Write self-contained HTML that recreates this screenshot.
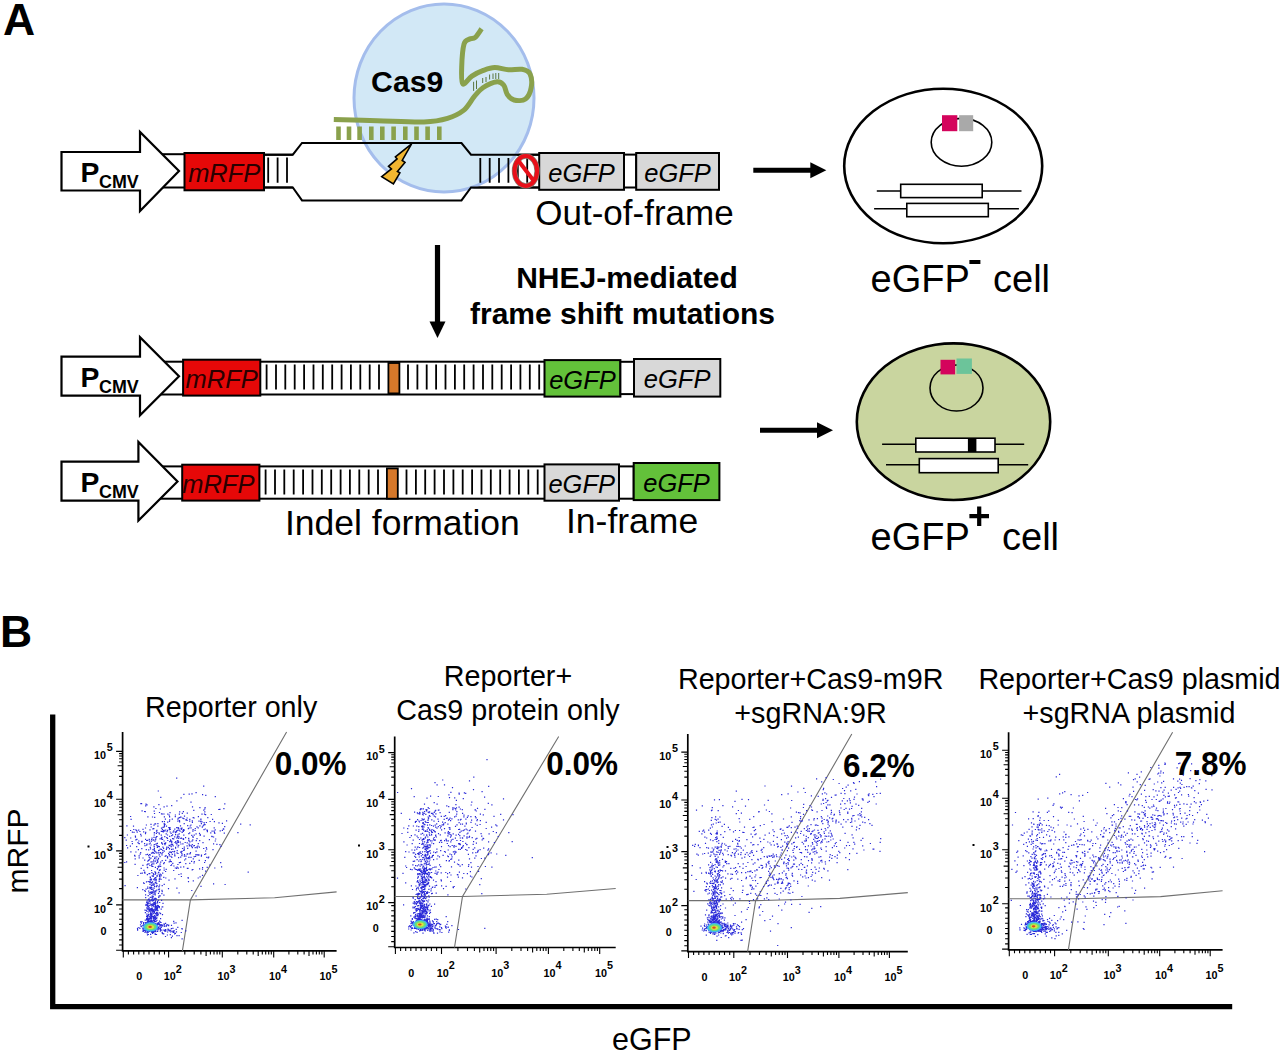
<!DOCTYPE html>
<html><head><meta charset="utf-8"><style>
html,body{margin:0;padding:0;background:#fff;}
svg{display:block;font-family:"Liberation Sans", sans-serif;}
</style></head><body>
<svg width="1280" height="1053" viewBox="0 0 1280 1053">
<rect width="1280" height="1053" fill="#fff"/>
<text x="3" y="35.2" font-size="44.5" font-weight="bold">A</text>
<rect x="140" y="154.2" width="45" height="33.30000000000001" fill="#fff" stroke="#000" stroke-width="2"/>
<polygon points="61.5,152 140,152 140,132 179,171 140,211 140,190.5 61.5,190.5" fill="#fff" stroke="#000" stroke-width="2.2" stroke-linejoin="miter"/>
<text x="80.5" y="181.5" font-size="28.3" font-weight="bold">P</text>
<text x="99" y="188.3" font-size="17.9" font-weight="bold">CMV</text>
<rect x="264" y="154.7" width="36" height="32.80000000000001" fill="#fff" stroke="#000" stroke-width="2"/>
<rect x="465" y="154.7" width="75" height="32.80000000000001" fill="#fff" stroke="#000" stroke-width="2"/>
<polygon points="292.8,154.7 302,143 461.5,143 471,154.7 471,187.5 461.5,200.4 302,200.4 292.8,187.5" fill="#fff" stroke="none"/>
<ellipse cx="444" cy="98" rx="90" ry="94" fill="#d2e8f6" stroke="#a4bdec" stroke-width="3"/>
<polyline points="264,154.7 292.8,154.7 302,143 461.5,143 471,154.7 540,154.7" fill="none" stroke="#000" stroke-width="2"/>
<polyline points="264,187.5 292.8,187.5 302,200.4 461.5,200.4 471,187.5 540,187.5" fill="none" stroke="#000" stroke-width="2"/>
<path d="M268.2 157.5V182.8M277.6 157.5V182.8M287.0 157.5V182.8" stroke="#000" stroke-width="1.8" fill="none"/>
<path d="M480.3 158V182.8M489.7 158V182.8M499.0 158V182.8M508.4 158V182.8M517.8 158V182.8M527.2 158V182.8" stroke="#000" stroke-width="1.8" fill="none"/>
<rect x="184.5" y="153" width="79.5" height="37.30000000000001" fill="#e60808" stroke="#000" stroke-width="2"/>
<text x="224.25" y="181.85" font-size="25.5" font-style="italic" text-anchor="middle" fill="#2a0000">mRFP</text>
<rect x="539.2" y="153" width="84.79999999999995" height="36.80000000000001" fill="#d8d8d8" stroke="#000" stroke-width="2"/>
<text x="581.6" y="181.6" font-size="25.5" font-style="italic" text-anchor="middle" fill="#000">eGFP</text>
<rect x="624" y="154.6" width="12.200000000000045" height="32.900000000000006" fill="#fff" stroke="#000" stroke-width="2"/>
<rect x="636.2" y="153" width="82.79999999999995" height="36.80000000000001" fill="#d8d8d8" stroke="#000" stroke-width="2"/>
<text x="677.6" y="181.6" font-size="25.5" font-style="italic" text-anchor="middle" fill="#000">eGFP</text>
<g fill="#8aa14c"><rect x="336.2" y="126.5" width="4.6" height="13.5"/><rect x="346.7" y="126.5" width="4.6" height="13.5"/><rect x="357.3" y="126.5" width="4.6" height="13.5"/><rect x="369.0" y="126.5" width="4.6" height="13.5"/><rect x="380.0" y="126.5" width="4.6" height="13.5"/><rect x="391.3" y="126.5" width="4.6" height="13.5"/><rect x="403.0" y="126.5" width="4.6" height="13.5"/><rect x="414.2" y="126.5" width="4.6" height="13.5"/><rect x="425.3" y="126.5" width="4.6" height="13.5"/><rect x="437.0" y="126.5" width="4.6" height="13.5"/></g>
<path d="M333.8 119.5C341.0 119.7 362.2 120.3 377.2 120.7C392.2 121.1 412.3 122.3 424.0 121.9C435.7 121.5 440.9 120.3 447.5 118.3C454.1 116.3 459.4 113.7 463.9 110.1C468.3 106.5 471.0 100.4 474.2 96.6C477.4 92.8 479.5 90.0 483.3 87.5C487.1 85.0 493.6 82.2 497.0 81.8C500.4 81.4 502.1 83.1 503.8 85.2C505.5 87.3 505.5 91.8 507.2 94.3C508.9 96.8 510.9 99.2 514.0 100.0C517.0 100.8 522.6 101.0 525.5 98.9C528.4 96.8 530.5 91.7 531.2 87.5C532.0 83.3 531.5 76.8 530.0 73.8C528.5 70.8 525.6 70.0 522.0 69.3C518.4 68.6 512.9 70.1 508.4 69.8C503.8 69.5 498.9 67.4 494.7 67.5C490.5 67.6 487.1 69.0 483.3 70.4C479.5 71.8 475.3 73.8 471.9 76.1C468.5 78.4 464.5 85.5 462.8 84.0C461.1 82.5 461.5 73.6 461.7 67.0C461.9 60.4 462.7 48.9 464.0 44.2C465.3 39.5 467.7 40.1 469.6 39.0C471.5 37.9 473.3 39.1 475.3 37.4C477.3 35.7 480.6 30.2 481.6 28.8" fill="none" stroke="#8aa14c" stroke-width="5" stroke-linejoin="round" stroke-linecap="butt"/>
<path d="M473.6 81.8V90.9M476.5 80.5V89M482.7 78V83M486 77V82M489.6 74.5V79.5M493 73.5V79M495.8 73V79M498.7 73V79" stroke="#4e6a2a" stroke-width="0.9"/>
<polygon points="411.6,143.8 395.4,156.9 397.1,158.9 388.5,166.3 391.4,168.9 381.7,176.6 393.4,184 399.9,172.9 397.4,171.5 405,162.4 402.2,160.4" fill="#f2b630" stroke="#000" stroke-width="1.6" stroke-linejoin="miter"/>
<ellipse cx="525.8" cy="171" rx="11.3" ry="14.9" fill="none" stroke="#8a7a70" stroke-width="5.4"/>
<ellipse cx="525.8" cy="171" rx="11.3" ry="14.9" fill="none" stroke="#e8101a" stroke-width="4"/>
<line x1="519" y1="161.5" x2="533.5" y2="180.5" stroke="#e8101a" stroke-width="4"/>
<text x="634.5" y="225" font-size="35" text-anchor="middle">Out-of-frame</text>

<text x="407.2" y="91.6" font-size="30.2" font-weight="bold" text-anchor="middle">Cas9</text>
<line x1="753.3" y1="170.2" x2="812.3" y2="170.2" stroke="#000" stroke-width="5"/>
<polygon points="810.3,162.2 826.3,170.2 810.3,178.2" fill="#000"/>
<line x1="760" y1="430.2" x2="819" y2="430.2" stroke="#000" stroke-width="5"/>
<polygon points="817,422.2 833,430.2 817,438.2" fill="#000"/>
<ellipse cx="943.2" cy="166" rx="99" ry="77.3" fill="#fff" stroke="#000" stroke-width="2.6"/>
<ellipse cx="961.5" cy="142.3" rx="30.3" ry="23.9" fill="none" stroke="#000" stroke-width="1.6"/>
<rect x="942" y="115.2" width="15.3" height="16" fill="#d4045c"/>
<rect x="959.1" y="115.2" width="14.1" height="16" fill="#a9a9a9"/>
<path d="M876.8 191H1021.5M874.1 208.7H1018.9" stroke="#000" stroke-width="1.6"/>
<rect x="900.7" y="184.3" width="81.5" height="13.3" fill="#fff" stroke="#000" stroke-width="1.6"/>
<rect x="906.8" y="203.4" width="81.5" height="13.3" fill="#fff" stroke="#000" stroke-width="1.6"/>
<text x="870.5" y="291.8" font-size="38">eGFP</text>
<rect x="969.4" y="260" width="11" height="4" fill="#000"/>
<text x="993" y="291.8" font-size="38">cell</text>
<line x1="437.5" y1="245" x2="437.5" y2="323" stroke="#000" stroke-width="5.2"/>
<polygon points="429.5,321.5 445.5,321.5 437.5,338" fill="#000"/>
<text x="627" y="287.8" font-size="30" font-weight="bold" text-anchor="middle">NHEJ-mediated</text>
<text x="622.5" y="323.75" font-size="30" font-weight="bold" text-anchor="middle">frame shift mutations</text>
<rect x="140" y="361.7" width="45" height="32.80000000000001" fill="#fff" stroke="#000" stroke-width="2"/>
<polygon points="61.5,356.6 140,356.6 140,337.2 179,376.25 140,415.3 140,395.6 61.5,395.6" fill="#fff" stroke="#000" stroke-width="2.2" stroke-linejoin="miter"/>
<text x="80.5" y="386.5" font-size="28.3" font-weight="bold">P</text>
<text x="99" y="393.3" font-size="17.9" font-weight="bold">CMV</text>
<rect x="260" y="361.7" width="285" height="32.80000000000001" fill="#fff" stroke="#000" stroke-width="2"/>
<path d="M266.6 364.4V389.4M276.0 364.4V389.4M285.3 364.4V389.4M294.7 364.4V389.4M304.1 364.4V389.4M313.5 364.4V389.4M322.8 364.4V389.4M332.2 364.4V389.4M341.6 364.4V389.4M350.9 364.4V389.4M360.3 364.4V389.4M369.7 364.4V389.4M379.0 364.4V389.4" stroke="#000" stroke-width="1.8" fill="none"/>
<path d="M408.0 364.4V389.4M417.4 364.4V389.4M426.7 364.4V389.4M436.1 364.4V389.4M445.5 364.4V389.4M454.9 364.4V389.4M464.2 364.4V389.4M473.6 364.4V389.4M483.0 364.4V389.4M492.3 364.4V389.4M501.7 364.4V389.4M511.1 364.4V389.4M520.4 364.4V389.4M529.8 364.4V389.4M539.2 364.4V389.4" stroke="#000" stroke-width="1.8" fill="none"/>
<rect x="388.4" y="363" width="11" height="30.4" fill="#d6782a" stroke="#000" stroke-width="1.8"/>
<rect x="183.1" y="359.7" width="77.20000000000002" height="35.900000000000034" fill="#e60808" stroke="#000" stroke-width="2"/>
<text x="221.7" y="387.84999999999997" font-size="25.5" font-style="italic" text-anchor="middle" fill="#2a0000">mRFP</text>
<rect x="544.5" y="360.1" width="75.89999999999998" height="36.5" fill="#63c13a" stroke="#000" stroke-width="2"/>
<text x="582.45" y="388.55" font-size="25.5" font-style="italic" text-anchor="middle" fill="#000">eGFP</text>
<rect x="620.4" y="361.8" width="13.600000000000023" height="32.30000000000001" fill="#fff" stroke="#000" stroke-width="2"/>
<rect x="634" y="359" width="86.29999999999995" height="37.60000000000002" fill="#d8d8d8" stroke="#000" stroke-width="2"/>
<text x="677.15" y="388.0" font-size="25.5" font-style="italic" text-anchor="middle" fill="#000">eGFP</text>
<rect x="140" y="466.4" width="45" height="32.30000000000001" fill="#fff" stroke="#000" stroke-width="2"/>
<polygon points="61.5,461.6 138.4,461.6 138.4,441.9 177.5,481.6 138.4,520.6 138.4,500.6 61.5,500.6" fill="#fff" stroke="#000" stroke-width="2.2" stroke-linejoin="miter"/>
<text x="80.5" y="491.5" font-size="28.3" font-weight="bold">P</text>
<text x="99" y="498.3" font-size="17.9" font-weight="bold">CMV</text>
<rect x="259" y="466.4" width="286" height="32.30000000000001" fill="#fff" stroke="#000" stroke-width="2"/>
<path d="M265.6 469.5V494.5M275.0 469.5V494.5M284.3 469.5V494.5M293.7 469.5V494.5M303.1 469.5V494.5M312.5 469.5V494.5M321.8 469.5V494.5M331.2 469.5V494.5M340.6 469.5V494.5M349.9 469.5V494.5M359.3 469.5V494.5M368.7 469.5V494.5M378.0 469.5V494.5" stroke="#000" stroke-width="1.8" fill="none"/>
<path d="M406.5 469.5V494.5M415.9 469.5V494.5M425.2 469.5V494.5M434.6 469.5V494.5M444.0 469.5V494.5M453.4 469.5V494.5M462.7 469.5V494.5M472.1 469.5V494.5M481.5 469.5V494.5M490.8 469.5V494.5M500.2 469.5V494.5M509.6 469.5V494.5M518.9 469.5V494.5M528.3 469.5V494.5M537.7 469.5V494.5" stroke="#000" stroke-width="1.8" fill="none"/>
<rect x="386.9" y="468.4" width="10.9" height="30.3" fill="#d6782a" stroke="#000" stroke-width="1.8"/>
<rect x="182.2" y="464.7" width="77.19999999999999" height="35.900000000000034" fill="#e60808" stroke="#000" stroke-width="2"/>
<text x="218.29999999999998" y="492.84999999999997" font-size="25.5" font-style="italic" text-anchor="middle" fill="#2a0000">mRFP</text>
<rect x="544.5" y="464.4" width="74.5" height="36.30000000000001" fill="#d8d8d8" stroke="#000" stroke-width="2"/>
<text x="581.75" y="492.74999999999994" font-size="25.5" font-style="italic" text-anchor="middle" fill="#000">eGFP</text>
<rect x="619" y="466.4" width="14.700000000000045" height="32.30000000000001" fill="#fff" stroke="#000" stroke-width="2"/>
<rect x="633.7" y="463" width="85.69999999999993" height="37.10000000000002" fill="#63c13a" stroke="#000" stroke-width="2"/>
<text x="676.55" y="491.75" font-size="25.5" font-style="italic" text-anchor="middle" fill="#000">eGFP</text>
<text x="285" y="535" font-size="35.5">Indel formation</text>
<text x="566" y="532.5" font-size="35.5">In-frame</text>
<ellipse cx="953.5" cy="421.7" rx="96.7" ry="78.3" fill="#c9d59f" stroke="#000" stroke-width="2.6"/>
<ellipse cx="956.5" cy="388" rx="26.5" ry="23" fill="none" stroke="#000" stroke-width="1.6"/>
<rect x="940.5" y="359.8" width="14.6" height="14.6" fill="#d4045c"/>
<rect x="956.5" y="358.5" width="15.4" height="15.4" fill="#6cc49a"/>
<path d="M882.1 444.3H1024.2M886 464.8H1028.2" stroke="#000" stroke-width="1.6"/>
<rect x="915.8" y="438.2" width="79.2" height="13.8" fill="#fff" stroke="#000" stroke-width="1.6"/>
<rect x="967.9" y="438.2" width="8.5" height="13.8" fill="#000"/>
<rect x="919.3" y="458.6" width="78.9" height="14.1" fill="#fff" stroke="#000" stroke-width="1.6"/>
<text x="870.5" y="549.6" font-size="38">eGFP</text>
<path d="M969.4 516.2H989M979.2 506.4V526" stroke="#000" stroke-width="4.2"/>
<text x="1002" y="549.6" font-size="38">cell</text>
<text x="0" y="647.2" font-size="44.5" font-weight="bold">B</text>
<path d="M52.7 714.6V1006.7H1232.2" fill="none" stroke="#000" stroke-width="5.3"/>
<text transform="translate(28 851) rotate(-90)" font-size="30" text-anchor="middle">mRFP</text>
<text x="651.8" y="1050.4" font-size="30.5" text-anchor="middle">eGFP</text>
<path d="M122.6 731.9V950.9H336.6" fill="none" stroke="#000" stroke-width="1.7"/><path d="M116.1 904.9H122.6M168.6 950.9V957.4M116.1 850.9H122.6M222.3 950.9V957.4M116.1 799.3H122.6M273.7 950.9V957.4M116.1 751.4H122.6M324.2 950.9V957.4M119.1 888.6H122.6M184.8 950.9V954.4M119.1 879.1H122.6M194.2 950.9V954.4M119.1 872.4H122.6M200.9 950.9V954.4M117.6 867.2H122.6M206.1 950.9V955.9M119.1 862.9H122.6M210.4 950.9V954.4M119.1 859.3H122.6M214.0 950.9V954.4M119.1 856.1H122.6M217.1 950.9V954.4M119.1 853.4H122.6M219.8 950.9V954.4M119.1 835.4H122.6M237.8 950.9V954.4M119.1 826.3H122.6M246.8 950.9V954.4M119.1 819.8H122.6M253.2 950.9V954.4M117.6 814.8H122.6M258.2 950.9V955.9M119.1 810.7H122.6M262.3 950.9V954.4M119.1 807.3H122.6M265.7 950.9V954.4M119.1 804.3H122.6M268.7 950.9V954.4M119.1 801.7H122.6M271.3 950.9V954.4M119.1 784.9H122.6M288.9 950.9V954.4M119.1 776.4H122.6M297.8 950.9V954.4M119.1 770.5H122.6M304.1 950.9V954.4M117.6 765.8H122.6M309.0 950.9V955.9M119.1 762.0H122.6M313.0 950.9V954.4M119.1 758.8H122.6M316.4 950.9V954.4M119.1 756.0H122.6M319.3 950.9V954.4M119.1 753.6H122.6M321.9 950.9V954.4M116.1 950.2H122.6M123.3 950.9V957.4M119.1 945.0H122.6M128.4 950.9V954.4M119.1 939.9H122.6M133.6 950.9V954.4M119.1 934.8H122.6M138.8 950.9V954.4M119.1 929.6H122.6M143.9 950.9V954.4M119.1 924.4H122.6M149.0 950.9V954.4M119.1 919.3H122.6M154.2 950.9V954.4M119.1 914.1H122.6M159.3 950.9V954.4M119.1 909.0H122.6M164.5 950.9V954.4" stroke="#000" stroke-width="1.1"/><text x="106.1" y="759.1" font-size="10.8" font-weight="bold" text-anchor="end">10</text><text x="106.69999999999999" y="751.4" font-size="10.8" font-weight="bold">5</text><text x="106.1" y="807.0" font-size="10.8" font-weight="bold" text-anchor="end">10</text><text x="106.69999999999999" y="799.3" font-size="10.8" font-weight="bold">4</text><text x="106.1" y="858.6" font-size="10.8" font-weight="bold" text-anchor="end">10</text><text x="106.69999999999999" y="850.9" font-size="10.8" font-weight="bold">3</text><text x="106.1" y="912.6" font-size="10.8" font-weight="bold" text-anchor="end">10</text><text x="106.69999999999999" y="904.9" font-size="10.8" font-weight="bold">2</text><text x="103.6" y="935.1" font-size="10.8" font-weight="bold" text-anchor="middle">0</text><text x="139.2" y="980.1999999999999" font-size="10.8" font-weight="bold" text-anchor="middle">0</text><text x="175.8" y="980.1999999999999" font-size="10.8" font-weight="bold" text-anchor="end">10</text><text x="175.8" y="972.8" font-size="10.8" font-weight="bold">2</text><text x="229.5" y="980.1999999999999" font-size="10.8" font-weight="bold" text-anchor="end">10</text><text x="229.5" y="972.8" font-size="10.8" font-weight="bold">3</text><text x="280.9" y="980.1999999999999" font-size="10.8" font-weight="bold" text-anchor="end">10</text><text x="280.9" y="972.8" font-size="10.8" font-weight="bold">4</text><text x="331.4" y="980.1999999999999" font-size="10.8" font-weight="bold" text-anchor="end">10</text><text x="331.4" y="972.8" font-size="10.8" font-weight="bold">5</text><polyline points="182.39999999999998,950.9 190.39999999999998,899.9 286.6,731.9" fill="none" stroke="#707070" stroke-width="1.1"/><polyline points="122.6,899.9 190.39999999999998,899.9 274.6,897.6999999999999 336.6,891.9" fill="none" stroke="#707070" stroke-width="1.1"/>
<text transform="translate(310.6 775) scale(1 1.08)" font-size="31.5" font-weight="bold" text-anchor="middle">0.0%</text>
<path d="M394.7 736.5V947.5H615.7" fill="none" stroke="#000" stroke-width="1.7"/><path d="M388.2 902.6H394.7M441.5 947.5V954.0M388.2 849.8H394.7M496.1 947.5V954.0M388.2 799.4H394.7M548.4 947.5V954.0M388.2 752.6H394.7M599.7 947.5V954.0M391.2 886.7H394.7M457.9 947.5V951.0M391.2 877.4H394.7M467.5 947.5V951.0M391.2 870.8H394.7M474.4 947.5V951.0M389.7 865.7H394.7M479.7 947.5V952.5M391.2 861.5H394.7M484.0 947.5V951.0M391.2 858.0H394.7M487.6 947.5V951.0M391.2 854.9H394.7M490.8 947.5V951.0M391.2 852.2H394.7M493.6 947.5V951.0M391.2 834.6H394.7M511.8 947.5V951.0M391.2 825.7H394.7M521.0 947.5V951.0M391.2 819.4H394.7M527.6 947.5V951.0M389.7 814.6H394.7M532.6 947.5V952.5M391.2 810.6H394.7M536.8 947.5V951.0M391.2 807.2H394.7M540.3 947.5V951.0M391.2 804.3H394.7M543.3 947.5V951.0M391.2 801.7H394.7M546.0 947.5V951.0M391.2 785.3H394.7M563.8 947.5V951.0M391.2 777.1H394.7M572.9 947.5V951.0M391.2 771.2H394.7M579.3 947.5V951.0M389.7 766.7H394.7M584.3 947.5V952.5M391.2 763.0H394.7M588.3 947.5V951.0M391.2 759.8H394.7M591.8 947.5V951.0M391.2 757.1H394.7M594.8 947.5V951.0M391.2 754.7H394.7M597.4 947.5V951.0M388.2 946.8H394.7M395.4 947.5V954.0M391.2 941.6H394.7M400.6 947.5V951.0M391.2 936.5H394.7M405.7 947.5V951.0M391.2 931.4H394.7M410.8 947.5V951.0M391.2 926.2H394.7M416.0 947.5V951.0M391.2 921.0H394.7M421.1 947.5V951.0M391.2 915.9H394.7M426.3 947.5V951.0M391.2 910.8H394.7M431.4 947.5V951.0M391.2 905.6H394.7M436.6 947.5V951.0" stroke="#000" stroke-width="1.1"/><text x="378.2" y="760.3" font-size="10.8" font-weight="bold" text-anchor="end">10</text><text x="378.8" y="752.6" font-size="10.8" font-weight="bold">5</text><text x="378.2" y="807.1" font-size="10.8" font-weight="bold" text-anchor="end">10</text><text x="378.8" y="799.4" font-size="10.8" font-weight="bold">4</text><text x="378.2" y="857.5" font-size="10.8" font-weight="bold" text-anchor="end">10</text><text x="378.8" y="849.8" font-size="10.8" font-weight="bold">3</text><text x="378.2" y="910.3" font-size="10.8" font-weight="bold" text-anchor="end">10</text><text x="378.8" y="902.6" font-size="10.8" font-weight="bold">2</text><text x="375.7" y="931.7" font-size="10.8" font-weight="bold" text-anchor="middle">0</text><text x="411.3" y="976.8" font-size="10.8" font-weight="bold" text-anchor="middle">0</text><text x="448.7" y="976.8" font-size="10.8" font-weight="bold" text-anchor="end">10</text><text x="448.7" y="969.4" font-size="10.8" font-weight="bold">2</text><text x="503.3" y="976.8" font-size="10.8" font-weight="bold" text-anchor="end">10</text><text x="503.3" y="969.4" font-size="10.8" font-weight="bold">3</text><text x="555.6" y="976.8" font-size="10.8" font-weight="bold" text-anchor="end">10</text><text x="555.6" y="969.4" font-size="10.8" font-weight="bold">4</text><text x="606.9" y="976.8" font-size="10.8" font-weight="bold" text-anchor="end">10</text><text x="606.9" y="969.4" font-size="10.8" font-weight="bold">5</text><polyline points="454.5,947.5 462.5,896.5 558.7,736.5" fill="none" stroke="#707070" stroke-width="1.1"/><polyline points="394.7,896.5 462.5,896.5 546.7,894.3 615.7,888.5" fill="none" stroke="#707070" stroke-width="1.1"/>
<text transform="translate(582.1 775) scale(1 1.08)" font-size="31.5" font-weight="bold" text-anchor="middle">0.0%</text>
<path d="M687.8 734.0V951.6H907.8" fill="none" stroke="#000" stroke-width="1.7"/><path d="M681.3 905.6H687.8M733.8 951.6V958.1M681.3 851.6H687.8M787.5 951.6V958.1M681.3 800.0H687.8M838.9 951.6V958.1M681.3 752.1H687.8M889.4 951.6V958.1M684.3 889.3H687.8M750.0 951.6V955.1M684.3 879.8H687.8M759.4 951.6V955.1M684.3 873.1H687.8M766.1 951.6V955.1M682.8 867.9H687.8M771.3 951.6V956.6M684.3 863.6H687.8M775.6 951.6V955.1M684.3 860.0H687.8M779.2 951.6V955.1M684.3 856.8H687.8M782.3 951.6V955.1M684.3 854.1H687.8M785.0 951.6V955.1M684.3 836.1H687.8M803.0 951.6V955.1M684.3 827.0H687.8M812.0 951.6V955.1M684.3 820.5H687.8M818.4 951.6V955.1M682.8 815.5H687.8M823.4 951.6V956.6M684.3 811.4H687.8M827.5 951.6V955.1M684.3 808.0H687.8M830.9 951.6V955.1M684.3 805.0H687.8M833.9 951.6V955.1M684.3 802.4H687.8M836.5 951.6V955.1M684.3 785.6H687.8M854.1 951.6V955.1M684.3 777.1H687.8M863.0 951.6V955.1M684.3 771.2H687.8M869.3 951.6V955.1M682.8 766.5H687.8M874.2 951.6V956.6M684.3 762.7H687.8M878.2 951.6V955.1M684.3 759.5H687.8M881.6 951.6V955.1M684.3 756.7H687.8M884.5 951.6V955.1M684.3 754.3H687.8M887.1 951.6V955.1M681.3 950.9H687.8M688.5 951.6V958.1M684.3 945.8H687.8M693.6 951.6V955.1M684.3 940.6H687.8M698.8 951.6V955.1M684.3 935.5H687.8M703.9 951.6V955.1M684.3 930.3H687.8M709.1 951.6V955.1M684.3 925.1H687.8M714.2 951.6V955.1M684.3 920.0H687.8M719.4 951.6V955.1M684.3 914.9H687.8M724.5 951.6V955.1M684.3 909.7H687.8M729.7 951.6V955.1" stroke="#000" stroke-width="1.1"/><text x="671.3" y="759.8" font-size="10.8" font-weight="bold" text-anchor="end">10</text><text x="671.9" y="752.1" font-size="10.8" font-weight="bold">5</text><text x="671.3" y="807.7" font-size="10.8" font-weight="bold" text-anchor="end">10</text><text x="671.9" y="800.0" font-size="10.8" font-weight="bold">4</text><text x="671.3" y="859.3" font-size="10.8" font-weight="bold" text-anchor="end">10</text><text x="671.9" y="851.6" font-size="10.8" font-weight="bold">3</text><text x="671.3" y="913.3" font-size="10.8" font-weight="bold" text-anchor="end">10</text><text x="671.9" y="905.6" font-size="10.8" font-weight="bold">2</text><text x="668.8" y="935.8" font-size="10.8" font-weight="bold" text-anchor="middle">0</text><text x="704.4" y="980.9" font-size="10.8" font-weight="bold" text-anchor="middle">0</text><text x="741.0" y="980.9" font-size="10.8" font-weight="bold" text-anchor="end">10</text><text x="741.0" y="973.5" font-size="10.8" font-weight="bold">2</text><text x="794.7" y="980.9" font-size="10.8" font-weight="bold" text-anchor="end">10</text><text x="794.7" y="973.5" font-size="10.8" font-weight="bold">3</text><text x="846.1" y="980.9" font-size="10.8" font-weight="bold" text-anchor="end">10</text><text x="846.1" y="973.5" font-size="10.8" font-weight="bold">4</text><text x="896.6" y="980.9" font-size="10.8" font-weight="bold" text-anchor="end">10</text><text x="896.6" y="973.5" font-size="10.8" font-weight="bold">5</text><polyline points="747.5999999999999,951.6 755.5999999999999,900.6 851.8,734.0" fill="none" stroke="#707070" stroke-width="1.1"/><polyline points="687.8,900.6 755.5999999999999,900.6 839.8,898.4 907.8,892.6" fill="none" stroke="#707070" stroke-width="1.1"/>
<text transform="translate(878.8 776.7) scale(1 1.08)" font-size="31.5" font-weight="bold" text-anchor="middle">6.2%</text>
<path d="M1008.6 732.1999999999999V949.8H1222.6" fill="none" stroke="#000" stroke-width="1.7"/><path d="M1002.1 903.8H1008.6M1054.6 949.8V956.3M1002.1 849.8H1008.6M1108.3 949.8V956.3M1002.1 798.2H1008.6M1159.7 949.8V956.3M1002.1 750.3H1008.6M1210.2 949.8V956.3M1005.1 887.5H1008.6M1070.8 949.8V953.3M1005.1 878.0H1008.6M1080.2 949.8V953.3M1005.1 871.3H1008.6M1086.9 949.8V953.3M1003.6 866.1H1008.6M1092.1 949.8V954.8M1005.1 861.8H1008.6M1096.4 949.8V953.3M1005.1 858.2H1008.6M1100.0 949.8V953.3M1005.1 855.0H1008.6M1103.1 949.8V953.3M1005.1 852.3H1008.6M1105.8 949.8V953.3M1005.1 834.3H1008.6M1123.8 949.8V953.3M1005.1 825.2H1008.6M1132.8 949.8V953.3M1005.1 818.7H1008.6M1139.2 949.8V953.3M1003.6 813.7H1008.6M1144.2 949.8V954.8M1005.1 809.6H1008.6M1148.3 949.8V953.3M1005.1 806.2H1008.6M1151.7 949.8V953.3M1005.1 803.2H1008.6M1154.7 949.8V953.3M1005.1 800.6H1008.6M1157.3 949.8V953.3M1005.1 783.8H1008.6M1174.9 949.8V953.3M1005.1 775.3H1008.6M1183.8 949.8V953.3M1005.1 769.4H1008.6M1190.1 949.8V953.3M1003.6 764.7H1008.6M1195.0 949.8V954.8M1005.1 760.9H1008.6M1199.0 949.8V953.3M1005.1 757.7H1008.6M1202.4 949.8V953.3M1005.1 754.9H1008.6M1205.3 949.8V953.3M1005.1 752.5H1008.6M1207.9 949.8V953.3M1002.1 949.1H1008.6M1009.3 949.8V956.3M1005.1 943.9H1008.6M1014.5 949.8V953.3M1005.1 938.8H1008.6M1019.6 949.8V953.3M1005.1 933.6H1008.6M1024.8 949.8V953.3M1005.1 928.5H1008.6M1029.9 949.8V953.3M1005.1 923.3H1008.6M1035.0 949.8V953.3M1005.1 918.2H1008.6M1040.2 949.8V953.3M1005.1 913.0H1008.6M1045.4 949.8V953.3M1005.1 907.9H1008.6M1050.5 949.8V953.3" stroke="#000" stroke-width="1.1"/><text x="992.1" y="758.0" font-size="10.8" font-weight="bold" text-anchor="end">10</text><text x="992.7" y="750.3" font-size="10.8" font-weight="bold">5</text><text x="992.1" y="805.9" font-size="10.8" font-weight="bold" text-anchor="end">10</text><text x="992.7" y="798.2" font-size="10.8" font-weight="bold">4</text><text x="992.1" y="857.5" font-size="10.8" font-weight="bold" text-anchor="end">10</text><text x="992.7" y="849.8" font-size="10.8" font-weight="bold">3</text><text x="992.1" y="911.5" font-size="10.8" font-weight="bold" text-anchor="end">10</text><text x="992.7" y="903.8" font-size="10.8" font-weight="bold">2</text><text x="989.6" y="934.0" font-size="10.8" font-weight="bold" text-anchor="middle">0</text><text x="1025.2" y="979.0999999999999" font-size="10.8" font-weight="bold" text-anchor="middle">0</text><text x="1061.8" y="979.0999999999999" font-size="10.8" font-weight="bold" text-anchor="end">10</text><text x="1061.8" y="971.6999999999999" font-size="10.8" font-weight="bold">2</text><text x="1115.5" y="979.0999999999999" font-size="10.8" font-weight="bold" text-anchor="end">10</text><text x="1115.5" y="971.6999999999999" font-size="10.8" font-weight="bold">3</text><text x="1166.9" y="979.0999999999999" font-size="10.8" font-weight="bold" text-anchor="end">10</text><text x="1166.9" y="971.6999999999999" font-size="10.8" font-weight="bold">4</text><text x="1217.4" y="979.0999999999999" font-size="10.8" font-weight="bold" text-anchor="end">10</text><text x="1217.4" y="971.6999999999999" font-size="10.8" font-weight="bold">5</text><polyline points="1068.4,949.8 1076.4,898.8 1172.6,732.1999999999999" fill="none" stroke="#707070" stroke-width="1.1"/><polyline points="1008.6,898.8 1076.4,898.8 1160.6,896.5999999999999 1222.6,890.8" fill="none" stroke="#707070" stroke-width="1.1"/>
<text transform="translate(1210.6 775.3) scale(1 1.08)" font-size="31.5" font-weight="bold" text-anchor="middle">7.8%</text>
<text x="231.2" y="717" font-size="28.7" text-anchor="middle">Reporter only</text>
<text x="508" y="686" font-size="28.7" text-anchor="middle">Reporter+</text>
<text x="508" y="720.3" font-size="28.7" text-anchor="middle">Cas9 protein only</text>
<text x="810.7" y="688.5" font-size="28.7" text-anchor="middle">Reporter+Cas9-m9R</text>
<text x="810.5" y="723" font-size="28.7" text-anchor="middle">+sgRNA:9R</text>
<text x="1129.5" y="688.5" font-size="28.7" text-anchor="middle">Reporter+Cas9 plasmid</text>
<text x="1129" y="722.5" font-size="28.7" text-anchor="middle">+sgRNA plasmid</text>
<path d="M152.3 929.5h1.2v1.2h-1.2zM154.7 925.0h1.2v1.2h-1.2zM152.3 932.2h1.2v1.2h-1.2zM144.1 930.0h1.2v1.2h-1.2zM155.1 926.8h1.2v1.2h-1.2zM152.8 931.0h1.2v1.2h-1.2zM147.9 926.8h1.2v1.2h-1.2zM153.5 927.1h1.2v1.2h-1.2zM152.4 924.2h1.2v1.2h-1.2zM152.1 929.6h1.2v1.2h-1.2zM150.7 928.8h1.2v1.2h-1.2zM153.3 925.9h1.2v1.2h-1.2zM146.9 934.3h1.2v1.2h-1.2zM149.8 917.6h1.2v1.2h-1.2zM148.2 929.0h1.2v1.2h-1.2zM153.6 929.1h1.2v1.2h-1.2zM150.8 924.3h1.2v1.2h-1.2zM149.1 927.0h1.2v1.2h-1.2zM146.7 932.2h1.2v1.2h-1.2zM149.3 925.0h1.2v1.2h-1.2zM150.6 924.3h1.2v1.2h-1.2zM149.2 928.2h1.2v1.2h-1.2zM157.1 927.7h1.2v1.2h-1.2zM155.6 925.4h1.2v1.2h-1.2zM137.0 929.6h1.2v1.2h-1.2zM141.2 925.6h1.2v1.2h-1.2zM149.7 926.3h1.2v1.2h-1.2zM148.5 928.9h1.2v1.2h-1.2zM151.7 931.1h1.2v1.2h-1.2zM151.7 927.6h1.2v1.2h-1.2zM161.2 929.5h1.2v1.2h-1.2zM145.0 923.9h1.2v1.2h-1.2zM148.7 926.5h1.2v1.2h-1.2zM160.8 924.6h1.2v1.2h-1.2zM153.8 926.5h1.2v1.2h-1.2zM153.9 926.1h1.2v1.2h-1.2zM148.0 929.2h1.2v1.2h-1.2zM142.4 924.9h1.2v1.2h-1.2zM151.4 921.5h1.2v1.2h-1.2zM151.1 927.8h1.2v1.2h-1.2zM144.5 928.7h1.2v1.2h-1.2zM147.2 927.4h1.2v1.2h-1.2zM150.2 928.3h1.2v1.2h-1.2zM145.9 929.0h1.2v1.2h-1.2zM150.1 926.5h1.2v1.2h-1.2zM151.1 927.8h1.2v1.2h-1.2zM150.8 922.6h1.2v1.2h-1.2zM148.1 926.9h1.2v1.2h-1.2zM153.6 925.9h1.2v1.2h-1.2zM155.1 924.0h1.2v1.2h-1.2zM152.2 927.8h1.2v1.2h-1.2zM146.5 922.6h1.2v1.2h-1.2zM154.3 928.8h1.2v1.2h-1.2zM148.1 929.3h1.2v1.2h-1.2zM155.0 928.0h1.2v1.2h-1.2zM145.2 927.2h1.2v1.2h-1.2zM155.2 931.1h1.2v1.2h-1.2zM150.5 927.0h1.2v1.2h-1.2zM144.4 931.9h1.2v1.2h-1.2zM149.0 922.7h1.2v1.2h-1.2zM150.9 927.1h1.2v1.2h-1.2zM152.0 928.8h1.2v1.2h-1.2zM145.7 929.6h1.2v1.2h-1.2zM145.1 928.1h1.2v1.2h-1.2zM151.6 927.6h1.2v1.2h-1.2zM148.3 930.0h1.2v1.2h-1.2zM151.8 929.7h1.2v1.2h-1.2zM154.4 927.5h1.2v1.2h-1.2zM142.4 928.5h1.2v1.2h-1.2zM151.9 924.1h1.2v1.2h-1.2zM156.7 923.5h1.2v1.2h-1.2zM149.1 926.9h1.2v1.2h-1.2zM146.5 925.5h1.2v1.2h-1.2zM154.4 930.9h1.2v1.2h-1.2zM151.9 925.0h1.2v1.2h-1.2zM155.1 927.0h1.2v1.2h-1.2zM148.9 925.4h1.2v1.2h-1.2zM143.2 922.1h1.2v1.2h-1.2zM150.0 933.7h1.2v1.2h-1.2zM148.4 926.1h1.2v1.2h-1.2zM154.5 930.2h1.2v1.2h-1.2zM151.6 925.1h1.2v1.2h-1.2zM142.4 930.8h1.2v1.2h-1.2zM144.6 928.4h1.2v1.2h-1.2zM155.0 926.3h1.2v1.2h-1.2zM154.0 925.1h1.2v1.2h-1.2zM147.4 926.7h1.2v1.2h-1.2zM150.6 929.3h1.2v1.2h-1.2zM152.8 928.6h1.2v1.2h-1.2zM152.9 924.2h1.2v1.2h-1.2zM155.0 926.9h1.2v1.2h-1.2zM151.9 932.0h1.2v1.2h-1.2zM150.1 924.4h1.2v1.2h-1.2zM149.3 925.7h1.2v1.2h-1.2zM155.9 924.3h1.2v1.2h-1.2zM139.3 927.9h1.2v1.2h-1.2zM149.9 924.4h1.2v1.2h-1.2zM150.8 930.1h1.2v1.2h-1.2zM143.5 925.2h1.2v1.2h-1.2zM152.3 928.4h1.2v1.2h-1.2zM147.3 924.9h1.2v1.2h-1.2zM154.9 923.9h1.2v1.2h-1.2zM150.0 929.1h1.2v1.2h-1.2zM153.9 927.1h1.2v1.2h-1.2zM156.7 926.8h1.2v1.2h-1.2zM152.5 923.3h1.2v1.2h-1.2zM146.2 924.8h1.2v1.2h-1.2zM143.0 930.6h1.2v1.2h-1.2zM159.4 925.5h1.2v1.2h-1.2zM150.0 924.7h1.2v1.2h-1.2zM147.2 920.5h1.2v1.2h-1.2zM151.3 931.9h1.2v1.2h-1.2zM149.6 928.5h1.2v1.2h-1.2zM154.9 922.9h1.2v1.2h-1.2zM150.8 931.0h1.2v1.2h-1.2zM150.7 930.5h1.2v1.2h-1.2zM147.0 925.3h1.2v1.2h-1.2zM152.9 923.8h1.2v1.2h-1.2zM145.4 928.9h1.2v1.2h-1.2zM153.9 925.3h1.2v1.2h-1.2zM158.2 926.5h1.2v1.2h-1.2zM143.0 922.3h1.2v1.2h-1.2zM138.3 926.9h1.2v1.2h-1.2zM153.7 923.9h1.2v1.2h-1.2zM163.3 929.6h1.2v1.2h-1.2zM145.6 927.5h1.2v1.2h-1.2zM144.3 927.2h1.2v1.2h-1.2zM153.5 923.5h1.2v1.2h-1.2zM146.4 925.2h1.2v1.2h-1.2zM148.1 929.2h1.2v1.2h-1.2zM148.9 924.9h1.2v1.2h-1.2zM153.3 924.6h1.2v1.2h-1.2zM148.6 927.2h1.2v1.2h-1.2zM152.0 927.7h1.2v1.2h-1.2zM149.7 927.5h1.2v1.2h-1.2zM146.4 932.0h1.2v1.2h-1.2zM149.0 926.3h1.2v1.2h-1.2zM145.8 926.2h1.2v1.2h-1.2zM150.6 929.5h1.2v1.2h-1.2zM145.0 924.7h1.2v1.2h-1.2zM145.1 931.0h1.2v1.2h-1.2zM157.9 928.6h1.2v1.2h-1.2zM150.3 928.3h1.2v1.2h-1.2zM150.3 920.9h1.2v1.2h-1.2zM153.2 931.7h1.2v1.2h-1.2zM148.5 925.2h1.2v1.2h-1.2zM149.5 924.1h1.2v1.2h-1.2zM152.7 925.8h1.2v1.2h-1.2zM152.0 923.4h1.2v1.2h-1.2zM144.8 929.9h1.2v1.2h-1.2zM154.8 933.7h1.2v1.2h-1.2zM147.6 924.6h1.2v1.2h-1.2zM145.3 930.5h1.2v1.2h-1.2zM146.1 927.9h1.2v1.2h-1.2zM148.6 930.4h1.2v1.2h-1.2zM158.7 923.7h1.2v1.2h-1.2zM144.7 924.3h1.2v1.2h-1.2zM151.4 929.1h1.2v1.2h-1.2zM139.9 924.2h1.2v1.2h-1.2zM150.6 926.5h1.2v1.2h-1.2zM155.1 927.3h1.2v1.2h-1.2zM149.4 926.7h1.2v1.2h-1.2zM147.5 927.5h1.2v1.2h-1.2zM151.8 925.1h1.2v1.2h-1.2zM154.1 926.0h1.2v1.2h-1.2zM153.9 927.9h1.2v1.2h-1.2zM160.5 923.9h1.2v1.2h-1.2zM151.6 928.7h1.2v1.2h-1.2zM147.6 926.0h1.2v1.2h-1.2zM150.0 925.6h1.2v1.2h-1.2zM150.2 922.5h1.2v1.2h-1.2zM151.1 928.4h1.2v1.2h-1.2zM150.4 921.7h1.2v1.2h-1.2zM151.5 926.4h1.2v1.2h-1.2zM142.2 927.5h1.2v1.2h-1.2zM154.7 928.9h1.2v1.2h-1.2zM147.7 925.1h1.2v1.2h-1.2zM144.7 926.8h1.2v1.2h-1.2zM153.8 930.2h1.2v1.2h-1.2zM157.2 930.3h1.2v1.2h-1.2zM153.1 928.6h1.2v1.2h-1.2zM151.4 928.9h1.2v1.2h-1.2zM145.9 923.6h1.2v1.2h-1.2zM165.0 922.8h1.2v1.2h-1.2zM155.0 924.3h1.2v1.2h-1.2zM144.9 925.8h1.2v1.2h-1.2zM146.7 928.2h1.2v1.2h-1.2zM151.0 926.7h1.2v1.2h-1.2zM142.8 924.2h1.2v1.2h-1.2zM151.4 920.5h1.2v1.2h-1.2zM148.3 924.2h1.2v1.2h-1.2zM156.7 927.7h1.2v1.2h-1.2zM155.4 926.8h1.2v1.2h-1.2zM137.0 928.3h1.2v1.2h-1.2zM150.8 929.2h1.2v1.2h-1.2zM142.5 927.5h1.2v1.2h-1.2zM156.1 926.3h1.2v1.2h-1.2zM151.4 921.4h1.2v1.2h-1.2zM153.3 926.7h1.2v1.2h-1.2zM145.3 922.8h1.2v1.2h-1.2zM159.7 921.6h1.2v1.2h-1.2zM160.7 926.7h1.2v1.2h-1.2zM145.3 922.1h1.2v1.2h-1.2zM152.5 924.8h1.2v1.2h-1.2zM147.2 928.2h1.2v1.2h-1.2zM150.5 926.1h1.2v1.2h-1.2zM144.3 926.8h1.2v1.2h-1.2zM159.9 927.6h1.2v1.2h-1.2zM145.8 927.5h1.2v1.2h-1.2zM149.1 926.5h1.2v1.2h-1.2zM153.1 925.6h1.2v1.2h-1.2zM147.4 929.6h1.2v1.2h-1.2zM149.4 926.9h1.2v1.2h-1.2zM147.8 931.5h1.2v1.2h-1.2zM149.9 926.1h1.2v1.2h-1.2zM144.7 925.0h1.2v1.2h-1.2zM148.4 926.4h1.2v1.2h-1.2zM149.6 926.0h1.2v1.2h-1.2zM148.9 925.1h1.2v1.2h-1.2zM150.9 928.9h1.2v1.2h-1.2zM149.1 927.6h1.2v1.2h-1.2zM154.4 925.4h1.2v1.2h-1.2zM149.0 923.9h1.2v1.2h-1.2zM149.9 925.7h1.2v1.2h-1.2zM147.3 919.2h1.2v1.2h-1.2zM148.0 927.2h1.2v1.2h-1.2zM144.3 923.9h1.2v1.2h-1.2zM153.2 923.1h1.2v1.2h-1.2zM144.9 927.3h1.2v1.2h-1.2zM146.9 929.4h1.2v1.2h-1.2zM152.4 930.4h1.2v1.2h-1.2zM152.6 926.4h1.2v1.2h-1.2zM148.6 923.6h1.2v1.2h-1.2zM140.5 926.1h1.2v1.2h-1.2zM152.7 926.4h1.2v1.2h-1.2zM151.9 928.0h1.2v1.2h-1.2zM143.5 925.2h1.2v1.2h-1.2zM154.5 933.3h1.2v1.2h-1.2zM147.1 926.2h1.2v1.2h-1.2zM145.0 926.8h1.2v1.2h-1.2zM151.1 931.0h1.2v1.2h-1.2zM149.7 920.4h1.2v1.2h-1.2zM151.6 931.1h1.2v1.2h-1.2zM142.6 930.1h1.2v1.2h-1.2zM159.7 930.5h1.2v1.2h-1.2zM147.6 923.6h1.2v1.2h-1.2zM142.9 929.6h1.2v1.2h-1.2zM153.7 924.9h1.2v1.2h-1.2zM148.8 925.1h1.2v1.2h-1.2zM152.2 926.1h1.2v1.2h-1.2zM148.9 930.8h1.2v1.2h-1.2zM150.3 928.7h1.2v1.2h-1.2zM151.8 921.9h1.2v1.2h-1.2zM146.9 930.8h1.2v1.2h-1.2zM154.0 929.4h1.2v1.2h-1.2zM148.3 927.4h1.2v1.2h-1.2zM146.3 924.5h1.2v1.2h-1.2zM151.0 926.1h1.2v1.2h-1.2zM152.8 924.7h1.2v1.2h-1.2zM149.5 930.1h1.2v1.2h-1.2zM173.1 920.7h1.2v1.2h-1.2zM169.7 934.0h1.2v1.2h-1.2zM150.2 925.9h1.2v1.2h-1.2zM178.5 935.1h1.2v1.2h-1.2zM185.2 930.2h1.2v1.2h-1.2zM157.7 923.6h1.2v1.2h-1.2zM165.1 928.9h1.2v1.2h-1.2zM177.2 926.8h1.2v1.2h-1.2zM151.3 923.4h1.2v1.2h-1.2zM146.7 923.8h1.2v1.2h-1.2zM152.9 919.8h1.2v1.2h-1.2zM159.5 924.2h1.2v1.2h-1.2zM159.4 928.4h1.2v1.2h-1.2zM170.1 931.2h1.2v1.2h-1.2zM167.0 931.4h1.2v1.2h-1.2zM153.4 924.6h1.2v1.2h-1.2zM169.7 929.8h1.2v1.2h-1.2zM181.5 919.7h1.2v1.2h-1.2zM175.4 922.3h1.2v1.2h-1.2zM173.5 929.9h1.2v1.2h-1.2zM164.8 929.2h1.2v1.2h-1.2zM173.5 922.6h1.2v1.2h-1.2zM155.9 933.9h1.2v1.2h-1.2zM171.4 930.5h1.2v1.2h-1.2zM163.8 924.2h1.2v1.2h-1.2zM174.8 932.7h1.2v1.2h-1.2zM168.8 930.3h1.2v1.2h-1.2zM154.8 927.9h1.2v1.2h-1.2zM165.8 925.5h1.2v1.2h-1.2zM175.6 928.8h1.2v1.2h-1.2zM154.4 925.0h1.2v1.2h-1.2zM159.6 925.0h1.2v1.2h-1.2zM157.7 926.9h1.2v1.2h-1.2zM151.1 921.9h1.2v1.2h-1.2zM173.3 931.8h1.2v1.2h-1.2zM176.4 935.0h1.2v1.2h-1.2zM171.8 935.6h1.2v1.2h-1.2zM166.8 934.4h1.2v1.2h-1.2zM164.1 929.9h1.2v1.2h-1.2zM166.8 924.3h1.2v1.2h-1.2zM158.0 926.4h1.2v1.2h-1.2zM172.6 931.3h1.2v1.2h-1.2zM174.0 933.2h1.2v1.2h-1.2zM173.0 931.0h1.2v1.2h-1.2zM159.8 928.8h1.2v1.2h-1.2zM165.3 930.2h1.2v1.2h-1.2zM163.1 933.2h1.2v1.2h-1.2zM180.7 931.9h1.2v1.2h-1.2zM166.2 924.2h1.2v1.2h-1.2zM147.7 933.9h1.2v1.2h-1.2zM168.2 929.3h1.2v1.2h-1.2zM181.5 938.3h1.2v1.2h-1.2zM170.8 928.0h1.2v1.2h-1.2zM172.5 931.8h1.2v1.2h-1.2zM164.9 935.9h1.2v1.2h-1.2zM146.9 925.2h1.2v1.2h-1.2zM148.3 918.8h1.2v1.2h-1.2zM153.4 926.0h1.2v1.2h-1.2zM163.5 923.3h1.2v1.2h-1.2zM167.4 928.5h1.2v1.2h-1.2zM170.8 937.0h1.2v1.2h-1.2zM161.5 925.6h1.2v1.2h-1.2zM173.2 930.6h1.2v1.2h-1.2zM162.1 933.1h1.2v1.2h-1.2zM158.3 924.1h1.2v1.2h-1.2zM172.3 927.8h1.2v1.2h-1.2zM156.4 928.8h1.2v1.2h-1.2zM140.0 921.3h1.2v1.2h-1.2zM155.1 930.0h1.2v1.2h-1.2zM165.4 925.6h1.2v1.2h-1.2zM136.9 927.8h1.2v1.2h-1.2zM161.4 925.4h1.2v1.2h-1.2zM161.6 931.7h1.2v1.2h-1.2zM151.8 920.5h1.2v1.2h-1.2zM151.3 925.2h1.2v1.2h-1.2zM160.4 921.9h1.2v1.2h-1.2zM159.7 930.4h1.2v1.2h-1.2zM175.9 931.2h1.2v1.2h-1.2zM168.0 925.1h1.2v1.2h-1.2zM150.4 936.5h1.2v1.2h-1.2zM156.9 930.9h1.2v1.2h-1.2zM170.9 924.8h1.2v1.2h-1.2zM181.7 928.4h1.2v1.2h-1.2zM168.1 924.6h1.2v1.2h-1.2zM167.4 929.5h1.2v1.2h-1.2zM181.3 928.0h1.2v1.2h-1.2zM164.4 930.7h1.2v1.2h-1.2zM161.8 932.8h1.2v1.2h-1.2zM151.9 932.7h1.2v1.2h-1.2zM160.0 929.4h1.2v1.2h-1.2zM156.0 909.2h1.2v1.2h-1.2zM158.9 888.4h1.2v1.2h-1.2zM158.7 879.0h1.2v1.2h-1.2zM157.5 866.0h1.2v1.2h-1.2zM146.4 906.8h1.2v1.2h-1.2zM160.0 913.1h1.2v1.2h-1.2zM153.6 915.9h1.2v1.2h-1.2zM150.6 923.3h1.2v1.2h-1.2zM153.5 884.1h1.2v1.2h-1.2zM152.7 873.1h1.2v1.2h-1.2zM154.5 893.6h1.2v1.2h-1.2zM152.7 916.1h1.2v1.2h-1.2zM152.5 875.9h1.2v1.2h-1.2zM140.8 922.5h1.2v1.2h-1.2zM153.6 879.4h1.2v1.2h-1.2zM154.5 897.9h1.2v1.2h-1.2zM153.6 916.6h1.2v1.2h-1.2zM150.4 923.4h1.2v1.2h-1.2zM156.7 860.0h1.2v1.2h-1.2zM155.1 925.2h1.2v1.2h-1.2zM149.5 917.2h1.2v1.2h-1.2zM158.6 895.2h1.2v1.2h-1.2zM145.0 894.3h1.2v1.2h-1.2zM145.9 924.8h1.2v1.2h-1.2zM148.0 913.8h1.2v1.2h-1.2zM141.4 921.1h1.2v1.2h-1.2zM147.9 909.2h1.2v1.2h-1.2zM156.6 914.9h1.2v1.2h-1.2zM157.9 892.7h1.2v1.2h-1.2zM155.7 852.4h1.2v1.2h-1.2zM159.6 895.2h1.2v1.2h-1.2zM151.8 926.3h1.2v1.2h-1.2zM150.9 892.8h1.2v1.2h-1.2zM152.8 910.7h1.2v1.2h-1.2zM150.7 919.9h1.2v1.2h-1.2zM157.9 857.8h1.2v1.2h-1.2zM147.2 887.7h1.2v1.2h-1.2zM154.8 928.0h1.2v1.2h-1.2zM153.8 847.7h1.2v1.2h-1.2zM154.4 925.1h1.2v1.2h-1.2zM147.1 886.4h1.2v1.2h-1.2zM149.8 917.0h1.2v1.2h-1.2zM152.1 910.7h1.2v1.2h-1.2zM155.6 907.5h1.2v1.2h-1.2zM146.5 917.9h1.2v1.2h-1.2zM160.4 878.8h1.2v1.2h-1.2zM153.1 921.5h1.2v1.2h-1.2zM149.5 914.3h1.2v1.2h-1.2zM156.8 908.3h1.2v1.2h-1.2zM152.6 904.8h1.2v1.2h-1.2zM159.2 865.5h1.2v1.2h-1.2zM161.4 906.4h1.2v1.2h-1.2zM155.6 898.3h1.2v1.2h-1.2zM148.7 927.7h1.2v1.2h-1.2zM149.9 914.2h1.2v1.2h-1.2zM157.1 861.7h1.2v1.2h-1.2zM155.9 862.5h1.2v1.2h-1.2zM147.9 920.6h1.2v1.2h-1.2zM152.7 852.0h1.2v1.2h-1.2zM154.8 904.7h1.2v1.2h-1.2zM163.2 876.8h1.2v1.2h-1.2zM143.0 882.3h1.2v1.2h-1.2zM153.9 924.4h1.2v1.2h-1.2zM149.9 928.7h1.2v1.2h-1.2zM156.5 884.9h1.2v1.2h-1.2zM155.0 915.4h1.2v1.2h-1.2zM151.3 922.6h1.2v1.2h-1.2zM147.4 916.0h1.2v1.2h-1.2zM148.5 873.1h1.2v1.2h-1.2zM147.1 863.5h1.2v1.2h-1.2zM156.3 917.2h1.2v1.2h-1.2zM155.4 836.9h1.2v1.2h-1.2zM152.3 865.9h1.2v1.2h-1.2zM150.4 916.0h1.2v1.2h-1.2zM146.4 910.8h1.2v1.2h-1.2zM155.1 877.0h1.2v1.2h-1.2zM157.7 899.8h1.2v1.2h-1.2zM158.8 869.9h1.2v1.2h-1.2zM144.9 922.2h1.2v1.2h-1.2zM158.5 889.3h1.2v1.2h-1.2zM150.2 886.8h1.2v1.2h-1.2zM143.2 927.4h1.2v1.2h-1.2zM148.1 890.6h1.2v1.2h-1.2zM148.6 899.4h1.2v1.2h-1.2zM150.7 928.5h1.2v1.2h-1.2zM149.6 879.1h1.2v1.2h-1.2zM146.4 900.4h1.2v1.2h-1.2zM151.5 898.4h1.2v1.2h-1.2zM158.9 920.5h1.2v1.2h-1.2zM151.7 865.8h1.2v1.2h-1.2zM154.2 901.9h1.2v1.2h-1.2zM154.1 877.8h1.2v1.2h-1.2zM161.6 924.8h1.2v1.2h-1.2zM145.5 888.6h1.2v1.2h-1.2zM156.3 908.9h1.2v1.2h-1.2zM146.4 916.0h1.2v1.2h-1.2zM149.0 918.4h1.2v1.2h-1.2zM152.3 896.1h1.2v1.2h-1.2zM163.7 925.7h1.2v1.2h-1.2zM148.9 908.8h1.2v1.2h-1.2zM145.1 897.0h1.2v1.2h-1.2zM156.1 925.3h1.2v1.2h-1.2zM147.8 921.0h1.2v1.2h-1.2zM152.2 887.4h1.2v1.2h-1.2zM152.6 896.0h1.2v1.2h-1.2zM152.5 905.1h1.2v1.2h-1.2zM151.2 909.2h1.2v1.2h-1.2zM152.7 913.1h1.2v1.2h-1.2zM154.1 898.3h1.2v1.2h-1.2zM155.5 906.5h1.2v1.2h-1.2zM149.1 928.2h1.2v1.2h-1.2zM153.1 839.2h1.2v1.2h-1.2zM149.6 876.5h1.2v1.2h-1.2zM156.3 875.3h1.2v1.2h-1.2zM151.5 913.6h1.2v1.2h-1.2zM155.3 890.0h1.2v1.2h-1.2zM153.6 917.1h1.2v1.2h-1.2zM161.6 860.1h1.2v1.2h-1.2zM151.6 928.1h1.2v1.2h-1.2zM154.4 917.2h1.2v1.2h-1.2zM146.7 916.5h1.2v1.2h-1.2zM146.5 927.1h1.2v1.2h-1.2zM149.8 922.9h1.2v1.2h-1.2zM146.2 923.0h1.2v1.2h-1.2zM154.4 913.1h1.2v1.2h-1.2zM146.3 913.5h1.2v1.2h-1.2zM152.1 911.2h1.2v1.2h-1.2zM143.6 882.9h1.2v1.2h-1.2zM148.1 898.9h1.2v1.2h-1.2zM151.3 896.8h1.2v1.2h-1.2zM150.5 914.6h1.2v1.2h-1.2zM143.6 927.7h1.2v1.2h-1.2zM152.9 900.1h1.2v1.2h-1.2zM155.6 913.0h1.2v1.2h-1.2zM153.4 928.0h1.2v1.2h-1.2zM148.4 923.4h1.2v1.2h-1.2zM149.1 916.1h1.2v1.2h-1.2zM146.0 928.2h1.2v1.2h-1.2zM155.8 886.1h1.2v1.2h-1.2zM156.8 924.2h1.2v1.2h-1.2zM148.8 926.4h1.2v1.2h-1.2zM144.1 926.2h1.2v1.2h-1.2zM152.5 911.9h1.2v1.2h-1.2zM153.8 924.4h1.2v1.2h-1.2zM142.2 889.0h1.2v1.2h-1.2zM156.3 844.7h1.2v1.2h-1.2zM160.0 918.0h1.2v1.2h-1.2zM155.8 898.6h1.2v1.2h-1.2zM153.3 922.5h1.2v1.2h-1.2zM152.4 927.7h1.2v1.2h-1.2zM156.4 905.5h1.2v1.2h-1.2zM147.5 920.6h1.2v1.2h-1.2zM148.6 907.3h1.2v1.2h-1.2zM153.0 917.6h1.2v1.2h-1.2zM149.6 902.5h1.2v1.2h-1.2zM154.7 879.3h1.2v1.2h-1.2zM145.9 881.3h1.2v1.2h-1.2zM153.8 928.0h1.2v1.2h-1.2zM155.3 909.8h1.2v1.2h-1.2zM151.3 922.7h1.2v1.2h-1.2zM154.7 873.6h1.2v1.2h-1.2zM157.6 922.0h1.2v1.2h-1.2zM146.5 926.7h1.2v1.2h-1.2zM147.9 914.6h1.2v1.2h-1.2zM147.7 906.0h1.2v1.2h-1.2zM153.6 852.8h1.2v1.2h-1.2zM149.4 883.8h1.2v1.2h-1.2zM153.2 890.1h1.2v1.2h-1.2zM150.6 886.8h1.2v1.2h-1.2zM146.4 904.8h1.2v1.2h-1.2zM146.1 901.8h1.2v1.2h-1.2zM156.9 907.1h1.2v1.2h-1.2zM152.6 893.6h1.2v1.2h-1.2zM151.1 907.8h1.2v1.2h-1.2zM151.9 911.4h1.2v1.2h-1.2zM150.5 927.5h1.2v1.2h-1.2zM153.8 928.4h1.2v1.2h-1.2zM154.0 911.7h1.2v1.2h-1.2zM149.8 904.3h1.2v1.2h-1.2zM147.8 922.0h1.2v1.2h-1.2zM146.8 921.3h1.2v1.2h-1.2zM149.1 873.1h1.2v1.2h-1.2zM157.2 915.0h1.2v1.2h-1.2zM147.9 914.5h1.2v1.2h-1.2zM143.0 922.9h1.2v1.2h-1.2zM150.3 879.3h1.2v1.2h-1.2zM149.3 900.4h1.2v1.2h-1.2zM152.2 925.7h1.2v1.2h-1.2zM151.0 865.2h1.2v1.2h-1.2zM153.4 920.1h1.2v1.2h-1.2zM157.3 845.4h1.2v1.2h-1.2zM156.3 919.8h1.2v1.2h-1.2zM160.6 908.5h1.2v1.2h-1.2zM165.2 877.4h1.2v1.2h-1.2zM157.1 912.3h1.2v1.2h-1.2zM147.5 904.7h1.2v1.2h-1.2zM150.2 911.2h1.2v1.2h-1.2zM152.1 922.5h1.2v1.2h-1.2zM161.6 885.1h1.2v1.2h-1.2zM154.9 904.4h1.2v1.2h-1.2zM157.0 904.8h1.2v1.2h-1.2zM154.4 856.4h1.2v1.2h-1.2zM157.2 860.5h1.2v1.2h-1.2zM155.2 902.4h1.2v1.2h-1.2zM149.9 912.7h1.2v1.2h-1.2zM155.4 902.6h1.2v1.2h-1.2zM156.0 911.9h1.2v1.2h-1.2zM150.9 914.7h1.2v1.2h-1.2zM154.9 927.4h1.2v1.2h-1.2zM160.6 874.3h1.2v1.2h-1.2zM152.7 899.6h1.2v1.2h-1.2zM155.4 851.5h1.2v1.2h-1.2zM151.0 903.8h1.2v1.2h-1.2zM148.9 918.1h1.2v1.2h-1.2zM152.5 909.5h1.2v1.2h-1.2zM149.2 926.7h1.2v1.2h-1.2zM150.3 914.8h1.2v1.2h-1.2zM150.1 887.5h1.2v1.2h-1.2zM145.7 909.9h1.2v1.2h-1.2zM147.9 913.8h1.2v1.2h-1.2zM154.2 893.5h1.2v1.2h-1.2zM147.2 908.6h1.2v1.2h-1.2zM149.3 909.4h1.2v1.2h-1.2zM157.7 922.7h1.2v1.2h-1.2zM155.9 917.7h1.2v1.2h-1.2zM149.1 910.0h1.2v1.2h-1.2zM156.3 875.6h1.2v1.2h-1.2zM150.8 885.0h1.2v1.2h-1.2zM157.3 928.1h1.2v1.2h-1.2zM153.4 844.4h1.2v1.2h-1.2zM151.5 922.1h1.2v1.2h-1.2zM157.2 913.1h1.2v1.2h-1.2zM149.6 892.3h1.2v1.2h-1.2zM158.5 885.7h1.2v1.2h-1.2zM150.3 881.8h1.2v1.2h-1.2zM156.8 842.8h1.2v1.2h-1.2zM149.6 928.3h1.2v1.2h-1.2zM151.5 909.5h1.2v1.2h-1.2zM151.6 924.8h1.2v1.2h-1.2zM151.9 905.0h1.2v1.2h-1.2zM148.2 902.8h1.2v1.2h-1.2zM157.5 873.4h1.2v1.2h-1.2zM156.8 875.2h1.2v1.2h-1.2zM156.0 927.3h1.2v1.2h-1.2zM158.2 896.7h1.2v1.2h-1.2zM146.9 902.9h1.2v1.2h-1.2zM156.7 914.7h1.2v1.2h-1.2zM157.1 909.8h1.2v1.2h-1.2zM153.6 846.0h1.2v1.2h-1.2zM156.2 906.3h1.2v1.2h-1.2zM162.0 838.8h1.2v1.2h-1.2zM149.8 909.0h1.2v1.2h-1.2zM146.0 915.8h1.2v1.2h-1.2zM153.2 863.3h1.2v1.2h-1.2zM162.1 924.6h1.2v1.2h-1.2zM153.3 901.9h1.2v1.2h-1.2zM146.5 918.7h1.2v1.2h-1.2zM150.3 918.6h1.2v1.2h-1.2zM147.2 920.6h1.2v1.2h-1.2zM154.4 840.5h1.2v1.2h-1.2zM151.1 928.2h1.2v1.2h-1.2zM143.9 872.1h1.2v1.2h-1.2zM155.0 882.3h1.2v1.2h-1.2zM159.0 884.4h1.2v1.2h-1.2zM152.6 884.6h1.2v1.2h-1.2zM153.2 861.3h1.2v1.2h-1.2zM156.1 911.8h1.2v1.2h-1.2zM146.0 923.2h1.2v1.2h-1.2zM147.4 901.9h1.2v1.2h-1.2zM146.9 900.4h1.2v1.2h-1.2zM151.8 900.2h1.2v1.2h-1.2zM153.5 909.4h1.2v1.2h-1.2zM151.1 917.1h1.2v1.2h-1.2zM154.8 897.7h1.2v1.2h-1.2zM154.3 924.5h1.2v1.2h-1.2zM155.7 879.5h1.2v1.2h-1.2zM147.9 921.7h1.2v1.2h-1.2zM150.0 922.6h1.2v1.2h-1.2zM158.9 875.7h1.2v1.2h-1.2zM147.2 917.5h1.2v1.2h-1.2zM150.2 920.0h1.2v1.2h-1.2zM149.1 928.7h1.2v1.2h-1.2zM151.1 909.7h1.2v1.2h-1.2zM148.6 892.2h1.2v1.2h-1.2zM146.0 918.2h1.2v1.2h-1.2zM165.8 848.7h1.2v1.2h-1.2zM155.7 908.7h1.2v1.2h-1.2zM150.1 891.6h1.2v1.2h-1.2zM151.1 917.9h1.2v1.2h-1.2zM156.2 883.1h1.2v1.2h-1.2zM149.8 921.8h1.2v1.2h-1.2zM156.8 868.0h1.2v1.2h-1.2zM148.5 925.6h1.2v1.2h-1.2zM150.3 912.0h1.2v1.2h-1.2zM155.5 843.3h1.2v1.2h-1.2zM153.0 859.6h1.2v1.2h-1.2zM145.7 849.1h1.2v1.2h-1.2zM154.3 871.2h1.2v1.2h-1.2zM152.9 909.7h1.2v1.2h-1.2zM154.4 898.5h1.2v1.2h-1.2zM149.8 877.4h1.2v1.2h-1.2zM153.2 910.9h1.2v1.2h-1.2zM153.8 891.6h1.2v1.2h-1.2zM145.1 904.5h1.2v1.2h-1.2zM144.2 889.9h1.2v1.2h-1.2zM153.1 921.7h1.2v1.2h-1.2zM148.2 906.6h1.2v1.2h-1.2zM158.2 871.8h1.2v1.2h-1.2zM161.0 899.8h1.2v1.2h-1.2zM151.6 875.2h1.2v1.2h-1.2zM150.9 879.3h1.2v1.2h-1.2zM151.8 909.4h1.2v1.2h-1.2zM157.0 868.6h1.2v1.2h-1.2zM149.0 881.3h1.2v1.2h-1.2zM158.1 888.8h1.2v1.2h-1.2zM154.8 927.7h1.2v1.2h-1.2zM153.4 927.9h1.2v1.2h-1.2zM151.3 883.4h1.2v1.2h-1.2zM155.0 918.7h1.2v1.2h-1.2zM154.9 917.0h1.2v1.2h-1.2zM147.7 899.0h1.2v1.2h-1.2zM161.4 889.8h1.2v1.2h-1.2zM149.7 925.3h1.2v1.2h-1.2zM152.3 927.0h1.2v1.2h-1.2zM148.7 927.3h1.2v1.2h-1.2zM152.3 928.1h1.2v1.2h-1.2zM156.3 912.5h1.2v1.2h-1.2zM150.3 882.0h1.2v1.2h-1.2zM144.7 919.5h1.2v1.2h-1.2zM149.9 913.0h1.2v1.2h-1.2zM149.3 864.9h1.2v1.2h-1.2zM151.6 863.3h1.2v1.2h-1.2zM150.3 926.7h1.2v1.2h-1.2zM151.3 914.9h1.2v1.2h-1.2zM157.3 905.2h1.2v1.2h-1.2zM149.5 880.8h1.2v1.2h-1.2zM154.3 893.5h1.2v1.2h-1.2zM149.0 924.4h1.2v1.2h-1.2zM157.3 910.1h1.2v1.2h-1.2zM162.4 902.8h1.2v1.2h-1.2zM153.4 904.1h1.2v1.2h-1.2zM158.8 906.1h1.2v1.2h-1.2zM151.4 882.0h1.2v1.2h-1.2zM148.7 856.7h1.2v1.2h-1.2zM147.1 904.0h1.2v1.2h-1.2zM144.6 925.6h1.2v1.2h-1.2zM149.4 887.6h1.2v1.2h-1.2zM150.0 925.1h1.2v1.2h-1.2zM157.0 901.0h1.2v1.2h-1.2zM154.9 905.9h1.2v1.2h-1.2zM154.4 897.7h1.2v1.2h-1.2zM154.1 843.9h1.2v1.2h-1.2zM148.9 910.6h1.2v1.2h-1.2zM151.0 926.1h1.2v1.2h-1.2zM152.5 909.0h1.2v1.2h-1.2zM155.1 873.1h1.2v1.2h-1.2zM154.4 892.9h1.2v1.2h-1.2zM152.3 895.4h1.2v1.2h-1.2zM146.8 866.7h1.2v1.2h-1.2zM147.5 907.9h1.2v1.2h-1.2zM152.0 852.3h1.2v1.2h-1.2zM159.1 901.9h1.2v1.2h-1.2zM151.3 891.2h1.2v1.2h-1.2zM153.7 924.0h1.2v1.2h-1.2zM158.8 891.1h1.2v1.2h-1.2zM152.3 924.7h1.2v1.2h-1.2zM153.9 849.7h1.2v1.2h-1.2zM150.8 908.4h1.2v1.2h-1.2zM147.0 923.3h1.2v1.2h-1.2zM153.3 906.0h1.2v1.2h-1.2zM155.4 926.3h1.2v1.2h-1.2zM153.8 914.9h1.2v1.2h-1.2zM154.3 921.0h1.2v1.2h-1.2zM158.2 852.2h1.2v1.2h-1.2zM162.1 872.5h1.2v1.2h-1.2zM148.8 918.0h1.2v1.2h-1.2zM153.1 899.5h1.2v1.2h-1.2zM154.9 907.0h1.2v1.2h-1.2zM158.9 876.1h1.2v1.2h-1.2zM144.4 872.5h1.2v1.2h-1.2zM149.1 921.0h1.2v1.2h-1.2zM150.3 922.0h1.2v1.2h-1.2zM147.2 918.3h1.2v1.2h-1.2zM154.2 926.7h1.2v1.2h-1.2zM155.0 871.7h1.2v1.2h-1.2zM152.0 881.3h1.2v1.2h-1.2zM145.7 903.8h1.2v1.2h-1.2zM146.0 919.2h1.2v1.2h-1.2zM148.5 900.7h1.2v1.2h-1.2zM154.6 894.4h1.2v1.2h-1.2zM146.7 915.1h1.2v1.2h-1.2zM144.7 890.7h1.2v1.2h-1.2zM149.1 858.5h1.2v1.2h-1.2zM148.5 927.0h1.2v1.2h-1.2zM158.7 907.1h1.2v1.2h-1.2zM162.1 906.3h1.2v1.2h-1.2zM150.0 909.2h1.2v1.2h-1.2zM155.3 915.6h1.2v1.2h-1.2zM157.2 913.7h1.2v1.2h-1.2zM158.4 886.3h1.2v1.2h-1.2zM150.4 926.1h1.2v1.2h-1.2zM146.2 918.1h1.2v1.2h-1.2zM150.9 892.8h1.2v1.2h-1.2zM144.4 909.5h1.2v1.2h-1.2zM152.0 923.6h1.2v1.2h-1.2zM155.2 905.4h1.2v1.2h-1.2zM143.4 925.1h1.2v1.2h-1.2zM150.6 926.7h1.2v1.2h-1.2zM154.2 891.2h1.2v1.2h-1.2zM161.1 838.6h1.2v1.2h-1.2zM157.7 905.1h1.2v1.2h-1.2zM156.3 889.4h1.2v1.2h-1.2zM148.6 918.6h1.2v1.2h-1.2zM149.4 927.1h1.2v1.2h-1.2zM157.0 904.9h1.2v1.2h-1.2zM150.0 900.2h1.2v1.2h-1.2zM153.3 883.0h1.2v1.2h-1.2zM157.1 927.2h1.2v1.2h-1.2zM151.2 928.8h1.2v1.2h-1.2zM146.5 908.4h1.2v1.2h-1.2zM151.0 905.3h1.2v1.2h-1.2zM154.8 903.1h1.2v1.2h-1.2zM152.3 889.1h1.2v1.2h-1.2zM157.0 902.2h1.2v1.2h-1.2zM159.0 876.0h1.2v1.2h-1.2zM148.4 924.4h1.2v1.2h-1.2zM149.0 924.0h1.2v1.2h-1.2zM152.2 897.5h1.2v1.2h-1.2zM148.8 881.5h1.2v1.2h-1.2zM152.9 917.2h1.2v1.2h-1.2zM152.3 891.2h1.2v1.2h-1.2zM154.6 916.8h1.2v1.2h-1.2zM150.8 887.1h1.2v1.2h-1.2zM149.3 893.9h1.2v1.2h-1.2zM158.5 922.5h1.2v1.2h-1.2zM147.6 921.9h1.2v1.2h-1.2zM148.7 923.8h1.2v1.2h-1.2zM149.7 896.8h1.2v1.2h-1.2zM150.4 913.8h1.2v1.2h-1.2zM149.5 888.1h1.2v1.2h-1.2zM153.2 884.4h1.2v1.2h-1.2zM149.1 908.9h1.2v1.2h-1.2zM149.2 925.8h1.2v1.2h-1.2zM155.3 877.0h1.2v1.2h-1.2zM153.6 927.6h1.2v1.2h-1.2zM155.6 878.8h1.2v1.2h-1.2zM150.0 892.2h1.2v1.2h-1.2zM155.3 879.6h1.2v1.2h-1.2zM153.2 878.8h1.2v1.2h-1.2zM151.6 907.5h1.2v1.2h-1.2zM148.0 859.8h1.2v1.2h-1.2zM153.7 923.6h1.2v1.2h-1.2zM150.5 922.8h1.2v1.2h-1.2zM157.7 927.1h1.2v1.2h-1.2zM154.5 909.3h1.2v1.2h-1.2zM146.5 924.7h1.2v1.2h-1.2zM145.2 928.7h1.2v1.2h-1.2zM160.8 837.5h1.2v1.2h-1.2zM147.9 918.2h1.2v1.2h-1.2zM154.0 920.3h1.2v1.2h-1.2zM150.6 910.4h1.2v1.2h-1.2zM161.3 893.0h1.2v1.2h-1.2zM154.8 866.8h1.2v1.2h-1.2zM158.1 906.2h1.2v1.2h-1.2zM159.6 869.4h1.2v1.2h-1.2zM153.0 859.4h1.2v1.2h-1.2zM152.1 884.5h1.2v1.2h-1.2zM157.6 913.8h1.2v1.2h-1.2zM152.0 908.8h1.2v1.2h-1.2zM147.3 927.9h1.2v1.2h-1.2zM159.5 863.5h1.2v1.2h-1.2zM161.9 914.1h1.2v1.2h-1.2zM152.1 903.6h1.2v1.2h-1.2zM159.5 877.4h1.2v1.2h-1.2zM152.4 891.7h1.2v1.2h-1.2zM159.6 873.5h1.2v1.2h-1.2zM151.1 909.3h1.2v1.2h-1.2zM158.1 896.5h1.2v1.2h-1.2zM154.5 903.6h1.2v1.2h-1.2zM151.0 914.6h1.2v1.2h-1.2zM152.0 925.3h1.2v1.2h-1.2zM150.0 908.3h1.2v1.2h-1.2zM146.5 927.0h1.2v1.2h-1.2zM149.2 886.8h1.2v1.2h-1.2zM150.9 925.9h1.2v1.2h-1.2zM149.8 876.8h1.2v1.2h-1.2zM153.3 918.5h1.2v1.2h-1.2zM154.3 908.2h1.2v1.2h-1.2zM155.1 891.2h1.2v1.2h-1.2zM150.8 899.2h1.2v1.2h-1.2zM152.4 909.1h1.2v1.2h-1.2zM151.6 916.1h1.2v1.2h-1.2zM160.1 865.8h1.2v1.2h-1.2zM148.3 919.7h1.2v1.2h-1.2zM151.6 892.4h1.2v1.2h-1.2zM150.3 924.4h1.2v1.2h-1.2zM151.6 908.7h1.2v1.2h-1.2zM148.6 918.6h1.2v1.2h-1.2zM149.7 908.6h1.2v1.2h-1.2zM155.5 921.1h1.2v1.2h-1.2zM150.9 888.8h1.2v1.2h-1.2zM155.6 913.5h1.2v1.2h-1.2zM159.2 927.7h1.2v1.2h-1.2zM156.5 923.1h1.2v1.2h-1.2zM144.8 912.1h1.2v1.2h-1.2zM154.2 927.4h1.2v1.2h-1.2zM154.0 910.8h1.2v1.2h-1.2zM153.5 923.3h1.2v1.2h-1.2zM149.0 853.9h1.2v1.2h-1.2zM159.5 838.2h1.2v1.2h-1.2zM147.3 918.1h1.2v1.2h-1.2zM157.6 905.6h1.2v1.2h-1.2zM156.2 914.4h1.2v1.2h-1.2zM163.3 894.5h1.2v1.2h-1.2zM151.5 895.4h1.2v1.2h-1.2zM145.0 927.3h1.2v1.2h-1.2zM155.2 927.9h1.2v1.2h-1.2zM154.6 927.1h1.2v1.2h-1.2zM150.1 917.7h1.2v1.2h-1.2zM156.8 923.1h1.2v1.2h-1.2zM154.3 919.6h1.2v1.2h-1.2zM147.2 905.5h1.2v1.2h-1.2zM152.8 875.4h1.2v1.2h-1.2zM150.0 914.5h1.2v1.2h-1.2zM151.1 919.4h1.2v1.2h-1.2zM152.0 924.3h1.2v1.2h-1.2zM148.3 927.1h1.2v1.2h-1.2zM151.1 914.3h1.2v1.2h-1.2zM155.0 900.3h1.2v1.2h-1.2zM154.8 860.5h1.2v1.2h-1.2zM151.1 908.7h1.2v1.2h-1.2zM150.7 912.9h1.2v1.2h-1.2zM151.1 920.2h1.2v1.2h-1.2zM148.1 849.2h1.2v1.2h-1.2zM154.7 877.2h1.2v1.2h-1.2zM147.9 911.4h1.2v1.2h-1.2zM154.0 885.7h1.2v1.2h-1.2zM146.3 908.2h1.2v1.2h-1.2zM155.3 917.9h1.2v1.2h-1.2zM153.5 902.9h1.2v1.2h-1.2zM147.6 895.0h1.2v1.2h-1.2zM152.3 922.6h1.2v1.2h-1.2zM151.3 872.1h1.2v1.2h-1.2zM159.2 912.3h1.2v1.2h-1.2zM154.6 901.6h1.2v1.2h-1.2zM148.9 909.7h1.2v1.2h-1.2zM154.7 881.7h1.2v1.2h-1.2zM152.4 903.3h1.2v1.2h-1.2zM158.8 878.3h1.2v1.2h-1.2zM153.1 917.7h1.2v1.2h-1.2zM153.7 918.0h1.2v1.2h-1.2zM147.3 915.2h1.2v1.2h-1.2zM158.6 854.2h1.2v1.2h-1.2zM161.6 891.0h1.2v1.2h-1.2zM156.1 885.8h1.2v1.2h-1.2zM152.0 909.8h1.2v1.2h-1.2zM151.6 928.9h1.2v1.2h-1.2zM147.4 924.8h1.2v1.2h-1.2zM153.5 898.7h1.2v1.2h-1.2zM148.4 898.2h1.2v1.2h-1.2zM153.6 887.5h1.2v1.2h-1.2zM151.2 899.5h1.2v1.2h-1.2zM149.1 904.9h1.2v1.2h-1.2zM154.6 906.8h1.2v1.2h-1.2zM145.1 928.6h1.2v1.2h-1.2zM153.8 879.4h1.2v1.2h-1.2zM141.2 848.1h1.2v1.2h-1.2zM220.1 862.1h1.2v1.2h-1.2zM223.7 832.6h1.2v1.2h-1.2zM195.5 792.1h1.2v1.2h-1.2zM221.8 822.8h1.2v1.2h-1.2zM189.2 818.8h1.2v1.2h-1.2zM187.9 881.0h1.2v1.2h-1.2zM163.7 850.6h1.2v1.2h-1.2zM151.9 816.4h1.2v1.2h-1.2zM177.5 846.3h1.2v1.2h-1.2zM160.9 813.3h1.2v1.2h-1.2zM163.4 829.8h1.2v1.2h-1.2zM192.5 829.0h1.2v1.2h-1.2zM171.1 805.1h1.2v1.2h-1.2zM135.3 851.4h1.2v1.2h-1.2zM168.9 848.0h1.2v1.2h-1.2zM155.2 837.6h1.2v1.2h-1.2zM166.9 834.4h1.2v1.2h-1.2zM146.8 874.1h1.2v1.2h-1.2zM204.2 811.2h1.2v1.2h-1.2zM221.8 829.7h1.2v1.2h-1.2zM146.4 843.6h1.2v1.2h-1.2zM190.4 824.4h1.2v1.2h-1.2zM189.2 844.8h1.2v1.2h-1.2zM147.3 816.2h1.2v1.2h-1.2zM176.7 836.6h1.2v1.2h-1.2zM209.5 820.9h1.2v1.2h-1.2zM195.4 854.0h1.2v1.2h-1.2zM214.7 840.4h1.2v1.2h-1.2zM144.9 833.0h1.2v1.2h-1.2zM155.5 858.4h1.2v1.2h-1.2zM181.4 850.7h1.2v1.2h-1.2zM183.0 838.5h1.2v1.2h-1.2zM174.7 816.0h1.2v1.2h-1.2zM164.4 823.8h1.2v1.2h-1.2zM163.8 821.0h1.2v1.2h-1.2zM158.8 833.4h1.2v1.2h-1.2zM185.3 819.4h1.2v1.2h-1.2zM213.9 831.7h1.2v1.2h-1.2zM160.7 830.7h1.2v1.2h-1.2zM138.1 829.5h1.2v1.2h-1.2zM187.5 877.0h1.2v1.2h-1.2zM138.7 843.1h1.2v1.2h-1.2zM183.5 829.3h1.2v1.2h-1.2zM163.8 824.2h1.2v1.2h-1.2zM188.5 843.6h1.2v1.2h-1.2zM193.5 817.4h1.2v1.2h-1.2zM206.1 848.6h1.2v1.2h-1.2zM161.3 842.9h1.2v1.2h-1.2zM166.4 805.6h1.2v1.2h-1.2zM173.3 865.4h1.2v1.2h-1.2zM138.3 842.9h1.2v1.2h-1.2zM188.4 840.3h1.2v1.2h-1.2zM176.8 840.2h1.2v1.2h-1.2zM140.1 852.0h1.2v1.2h-1.2zM203.8 823.4h1.2v1.2h-1.2zM207.7 857.3h1.2v1.2h-1.2zM140.6 867.7h1.2v1.2h-1.2zM187.8 828.1h1.2v1.2h-1.2zM204.8 860.1h1.2v1.2h-1.2zM194.5 829.8h1.2v1.2h-1.2zM149.0 840.5h1.2v1.2h-1.2zM138.6 855.4h1.2v1.2h-1.2zM170.6 846.1h1.2v1.2h-1.2zM161.1 842.1h1.2v1.2h-1.2zM173.2 830.2h1.2v1.2h-1.2zM170.9 852.0h1.2v1.2h-1.2zM186.6 842.3h1.2v1.2h-1.2zM159.4 868.9h1.2v1.2h-1.2zM169.3 845.1h1.2v1.2h-1.2zM247.6 871.6h1.2v1.2h-1.2zM170.1 840.6h1.2v1.2h-1.2zM191.8 847.1h1.2v1.2h-1.2zM180.5 797.3h1.2v1.2h-1.2zM178.8 813.6h1.2v1.2h-1.2zM150.5 844.4h1.2v1.2h-1.2zM186.5 819.8h1.2v1.2h-1.2zM172.0 834.2h1.2v1.2h-1.2zM193.7 861.0h1.2v1.2h-1.2zM224.5 883.9h1.2v1.2h-1.2zM177.8 817.4h1.2v1.2h-1.2zM192.3 830.6h1.2v1.2h-1.2zM147.6 880.9h1.2v1.2h-1.2zM176.1 827.1h1.2v1.2h-1.2zM212.0 818.7h1.2v1.2h-1.2zM171.7 853.8h1.2v1.2h-1.2zM157.3 825.6h1.2v1.2h-1.2zM178.3 873.9h1.2v1.2h-1.2zM168.6 844.8h1.2v1.2h-1.2zM167.2 839.9h1.2v1.2h-1.2zM163.9 825.4h1.2v1.2h-1.2zM222.8 828.3h1.2v1.2h-1.2zM151.4 837.5h1.2v1.2h-1.2zM162.8 830.0h1.2v1.2h-1.2zM158.9 854.4h1.2v1.2h-1.2zM204.2 808.4h1.2v1.2h-1.2zM166.2 847.6h1.2v1.2h-1.2zM205.8 821.9h1.2v1.2h-1.2zM177.3 840.0h1.2v1.2h-1.2zM172.6 845.2h1.2v1.2h-1.2zM136.6 831.6h1.2v1.2h-1.2zM203.4 829.0h1.2v1.2h-1.2zM186.7 812.5h1.2v1.2h-1.2zM183.3 818.1h1.2v1.2h-1.2zM170.2 851.8h1.2v1.2h-1.2zM162.7 831.2h1.2v1.2h-1.2zM141.4 840.8h1.2v1.2h-1.2zM196.8 854.3h1.2v1.2h-1.2zM179.9 861.7h1.2v1.2h-1.2zM164.2 836.0h1.2v1.2h-1.2zM157.4 852.2h1.2v1.2h-1.2zM176.0 867.7h1.2v1.2h-1.2zM170.9 842.4h1.2v1.2h-1.2zM214.2 832.7h1.2v1.2h-1.2zM192.5 836.8h1.2v1.2h-1.2zM158.2 865.5h1.2v1.2h-1.2zM145.5 854.1h1.2v1.2h-1.2zM167.2 813.6h1.2v1.2h-1.2zM150.3 857.5h1.2v1.2h-1.2zM175.0 846.8h1.2v1.2h-1.2zM183.3 793.8h1.2v1.2h-1.2zM189.1 832.2h1.2v1.2h-1.2zM183.6 849.6h1.2v1.2h-1.2zM168.4 879.5h1.2v1.2h-1.2zM188.2 833.1h1.2v1.2h-1.2zM151.0 869.9h1.2v1.2h-1.2zM171.3 841.2h1.2v1.2h-1.2zM193.6 856.1h1.2v1.2h-1.2zM180.5 873.3h1.2v1.2h-1.2zM141.5 810.2h1.2v1.2h-1.2zM144.4 845.0h1.2v1.2h-1.2zM132.9 825.5h1.2v1.2h-1.2zM218.4 822.3h1.2v1.2h-1.2zM134.6 858.3h1.2v1.2h-1.2zM169.9 839.2h1.2v1.2h-1.2zM219.3 844.1h1.2v1.2h-1.2zM200.3 819.3h1.2v1.2h-1.2zM206.3 829.5h1.2v1.2h-1.2zM160.9 848.7h1.2v1.2h-1.2zM191.9 806.2h1.2v1.2h-1.2zM249.6 824.3h1.2v1.2h-1.2zM172.5 831.6h1.2v1.2h-1.2zM183.8 855.5h1.2v1.2h-1.2zM165.6 833.3h1.2v1.2h-1.2zM173.1 869.9h1.2v1.2h-1.2zM182.8 830.8h1.2v1.2h-1.2zM208.1 856.6h1.2v1.2h-1.2zM151.0 838.9h1.2v1.2h-1.2zM137.8 849.1h1.2v1.2h-1.2zM174.1 836.2h1.2v1.2h-1.2zM178.6 833.2h1.2v1.2h-1.2zM208.8 839.1h1.2v1.2h-1.2zM191.4 840.5h1.2v1.2h-1.2zM157.9 871.7h1.2v1.2h-1.2zM187.7 877.5h1.2v1.2h-1.2zM201.4 813.5h1.2v1.2h-1.2zM180.7 828.8h1.2v1.2h-1.2zM165.0 870.9h1.2v1.2h-1.2zM190.4 801.5h1.2v1.2h-1.2zM164.6 855.8h1.2v1.2h-1.2zM126.8 834.4h1.2v1.2h-1.2zM206.8 829.7h1.2v1.2h-1.2zM141.2 841.2h1.2v1.2h-1.2zM165.1 829.4h1.2v1.2h-1.2zM165.6 868.8h1.2v1.2h-1.2zM165.1 842.2h1.2v1.2h-1.2zM166.3 846.5h1.2v1.2h-1.2zM137.4 842.0h1.2v1.2h-1.2zM186.5 845.2h1.2v1.2h-1.2zM174.1 853.6h1.2v1.2h-1.2zM174.3 855.3h1.2v1.2h-1.2zM200.1 821.1h1.2v1.2h-1.2zM200.8 855.5h1.2v1.2h-1.2zM206.8 831.0h1.2v1.2h-1.2zM219.6 830.2h1.2v1.2h-1.2zM184.6 841.9h1.2v1.2h-1.2zM134.8 835.5h1.2v1.2h-1.2zM178.6 829.6h1.2v1.2h-1.2zM173.6 851.4h1.2v1.2h-1.2zM175.0 834.0h1.2v1.2h-1.2zM158.3 804.1h1.2v1.2h-1.2zM151.1 863.9h1.2v1.2h-1.2zM193.2 845.3h1.2v1.2h-1.2zM197.5 854.2h1.2v1.2h-1.2zM145.4 803.6h1.2v1.2h-1.2zM186.8 867.7h1.2v1.2h-1.2zM169.1 841.0h1.2v1.2h-1.2zM163.6 823.1h1.2v1.2h-1.2zM190.4 856.8h1.2v1.2h-1.2zM172.0 843.7h1.2v1.2h-1.2zM159.4 856.1h1.2v1.2h-1.2zM174.7 867.4h1.2v1.2h-1.2zM158.4 832.2h1.2v1.2h-1.2zM162.2 849.7h1.2v1.2h-1.2zM138.2 840.4h1.2v1.2h-1.2zM177.6 826.9h1.2v1.2h-1.2zM179.9 816.6h1.2v1.2h-1.2zM158.0 866.6h1.2v1.2h-1.2zM168.8 829.0h1.2v1.2h-1.2zM189.9 851.9h1.2v1.2h-1.2zM199.5 876.2h1.2v1.2h-1.2zM154.0 857.9h1.2v1.2h-1.2zM181.4 827.5h1.2v1.2h-1.2zM198.9 832.7h1.2v1.2h-1.2zM172.2 862.8h1.2v1.2h-1.2zM153.6 810.5h1.2v1.2h-1.2zM153.7 834.4h1.2v1.2h-1.2zM164.8 842.9h1.2v1.2h-1.2zM147.0 853.7h1.2v1.2h-1.2zM223.1 828.6h1.2v1.2h-1.2zM158.5 849.7h1.2v1.2h-1.2zM182.2 817.6h1.2v1.2h-1.2zM177.3 834.3h1.2v1.2h-1.2zM188.6 827.4h1.2v1.2h-1.2zM163.0 847.7h1.2v1.2h-1.2zM140.2 872.8h1.2v1.2h-1.2zM213.6 827.2h1.2v1.2h-1.2zM170.7 861.1h1.2v1.2h-1.2zM175.5 842.8h1.2v1.2h-1.2zM177.6 840.8h1.2v1.2h-1.2zM204.1 853.9h1.2v1.2h-1.2zM191.8 821.7h1.2v1.2h-1.2zM202.0 866.9h1.2v1.2h-1.2zM193.2 809.7h1.2v1.2h-1.2zM176.4 852.3h1.2v1.2h-1.2zM179.0 821.3h1.2v1.2h-1.2zM154.1 816.7h1.2v1.2h-1.2zM124.2 861.9h1.2v1.2h-1.2zM166.7 856.0h1.2v1.2h-1.2zM145.8 824.4h1.2v1.2h-1.2zM237.3 832.0h1.2v1.2h-1.2zM211.6 836.1h1.2v1.2h-1.2zM201.9 874.8h1.2v1.2h-1.2zM158.9 874.5h1.2v1.2h-1.2zM224.1 826.1h1.2v1.2h-1.2zM130.0 815.9h1.2v1.2h-1.2zM142.4 857.4h1.2v1.2h-1.2zM153.1 859.6h1.2v1.2h-1.2zM148.7 838.7h1.2v1.2h-1.2zM176.0 831.4h1.2v1.2h-1.2zM177.5 829.4h1.2v1.2h-1.2zM220.4 845.8h1.2v1.2h-1.2zM197.6 877.4h1.2v1.2h-1.2zM203.2 809.6h1.2v1.2h-1.2zM183.1 849.9h1.2v1.2h-1.2zM169.0 816.3h1.2v1.2h-1.2zM155.5 881.6h1.2v1.2h-1.2zM134.9 836.6h1.2v1.2h-1.2zM150.9 852.5h1.2v1.2h-1.2zM163.1 863.1h1.2v1.2h-1.2zM191.7 820.2h1.2v1.2h-1.2zM130.5 818.7h1.2v1.2h-1.2zM138.5 855.2h1.2v1.2h-1.2zM178.1 827.7h1.2v1.2h-1.2zM146.4 864.2h1.2v1.2h-1.2zM181.0 852.4h1.2v1.2h-1.2zM162.3 846.6h1.2v1.2h-1.2zM153.8 849.3h1.2v1.2h-1.2zM139.3 830.9h1.2v1.2h-1.2zM170.3 864.9h1.2v1.2h-1.2zM154.4 823.2h1.2v1.2h-1.2zM157.3 823.0h1.2v1.2h-1.2zM156.7 846.5h1.2v1.2h-1.2zM177.3 863.9h1.2v1.2h-1.2zM176.3 887.6h1.2v1.2h-1.2zM129.8 845.6h1.2v1.2h-1.2zM168.6 855.4h1.2v1.2h-1.2zM182.6 838.1h1.2v1.2h-1.2zM198.6 859.7h1.2v1.2h-1.2zM192.2 839.3h1.2v1.2h-1.2zM177.8 841.7h1.2v1.2h-1.2zM144.0 843.0h1.2v1.2h-1.2zM153.4 836.8h1.2v1.2h-1.2zM195.5 833.3h1.2v1.2h-1.2zM155.0 823.2h1.2v1.2h-1.2zM198.3 854.3h1.2v1.2h-1.2zM204.4 824.1h1.2v1.2h-1.2zM146.0 839.9h1.2v1.2h-1.2zM183.6 848.2h1.2v1.2h-1.2zM169.8 860.7h1.2v1.2h-1.2zM223.3 808.1h1.2v1.2h-1.2zM193.6 834.5h1.2v1.2h-1.2zM159.8 852.1h1.2v1.2h-1.2zM182.8 838.6h1.2v1.2h-1.2zM149.7 842.6h1.2v1.2h-1.2zM168.8 851.5h1.2v1.2h-1.2zM177.7 867.6h1.2v1.2h-1.2zM176.3 837.5h1.2v1.2h-1.2zM180.3 843.4h1.2v1.2h-1.2zM149.9 848.2h1.2v1.2h-1.2zM126.3 825.2h1.2v1.2h-1.2zM163.5 867.4h1.2v1.2h-1.2zM150.3 861.4h1.2v1.2h-1.2zM155.1 839.1h1.2v1.2h-1.2zM226.0 820.2h1.2v1.2h-1.2zM201.7 826.5h1.2v1.2h-1.2zM168.2 826.9h1.2v1.2h-1.2zM136.8 887.0h1.2v1.2h-1.2zM140.1 833.7h1.2v1.2h-1.2zM181.6 831.9h1.2v1.2h-1.2zM199.3 825.2h1.2v1.2h-1.2zM165.4 854.9h1.2v1.2h-1.2zM176.0 830.5h1.2v1.2h-1.2zM179.0 820.6h1.2v1.2h-1.2zM199.3 807.1h1.2v1.2h-1.2zM125.6 839.6h1.2v1.2h-1.2zM176.5 866.6h1.2v1.2h-1.2zM182.7 838.9h1.2v1.2h-1.2zM196.4 826.2h1.2v1.2h-1.2zM182.5 829.9h1.2v1.2h-1.2zM145.1 805.3h1.2v1.2h-1.2zM158.1 845.9h1.2v1.2h-1.2zM134.5 863.8h1.2v1.2h-1.2zM177.4 852.9h1.2v1.2h-1.2zM177.4 827.4h1.2v1.2h-1.2zM185.4 855.5h1.2v1.2h-1.2zM148.4 863.2h1.2v1.2h-1.2zM144.1 859.5h1.2v1.2h-1.2zM210.7 813.9h1.2v1.2h-1.2zM177.2 835.7h1.2v1.2h-1.2zM216.3 843.8h1.2v1.2h-1.2zM183.6 823.1h1.2v1.2h-1.2zM136.1 830.1h1.2v1.2h-1.2zM192.7 858.3h1.2v1.2h-1.2zM203.5 821.9h1.2v1.2h-1.2zM161.3 836.8h1.2v1.2h-1.2zM124.5 885.1h1.2v1.2h-1.2zM189.2 862.7h1.2v1.2h-1.2zM169.1 835.8h1.2v1.2h-1.2zM179.5 830.6h1.2v1.2h-1.2zM184.0 859.4h1.2v1.2h-1.2zM150.9 878.4h1.2v1.2h-1.2zM194.7 827.9h1.2v1.2h-1.2zM127.0 847.2h1.2v1.2h-1.2zM126.0 844.9h1.2v1.2h-1.2zM161.4 854.3h1.2v1.2h-1.2zM213.8 821.0h1.2v1.2h-1.2zM213.0 883.2h1.2v1.2h-1.2zM157.4 858.9h1.2v1.2h-1.2zM197.6 827.2h1.2v1.2h-1.2zM187.1 853.2h1.2v1.2h-1.2zM179.1 811.3h1.2v1.2h-1.2zM181.5 831.5h1.2v1.2h-1.2zM154.4 857.0h1.2v1.2h-1.2zM192.6 817.1h1.2v1.2h-1.2zM199.1 840.1h1.2v1.2h-1.2zM240.1 823.5h1.2v1.2h-1.2zM195.5 850.6h1.2v1.2h-1.2zM142.4 828.7h1.2v1.2h-1.2zM180.9 837.6h1.2v1.2h-1.2zM174.2 855.0h1.2v1.2h-1.2zM126.0 861.2h1.2v1.2h-1.2zM169.0 827.7h1.2v1.2h-1.2zM163.5 806.3h1.2v1.2h-1.2zM171.2 856.7h1.2v1.2h-1.2zM169.4 827.0h1.2v1.2h-1.2zM195.5 895.4h1.2v1.2h-1.2zM209.1 864.4h1.2v1.2h-1.2zM189.6 825.4h1.2v1.2h-1.2zM144.7 811.0h1.2v1.2h-1.2zM150.9 840.5h1.2v1.2h-1.2zM155.9 830.6h1.2v1.2h-1.2zM171.1 835.0h1.2v1.2h-1.2zM161.8 821.0h1.2v1.2h-1.2zM163.7 862.0h1.2v1.2h-1.2zM149.4 829.3h1.2v1.2h-1.2zM196.2 846.6h1.2v1.2h-1.2zM193.8 844.9h1.2v1.2h-1.2zM196.4 838.1h1.2v1.2h-1.2zM170.5 844.1h1.2v1.2h-1.2zM183.9 854.1h1.2v1.2h-1.2zM149.7 846.8h1.2v1.2h-1.2zM147.2 860.5h1.2v1.2h-1.2zM158.9 811.9h1.2v1.2h-1.2zM187.1 825.0h1.2v1.2h-1.2zM168.8 848.3h1.2v1.2h-1.2zM144.0 810.9h1.2v1.2h-1.2zM174.8 814.4h1.2v1.2h-1.2zM183.1 829.5h1.2v1.2h-1.2zM176.6 850.1h1.2v1.2h-1.2zM155.9 836.1h1.2v1.2h-1.2zM174.2 828.5h1.2v1.2h-1.2zM162.0 813.4h1.2v1.2h-1.2zM164.4 844.1h1.2v1.2h-1.2zM170.3 851.2h1.2v1.2h-1.2zM191.4 793.3h1.2v1.2h-1.2zM218.2 808.9h1.2v1.2h-1.2zM211.5 830.6h1.2v1.2h-1.2zM188.3 856.7h1.2v1.2h-1.2zM162.6 831.1h1.2v1.2h-1.2zM164.8 818.5h1.2v1.2h-1.2zM165.9 825.5h1.2v1.2h-1.2zM201.4 821.3h1.2v1.2h-1.2zM179.0 817.0h1.2v1.2h-1.2zM172.5 848.5h1.2v1.2h-1.2zM205.7 847.1h1.2v1.2h-1.2zM149.8 854.4h1.2v1.2h-1.2zM205.0 870.6h1.2v1.2h-1.2zM210.2 832.2h1.2v1.2h-1.2zM185.1 858.3h1.2v1.2h-1.2zM204.0 861.9h1.2v1.2h-1.2zM152.5 839.6h1.2v1.2h-1.2zM201.9 868.5h1.2v1.2h-1.2zM215.1 838.4h1.2v1.2h-1.2zM188.6 793.5h1.2v1.2h-1.2zM179.6 841.6h1.2v1.2h-1.2zM204.7 828.4h1.2v1.2h-1.2zM200.9 854.5h1.2v1.2h-1.2zM153.9 832.0h1.2v1.2h-1.2zM206.6 866.7h1.2v1.2h-1.2zM191.2 834.8h1.2v1.2h-1.2zM176.6 842.3h1.2v1.2h-1.2zM205.2 794.8h1.2v1.2h-1.2zM195.7 840.1h1.2v1.2h-1.2zM191.2 846.0h1.2v1.2h-1.2zM159.9 852.4h1.2v1.2h-1.2zM193.4 862.4h1.2v1.2h-1.2zM144.9 827.4h1.2v1.2h-1.2zM169.4 812.1h1.2v1.2h-1.2zM130.3 851.2h1.2v1.2h-1.2zM130.0 829.9h1.2v1.2h-1.2zM183.7 846.6h1.2v1.2h-1.2zM170.5 832.7h1.2v1.2h-1.2zM174.7 831.3h1.2v1.2h-1.2zM187.4 867.7h1.2v1.2h-1.2zM181.3 855.1h1.2v1.2h-1.2zM150.4 823.8h1.2v1.2h-1.2zM174.4 878.2h1.2v1.2h-1.2zM170.9 840.6h1.2v1.2h-1.2zM159.6 848.5h1.2v1.2h-1.2zM169.5 859.3h1.2v1.2h-1.2zM163.5 840.4h1.2v1.2h-1.2zM156.4 835.9h1.2v1.2h-1.2zM164.2 830.6h1.2v1.2h-1.2zM178.5 892.3h1.2v1.2h-1.2zM224.2 803.3h1.2v1.2h-1.2zM152.2 851.8h1.2v1.2h-1.2zM185.6 819.0h1.2v1.2h-1.2zM136.1 846.0h1.2v1.2h-1.2zM212.4 849.1h1.2v1.2h-1.2zM164.3 842.7h1.2v1.2h-1.2zM176.1 777.5h1.2v1.2h-1.2zM204.5 807.1h1.2v1.2h-1.2zM197.3 845.6h1.2v1.2h-1.2zM135.3 839.2h1.2v1.2h-1.2zM186.5 817.4h1.2v1.2h-1.2zM166.9 829.7h1.2v1.2h-1.2zM188.1 837.8h1.2v1.2h-1.2zM176.4 844.2h1.2v1.2h-1.2zM191.0 860.7h1.2v1.2h-1.2zM179.9 825.3h1.2v1.2h-1.2zM169.1 819.2h1.2v1.2h-1.2zM202.0 794.1h1.2v1.2h-1.2zM134.0 854.7h1.2v1.2h-1.2zM161.8 828.7h1.2v1.2h-1.2zM148.7 843.4h1.2v1.2h-1.2zM169.0 816.1h1.2v1.2h-1.2zM161.9 843.6h1.2v1.2h-1.2zM168.9 854.0h1.2v1.2h-1.2zM160.3 875.4h1.2v1.2h-1.2zM160.9 827.5h1.2v1.2h-1.2zM131.5 840.9h1.2v1.2h-1.2zM171.7 818.5h1.2v1.2h-1.2zM180.3 851.2h1.2v1.2h-1.2zM157.7 790.4h1.2v1.2h-1.2zM156.2 856.2h1.2v1.2h-1.2zM156.5 831.9h1.2v1.2h-1.2zM214.6 829.2h1.2v1.2h-1.2zM177.3 818.5h1.2v1.2h-1.2zM182.3 843.3h1.2v1.2h-1.2zM165.1 859.7h1.2v1.2h-1.2zM160.1 861.5h1.2v1.2h-1.2zM150.6 826.4h1.2v1.2h-1.2zM211.2 835.7h1.2v1.2h-1.2zM130.1 837.4h1.2v1.2h-1.2zM180.1 856.5h1.2v1.2h-1.2zM172.0 838.1h1.2v1.2h-1.2zM166.2 837.1h1.2v1.2h-1.2zM133.4 831.8h1.2v1.2h-1.2zM141.7 872.5h1.2v1.2h-1.2zM197.1 854.2h1.2v1.2h-1.2zM155.3 807.9h1.2v1.2h-1.2zM194.6 847.0h1.2v1.2h-1.2zM189.3 841.2h1.2v1.2h-1.2zM187.1 847.7h1.2v1.2h-1.2zM191.6 869.2h1.2v1.2h-1.2zM142.3 864.7h1.2v1.2h-1.2zM160.7 834.5h1.2v1.2h-1.2zM189.6 852.9h1.2v1.2h-1.2zM141.0 803.1h1.2v1.2h-1.2zM214.2 867.4h1.2v1.2h-1.2zM158.6 880.7h1.2v1.2h-1.2zM171.0 848.8h1.2v1.2h-1.2zM147.0 867.0h1.2v1.2h-1.2zM181.7 812.7h1.2v1.2h-1.2zM154.3 850.8h1.2v1.2h-1.2zM166.5 831.1h1.2v1.2h-1.2zM144.1 871.4h1.2v1.2h-1.2zM202.4 825.4h1.2v1.2h-1.2zM131.8 831.6h1.2v1.2h-1.2zM183.9 815.5h1.2v1.2h-1.2zM178.5 836.2h1.2v1.2h-1.2zM183.5 829.9h1.2v1.2h-1.2zM147.1 839.8h1.2v1.2h-1.2zM198.4 820.6h1.2v1.2h-1.2zM196.7 847.3h1.2v1.2h-1.2zM176.6 829.9h1.2v1.2h-1.2zM180.4 851.8h1.2v1.2h-1.2zM168.7 827.3h1.2v1.2h-1.2zM188.7 845.3h1.2v1.2h-1.2zM152.1 855.7h1.2v1.2h-1.2zM186.5 853.5h1.2v1.2h-1.2zM182.8 811.0h1.2v1.2h-1.2zM137.3 874.9h1.2v1.2h-1.2zM169.7 828.7h1.2v1.2h-1.2zM168.6 861.2h1.2v1.2h-1.2zM203.1 847.9h1.2v1.2h-1.2zM174.0 850.8h1.2v1.2h-1.2zM160.2 796.7h1.2v1.2h-1.2zM138.6 857.2h1.2v1.2h-1.2zM170.4 855.7h1.2v1.2h-1.2zM158.0 850.0h1.2v1.2h-1.2zM145.0 838.7h1.2v1.2h-1.2zM169.6 831.4h1.2v1.2h-1.2zM199.0 868.2h1.2v1.2h-1.2zM174.9 832.0h1.2v1.2h-1.2zM146.4 804.3h1.2v1.2h-1.2zM180.8 875.9h1.2v1.2h-1.2zM145.1 831.8h1.2v1.2h-1.2zM133.2 828.9h1.2v1.2h-1.2zM185.0 837.0h1.2v1.2h-1.2zM158.8 846.0h1.2v1.2h-1.2zM200.4 885.7h1.2v1.2h-1.2zM180.4 816.5h1.2v1.2h-1.2zM152.4 849.1h1.2v1.2h-1.2zM178.1 844.7h1.2v1.2h-1.2zM205.0 814.0h1.2v1.2h-1.2zM167.9 888.0h1.2v1.2h-1.2zM146.1 844.5h1.2v1.2h-1.2zM156.1 830.5h1.2v1.2h-1.2zM152.3 828.3h1.2v1.2h-1.2zM143.1 831.2h1.2v1.2h-1.2zM140.3 803.0h1.2v1.2h-1.2zM183.2 834.5h1.2v1.2h-1.2zM200.3 818.5h1.2v1.2h-1.2zM163.6 826.3h1.2v1.2h-1.2zM192.3 868.9h1.2v1.2h-1.2zM195.3 854.4h1.2v1.2h-1.2zM214.7 796.1h1.2v1.2h-1.2zM167.9 846.7h1.2v1.2h-1.2zM163.9 843.0h1.2v1.2h-1.2zM183.1 866.3h1.2v1.2h-1.2zM175.0 847.6h1.2v1.2h-1.2zM180.2 866.5h1.2v1.2h-1.2zM205.0 850.4h1.2v1.2h-1.2zM161.9 830.8h1.2v1.2h-1.2zM178.0 857.0h1.2v1.2h-1.2zM148.1 855.1h1.2v1.2h-1.2zM168.6 814.6h1.2v1.2h-1.2zM155.8 832.9h1.2v1.2h-1.2zM153.7 832.2h1.2v1.2h-1.2zM167.1 821.6h1.2v1.2h-1.2zM161.4 852.8h1.2v1.2h-1.2zM181.9 847.9h1.2v1.2h-1.2zM192.7 880.3h1.2v1.2h-1.2zM135.3 829.3h1.2v1.2h-1.2zM197.7 843.0h1.2v1.2h-1.2zM178.8 862.1h1.2v1.2h-1.2zM190.4 827.2h1.2v1.2h-1.2zM156.3 829.7h1.2v1.2h-1.2zM166.9 837.8h1.2v1.2h-1.2zM153.1 874.1h1.2v1.2h-1.2zM195.0 855.9h1.2v1.2h-1.2zM148.3 859.5h1.2v1.2h-1.2zM124.2 837.1h1.2v1.2h-1.2zM177.3 820.5h1.2v1.2h-1.2zM205.1 853.3h1.2v1.2h-1.2zM202.4 842.1h1.2v1.2h-1.2zM189.3 853.2h1.2v1.2h-1.2zM178.8 819.9h1.2v1.2h-1.2zM153.4 824.6h1.2v1.2h-1.2zM203.1 785.5h1.2v1.2h-1.2zM188.2 839.5h1.2v1.2h-1.2zM151.5 861.2h1.2v1.2h-1.2zM140.6 835.3h1.2v1.2h-1.2zM156.9 846.8h1.2v1.2h-1.2zM199.6 834.9h1.2v1.2h-1.2zM203.9 813.6h1.2v1.2h-1.2zM213.0 843.3h1.2v1.2h-1.2zM153.2 828.1h1.2v1.2h-1.2zM163.6 883.7h1.2v1.2h-1.2zM207.2 817.1h1.2v1.2h-1.2zM178.1 837.8h1.2v1.2h-1.2zM191.7 844.1h1.2v1.2h-1.2zM139.6 853.5h1.2v1.2h-1.2zM163.4 813.4h1.2v1.2h-1.2zM172.2 850.9h1.2v1.2h-1.2zM163.8 816.3h1.2v1.2h-1.2zM162.3 851.7h1.2v1.2h-1.2zM131.8 843.1h1.2v1.2h-1.2zM213.4 830.5h1.2v1.2h-1.2zM176.3 800.2h1.2v1.2h-1.2zM136.3 838.7h1.2v1.2h-1.2zM199.6 833.9h1.2v1.2h-1.2zM174.4 841.9h1.2v1.2h-1.2zM190.7 845.3h1.2v1.2h-1.2zM168.0 853.1h1.2v1.2h-1.2zM153.3 806.2h1.2v1.2h-1.2zM153.9 812.9h1.2v1.2h-1.2zM181.5 853.6h1.2v1.2h-1.2zM192.3 835.9h1.2v1.2h-1.2zM185.2 863.1h1.2v1.2h-1.2zM189.1 820.6h1.2v1.2h-1.2zM203.1 824.5h1.2v1.2h-1.2zM180.2 837.8h1.2v1.2h-1.2zM198.2 854.6h1.2v1.2h-1.2zM200.8 823.1h1.2v1.2h-1.2zM180.5 827.7h1.2v1.2h-1.2zM171.3 844.3h1.2v1.2h-1.2zM162.4 826.7h1.2v1.2h-1.2zM143.3 869.7h1.2v1.2h-1.2zM134.4 855.6h1.2v1.2h-1.2zM206.2 856.8h1.2v1.2h-1.2zM173.1 838.3h1.2v1.2h-1.2zM159.8 808.4h1.2v1.2h-1.2zM213.0 836.4h1.2v1.2h-1.2zM197.8 816.0h1.2v1.2h-1.2zM175.1 841.1h1.2v1.2h-1.2zM198.8 846.6h1.2v1.2h-1.2zM168.9 820.8h1.2v1.2h-1.2zM182.7 829.0h1.2v1.2h-1.2zM219.3 808.7h1.2v1.2h-1.2zM200.3 819.1h1.2v1.2h-1.2zM167.0 857.3h1.2v1.2h-1.2zM191.2 889.9h1.2v1.2h-1.2zM203.5 835.5h1.2v1.2h-1.2zM171.0 864.2h1.2v1.2h-1.2zM163.6 869.5h1.2v1.2h-1.2zM221.0 866.3h1.2v1.2h-1.2z" fill="#2a2ad8"/>
<ellipse cx="150.6" cy="926.9" rx="7.5" ry="4.6" fill="#40b8f0"/>
<ellipse cx="150.6" cy="926.9" rx="5.6" ry="3.4" fill="#70e070"/>
<ellipse cx="150.6" cy="926.9" rx="3.4" ry="2" fill="#e0e040"/>
<ellipse cx="150.1" cy="926.9" rx="1.8" ry="1.1" fill="#d84a20"/>
<path d="M421.2 924.7h1.2v1.2h-1.2zM417.7 928.8h1.2v1.2h-1.2zM418.2 923.2h1.2v1.2h-1.2zM408.1 928.4h1.2v1.2h-1.2zM429.3 925.6h1.2v1.2h-1.2zM426.0 927.6h1.2v1.2h-1.2zM418.7 925.9h1.2v1.2h-1.2zM424.2 928.5h1.2v1.2h-1.2zM421.7 929.2h1.2v1.2h-1.2zM417.5 927.4h1.2v1.2h-1.2zM425.2 926.5h1.2v1.2h-1.2zM418.7 925.4h1.2v1.2h-1.2zM418.7 924.3h1.2v1.2h-1.2zM416.3 919.9h1.2v1.2h-1.2zM422.6 922.1h1.2v1.2h-1.2zM419.8 925.3h1.2v1.2h-1.2zM423.0 922.3h1.2v1.2h-1.2zM417.3 926.6h1.2v1.2h-1.2zM420.9 920.2h1.2v1.2h-1.2zM415.8 922.9h1.2v1.2h-1.2zM424.5 928.6h1.2v1.2h-1.2zM421.2 922.2h1.2v1.2h-1.2zM422.0 922.1h1.2v1.2h-1.2zM422.4 932.6h1.2v1.2h-1.2zM415.2 926.7h1.2v1.2h-1.2zM424.2 925.9h1.2v1.2h-1.2zM430.6 930.3h1.2v1.2h-1.2zM412.1 927.7h1.2v1.2h-1.2zM411.7 927.3h1.2v1.2h-1.2zM412.8 923.0h1.2v1.2h-1.2zM424.5 923.6h1.2v1.2h-1.2zM420.9 916.6h1.2v1.2h-1.2zM425.7 925.7h1.2v1.2h-1.2zM423.9 921.0h1.2v1.2h-1.2zM421.4 924.3h1.2v1.2h-1.2zM421.7 923.7h1.2v1.2h-1.2zM419.5 928.0h1.2v1.2h-1.2zM424.6 930.2h1.2v1.2h-1.2zM414.7 926.8h1.2v1.2h-1.2zM418.2 922.2h1.2v1.2h-1.2zM421.5 919.8h1.2v1.2h-1.2zM429.3 922.7h1.2v1.2h-1.2zM416.5 923.0h1.2v1.2h-1.2zM414.9 927.0h1.2v1.2h-1.2zM417.5 919.9h1.2v1.2h-1.2zM425.1 920.5h1.2v1.2h-1.2zM419.1 926.1h1.2v1.2h-1.2zM426.9 924.6h1.2v1.2h-1.2zM410.9 927.5h1.2v1.2h-1.2zM425.9 920.1h1.2v1.2h-1.2zM425.5 923.3h1.2v1.2h-1.2zM413.2 924.8h1.2v1.2h-1.2zM421.1 923.3h1.2v1.2h-1.2zM426.4 923.2h1.2v1.2h-1.2zM420.7 925.7h1.2v1.2h-1.2zM425.3 928.2h1.2v1.2h-1.2zM432.2 928.4h1.2v1.2h-1.2zM421.7 929.7h1.2v1.2h-1.2zM418.9 923.1h1.2v1.2h-1.2zM416.4 917.8h1.2v1.2h-1.2zM423.5 929.6h1.2v1.2h-1.2zM419.3 924.1h1.2v1.2h-1.2zM419.4 923.3h1.2v1.2h-1.2zM419.8 927.5h1.2v1.2h-1.2zM423.5 923.9h1.2v1.2h-1.2zM415.0 927.8h1.2v1.2h-1.2zM412.7 920.9h1.2v1.2h-1.2zM408.1 926.3h1.2v1.2h-1.2zM426.3 924.2h1.2v1.2h-1.2zM420.7 922.4h1.2v1.2h-1.2zM427.9 925.8h1.2v1.2h-1.2zM420.3 929.9h1.2v1.2h-1.2zM416.6 926.1h1.2v1.2h-1.2zM422.7 922.2h1.2v1.2h-1.2zM419.9 924.8h1.2v1.2h-1.2zM414.0 923.8h1.2v1.2h-1.2zM415.9 927.7h1.2v1.2h-1.2zM429.1 924.1h1.2v1.2h-1.2zM422.1 922.3h1.2v1.2h-1.2zM422.4 924.4h1.2v1.2h-1.2zM418.9 918.8h1.2v1.2h-1.2zM416.9 925.1h1.2v1.2h-1.2zM424.8 927.6h1.2v1.2h-1.2zM419.8 929.4h1.2v1.2h-1.2zM416.5 921.0h1.2v1.2h-1.2zM419.6 924.7h1.2v1.2h-1.2zM415.8 921.5h1.2v1.2h-1.2zM421.3 923.1h1.2v1.2h-1.2zM425.9 919.6h1.2v1.2h-1.2zM416.1 920.7h1.2v1.2h-1.2zM427.4 925.6h1.2v1.2h-1.2zM417.0 923.7h1.2v1.2h-1.2zM421.1 921.2h1.2v1.2h-1.2zM416.1 928.2h1.2v1.2h-1.2zM419.2 920.1h1.2v1.2h-1.2zM420.5 920.9h1.2v1.2h-1.2zM418.1 921.6h1.2v1.2h-1.2zM416.8 925.1h1.2v1.2h-1.2zM416.9 923.6h1.2v1.2h-1.2zM416.2 927.9h1.2v1.2h-1.2zM412.4 924.3h1.2v1.2h-1.2zM419.0 926.3h1.2v1.2h-1.2zM422.3 924.2h1.2v1.2h-1.2zM424.8 926.0h1.2v1.2h-1.2zM423.5 923.6h1.2v1.2h-1.2zM432.6 921.0h1.2v1.2h-1.2zM421.9 928.4h1.2v1.2h-1.2zM418.0 921.7h1.2v1.2h-1.2zM429.7 930.5h1.2v1.2h-1.2zM415.1 931.0h1.2v1.2h-1.2zM425.1 924.9h1.2v1.2h-1.2zM415.5 924.5h1.2v1.2h-1.2zM422.1 923.2h1.2v1.2h-1.2zM410.5 929.4h1.2v1.2h-1.2zM424.8 924.7h1.2v1.2h-1.2zM419.5 924.1h1.2v1.2h-1.2zM415.5 920.7h1.2v1.2h-1.2zM428.7 924.8h1.2v1.2h-1.2zM424.1 922.9h1.2v1.2h-1.2zM420.5 927.4h1.2v1.2h-1.2zM416.6 925.1h1.2v1.2h-1.2zM420.1 925.8h1.2v1.2h-1.2zM419.5 922.4h1.2v1.2h-1.2zM423.9 927.5h1.2v1.2h-1.2zM424.3 927.0h1.2v1.2h-1.2zM417.0 922.8h1.2v1.2h-1.2zM417.6 919.1h1.2v1.2h-1.2zM417.6 923.4h1.2v1.2h-1.2zM413.6 923.6h1.2v1.2h-1.2zM417.3 925.5h1.2v1.2h-1.2zM419.8 921.2h1.2v1.2h-1.2zM423.8 922.9h1.2v1.2h-1.2zM426.9 919.3h1.2v1.2h-1.2zM416.3 923.5h1.2v1.2h-1.2zM423.1 927.3h1.2v1.2h-1.2zM418.1 926.2h1.2v1.2h-1.2zM430.7 927.5h1.2v1.2h-1.2zM420.1 928.3h1.2v1.2h-1.2zM422.8 920.7h1.2v1.2h-1.2zM415.6 922.1h1.2v1.2h-1.2zM416.2 928.2h1.2v1.2h-1.2zM421.3 919.2h1.2v1.2h-1.2zM418.4 923.8h1.2v1.2h-1.2zM422.1 927.4h1.2v1.2h-1.2zM412.5 923.3h1.2v1.2h-1.2zM423.6 924.7h1.2v1.2h-1.2zM415.8 926.8h1.2v1.2h-1.2zM428.9 930.3h1.2v1.2h-1.2zM418.9 924.4h1.2v1.2h-1.2zM425.8 923.6h1.2v1.2h-1.2zM413.3 932.2h1.2v1.2h-1.2zM422.4 922.8h1.2v1.2h-1.2zM415.9 922.6h1.2v1.2h-1.2zM417.9 925.9h1.2v1.2h-1.2zM420.4 924.2h1.2v1.2h-1.2zM418.7 925.3h1.2v1.2h-1.2zM421.6 927.0h1.2v1.2h-1.2zM424.0 925.6h1.2v1.2h-1.2zM423.6 920.4h1.2v1.2h-1.2zM419.9 928.9h1.2v1.2h-1.2zM413.5 923.8h1.2v1.2h-1.2zM416.3 923.9h1.2v1.2h-1.2zM419.3 926.6h1.2v1.2h-1.2zM409.7 925.8h1.2v1.2h-1.2zM424.1 928.7h1.2v1.2h-1.2zM419.1 927.1h1.2v1.2h-1.2zM419.0 924.5h1.2v1.2h-1.2zM425.0 923.5h1.2v1.2h-1.2zM423.6 927.2h1.2v1.2h-1.2zM421.4 915.3h1.2v1.2h-1.2zM415.3 926.2h1.2v1.2h-1.2zM421.9 924.1h1.2v1.2h-1.2zM422.0 925.2h1.2v1.2h-1.2zM415.9 925.7h1.2v1.2h-1.2zM425.5 920.6h1.2v1.2h-1.2zM422.8 925.9h1.2v1.2h-1.2zM410.5 920.5h1.2v1.2h-1.2zM420.9 921.1h1.2v1.2h-1.2zM414.0 927.6h1.2v1.2h-1.2zM426.0 921.4h1.2v1.2h-1.2zM424.3 926.5h1.2v1.2h-1.2zM414.8 916.3h1.2v1.2h-1.2zM415.9 925.7h1.2v1.2h-1.2zM420.8 927.3h1.2v1.2h-1.2zM419.1 930.2h1.2v1.2h-1.2zM427.9 928.4h1.2v1.2h-1.2zM424.0 926.2h1.2v1.2h-1.2zM418.9 927.5h1.2v1.2h-1.2zM423.2 928.2h1.2v1.2h-1.2zM410.1 926.6h1.2v1.2h-1.2zM421.8 925.1h1.2v1.2h-1.2zM424.6 920.2h1.2v1.2h-1.2zM419.4 929.6h1.2v1.2h-1.2zM416.7 926.2h1.2v1.2h-1.2zM423.1 927.4h1.2v1.2h-1.2zM430.1 929.0h1.2v1.2h-1.2zM421.3 928.3h1.2v1.2h-1.2zM414.7 927.2h1.2v1.2h-1.2zM427.5 922.3h1.2v1.2h-1.2zM410.9 925.1h1.2v1.2h-1.2zM422.8 926.1h1.2v1.2h-1.2zM417.4 922.7h1.2v1.2h-1.2zM425.0 923.7h1.2v1.2h-1.2zM416.1 925.2h1.2v1.2h-1.2zM426.9 923.3h1.2v1.2h-1.2zM421.8 927.0h1.2v1.2h-1.2zM411.7 922.6h1.2v1.2h-1.2zM410.4 923.1h1.2v1.2h-1.2zM418.7 925.7h1.2v1.2h-1.2zM426.8 928.2h1.2v1.2h-1.2zM420.9 919.9h1.2v1.2h-1.2zM420.6 924.2h1.2v1.2h-1.2zM419.1 915.3h1.2v1.2h-1.2zM424.0 926.5h1.2v1.2h-1.2zM422.2 921.9h1.2v1.2h-1.2zM421.7 925.8h1.2v1.2h-1.2zM415.4 923.7h1.2v1.2h-1.2zM426.2 922.0h1.2v1.2h-1.2zM427.1 926.9h1.2v1.2h-1.2zM413.8 924.8h1.2v1.2h-1.2zM431.8 924.0h1.2v1.2h-1.2zM423.9 924.2h1.2v1.2h-1.2zM417.9 922.7h1.2v1.2h-1.2zM410.8 921.4h1.2v1.2h-1.2zM423.6 922.0h1.2v1.2h-1.2zM423.1 923.7h1.2v1.2h-1.2zM417.3 925.5h1.2v1.2h-1.2zM411.3 927.9h1.2v1.2h-1.2zM425.9 926.7h1.2v1.2h-1.2zM417.4 926.1h1.2v1.2h-1.2zM417.9 922.5h1.2v1.2h-1.2zM434.5 925.6h1.2v1.2h-1.2zM430.9 928.2h1.2v1.2h-1.2zM425.1 922.6h1.2v1.2h-1.2zM418.0 926.9h1.2v1.2h-1.2zM423.5 926.8h1.2v1.2h-1.2zM408.9 925.2h1.2v1.2h-1.2zM420.8 923.1h1.2v1.2h-1.2zM416.5 931.7h1.2v1.2h-1.2zM413.9 927.9h1.2v1.2h-1.2zM412.4 924.0h1.2v1.2h-1.2zM422.9 925.6h1.2v1.2h-1.2zM420.7 927.1h1.2v1.2h-1.2zM421.1 926.1h1.2v1.2h-1.2zM424.5 920.3h1.2v1.2h-1.2zM416.1 925.9h1.2v1.2h-1.2zM414.1 922.4h1.2v1.2h-1.2zM411.4 922.1h1.2v1.2h-1.2zM418.6 925.9h1.2v1.2h-1.2zM424.1 923.2h1.2v1.2h-1.2zM419.6 925.9h1.2v1.2h-1.2zM423.5 926.3h1.2v1.2h-1.2zM414.4 927.9h1.2v1.2h-1.2zM418.0 921.9h1.2v1.2h-1.2zM416.5 925.7h1.2v1.2h-1.2zM414.1 926.2h1.2v1.2h-1.2zM429.6 927.9h1.2v1.2h-1.2zM424.6 919.1h1.2v1.2h-1.2zM416.5 922.3h1.2v1.2h-1.2zM416.5 924.9h1.2v1.2h-1.2zM428.0 918.6h1.2v1.2h-1.2zM420.5 922.8h1.2v1.2h-1.2zM436.9 932.6h1.2v1.2h-1.2zM436.9 928.5h1.2v1.2h-1.2zM421.6 922.3h1.2v1.2h-1.2zM444.8 925.4h1.2v1.2h-1.2zM441.3 931.9h1.2v1.2h-1.2zM425.6 924.7h1.2v1.2h-1.2zM429.3 923.8h1.2v1.2h-1.2zM430.5 923.5h1.2v1.2h-1.2zM435.7 924.2h1.2v1.2h-1.2zM433.0 932.3h1.2v1.2h-1.2zM419.5 916.5h1.2v1.2h-1.2zM447.6 926.5h1.2v1.2h-1.2zM437.1 919.0h1.2v1.2h-1.2zM445.6 916.1h1.2v1.2h-1.2zM445.6 927.6h1.2v1.2h-1.2zM432.4 930.0h1.2v1.2h-1.2zM437.4 922.6h1.2v1.2h-1.2zM440.9 927.1h1.2v1.2h-1.2zM441.2 928.1h1.2v1.2h-1.2zM432.8 929.2h1.2v1.2h-1.2zM428.7 918.3h1.2v1.2h-1.2zM434.6 927.2h1.2v1.2h-1.2zM427.1 929.9h1.2v1.2h-1.2zM429.3 926.5h1.2v1.2h-1.2zM416.0 927.5h1.2v1.2h-1.2zM435.1 925.0h1.2v1.2h-1.2zM425.1 925.9h1.2v1.2h-1.2zM429.3 928.9h1.2v1.2h-1.2zM433.8 923.1h1.2v1.2h-1.2zM437.1 928.3h1.2v1.2h-1.2zM451.3 925.0h1.2v1.2h-1.2zM436.1 920.9h1.2v1.2h-1.2zM421.6 925.2h1.2v1.2h-1.2zM435.5 928.1h1.2v1.2h-1.2zM428.9 924.0h1.2v1.2h-1.2zM437.9 922.6h1.2v1.2h-1.2zM428.1 924.7h1.2v1.2h-1.2zM427.9 924.1h1.2v1.2h-1.2zM429.7 925.0h1.2v1.2h-1.2zM428.7 923.6h1.2v1.2h-1.2zM417.9 920.9h1.2v1.2h-1.2zM428.3 927.4h1.2v1.2h-1.2zM434.2 927.3h1.2v1.2h-1.2zM445.1 926.8h1.2v1.2h-1.2zM431.7 927.7h1.2v1.2h-1.2zM431.0 924.5h1.2v1.2h-1.2zM439.5 924.1h1.2v1.2h-1.2zM439.2 926.2h1.2v1.2h-1.2zM448.7 929.7h1.2v1.2h-1.2zM439.6 929.2h1.2v1.2h-1.2zM434.1 918.8h1.2v1.2h-1.2zM446.3 923.8h1.2v1.2h-1.2zM448.1 931.6h1.2v1.2h-1.2zM430.0 928.1h1.2v1.2h-1.2zM435.7 918.5h1.2v1.2h-1.2zM419.2 917.7h1.2v1.2h-1.2zM431.0 924.6h1.2v1.2h-1.2zM426.3 920.0h1.2v1.2h-1.2zM432.4 930.9h1.2v1.2h-1.2zM430.0 924.9h1.2v1.2h-1.2zM432.8 922.5h1.2v1.2h-1.2zM433.4 932.5h1.2v1.2h-1.2zM438.7 929.1h1.2v1.2h-1.2zM436.4 922.8h1.2v1.2h-1.2zM429.2 920.5h1.2v1.2h-1.2zM422.7 926.2h1.2v1.2h-1.2zM445.4 925.9h1.2v1.2h-1.2zM447.1 921.1h1.2v1.2h-1.2zM430.2 926.4h1.2v1.2h-1.2zM439.4 931.3h1.2v1.2h-1.2zM420.6 923.9h1.2v1.2h-1.2zM420.2 925.1h1.2v1.2h-1.2zM431.9 920.2h1.2v1.2h-1.2zM447.5 926.7h1.2v1.2h-1.2zM424.9 927.3h1.2v1.2h-1.2zM426.8 915.3h1.2v1.2h-1.2zM448.8 929.3h1.2v1.2h-1.2zM417.3 921.4h1.2v1.2h-1.2zM440.1 923.7h1.2v1.2h-1.2zM438.7 923.1h1.2v1.2h-1.2zM432.4 924.6h1.2v1.2h-1.2zM436.0 923.5h1.2v1.2h-1.2zM457.9 928.9h1.2v1.2h-1.2zM424.2 929.6h1.2v1.2h-1.2zM431.5 926.0h1.2v1.2h-1.2zM432.2 926.0h1.2v1.2h-1.2zM428.1 925.4h1.2v1.2h-1.2zM422.2 923.4h1.2v1.2h-1.2zM418.6 897.9h1.2v1.2h-1.2zM413.0 912.2h1.2v1.2h-1.2zM422.6 922.2h1.2v1.2h-1.2zM424.2 918.6h1.2v1.2h-1.2zM421.2 922.8h1.2v1.2h-1.2zM422.3 879.2h1.2v1.2h-1.2zM419.5 874.4h1.2v1.2h-1.2zM430.8 905.7h1.2v1.2h-1.2zM423.3 922.5h1.2v1.2h-1.2zM413.3 916.5h1.2v1.2h-1.2zM420.3 902.7h1.2v1.2h-1.2zM411.9 888.9h1.2v1.2h-1.2zM427.7 904.8h1.2v1.2h-1.2zM428.2 924.2h1.2v1.2h-1.2zM427.2 906.8h1.2v1.2h-1.2zM420.4 919.0h1.2v1.2h-1.2zM418.8 909.0h1.2v1.2h-1.2zM416.0 900.9h1.2v1.2h-1.2zM425.7 869.6h1.2v1.2h-1.2zM419.2 892.9h1.2v1.2h-1.2zM418.9 922.2h1.2v1.2h-1.2zM421.6 858.9h1.2v1.2h-1.2zM420.2 903.9h1.2v1.2h-1.2zM424.5 914.2h1.2v1.2h-1.2zM429.9 876.1h1.2v1.2h-1.2zM423.8 875.5h1.2v1.2h-1.2zM421.0 914.1h1.2v1.2h-1.2zM417.4 897.8h1.2v1.2h-1.2zM417.2 893.6h1.2v1.2h-1.2zM416.7 913.2h1.2v1.2h-1.2zM424.4 915.4h1.2v1.2h-1.2zM422.4 905.9h1.2v1.2h-1.2zM426.1 892.6h1.2v1.2h-1.2zM424.1 888.7h1.2v1.2h-1.2zM419.3 913.1h1.2v1.2h-1.2zM418.4 873.3h1.2v1.2h-1.2zM419.8 907.4h1.2v1.2h-1.2zM414.5 924.5h1.2v1.2h-1.2zM429.0 912.8h1.2v1.2h-1.2zM422.2 909.8h1.2v1.2h-1.2zM419.3 916.0h1.2v1.2h-1.2zM428.6 919.1h1.2v1.2h-1.2zM419.4 913.3h1.2v1.2h-1.2zM426.1 864.1h1.2v1.2h-1.2zM419.9 919.2h1.2v1.2h-1.2zM422.8 906.8h1.2v1.2h-1.2zM420.5 896.4h1.2v1.2h-1.2zM422.4 922.6h1.2v1.2h-1.2zM427.4 901.3h1.2v1.2h-1.2zM415.8 915.4h1.2v1.2h-1.2zM412.4 906.4h1.2v1.2h-1.2zM426.1 918.5h1.2v1.2h-1.2zM424.1 872.8h1.2v1.2h-1.2zM424.7 910.5h1.2v1.2h-1.2zM420.3 904.7h1.2v1.2h-1.2zM428.9 885.6h1.2v1.2h-1.2zM428.5 910.4h1.2v1.2h-1.2zM417.4 894.6h1.2v1.2h-1.2zM423.1 922.8h1.2v1.2h-1.2zM418.1 920.3h1.2v1.2h-1.2zM414.8 908.4h1.2v1.2h-1.2zM421.9 877.0h1.2v1.2h-1.2zM425.3 879.5h1.2v1.2h-1.2zM415.3 915.4h1.2v1.2h-1.2zM417.3 887.3h1.2v1.2h-1.2zM426.1 910.8h1.2v1.2h-1.2zM421.5 905.0h1.2v1.2h-1.2zM425.0 871.5h1.2v1.2h-1.2zM417.0 901.6h1.2v1.2h-1.2zM417.9 918.6h1.2v1.2h-1.2zM420.8 922.5h1.2v1.2h-1.2zM425.1 855.3h1.2v1.2h-1.2zM421.4 914.1h1.2v1.2h-1.2zM426.8 920.7h1.2v1.2h-1.2zM422.0 905.5h1.2v1.2h-1.2zM416.5 881.3h1.2v1.2h-1.2zM420.8 855.3h1.2v1.2h-1.2zM420.9 907.0h1.2v1.2h-1.2zM428.2 875.2h1.2v1.2h-1.2zM417.7 917.9h1.2v1.2h-1.2zM418.7 920.5h1.2v1.2h-1.2zM421.7 895.5h1.2v1.2h-1.2zM420.4 870.9h1.2v1.2h-1.2zM417.9 905.0h1.2v1.2h-1.2zM421.1 891.5h1.2v1.2h-1.2zM425.0 908.8h1.2v1.2h-1.2zM422.1 921.8h1.2v1.2h-1.2zM421.7 877.5h1.2v1.2h-1.2zM425.7 856.7h1.2v1.2h-1.2zM415.7 909.4h1.2v1.2h-1.2zM426.0 892.1h1.2v1.2h-1.2zM423.3 919.4h1.2v1.2h-1.2zM421.7 915.4h1.2v1.2h-1.2zM414.7 902.5h1.2v1.2h-1.2zM428.7 916.0h1.2v1.2h-1.2zM411.5 869.1h1.2v1.2h-1.2zM417.8 892.8h1.2v1.2h-1.2zM418.6 885.3h1.2v1.2h-1.2zM423.1 919.9h1.2v1.2h-1.2zM414.3 917.6h1.2v1.2h-1.2zM424.6 862.6h1.2v1.2h-1.2zM419.8 916.9h1.2v1.2h-1.2zM419.4 913.5h1.2v1.2h-1.2zM426.1 880.3h1.2v1.2h-1.2zM426.5 911.9h1.2v1.2h-1.2zM424.2 881.5h1.2v1.2h-1.2zM422.3 867.6h1.2v1.2h-1.2zM412.4 897.0h1.2v1.2h-1.2zM428.6 879.6h1.2v1.2h-1.2zM419.3 915.6h1.2v1.2h-1.2zM413.8 903.2h1.2v1.2h-1.2zM420.6 925.2h1.2v1.2h-1.2zM425.8 925.5h1.2v1.2h-1.2zM419.8 918.3h1.2v1.2h-1.2zM417.1 894.6h1.2v1.2h-1.2zM431.0 893.1h1.2v1.2h-1.2zM423.0 916.8h1.2v1.2h-1.2zM426.1 845.8h1.2v1.2h-1.2zM424.8 912.7h1.2v1.2h-1.2zM412.6 902.5h1.2v1.2h-1.2zM421.7 892.6h1.2v1.2h-1.2zM420.9 899.0h1.2v1.2h-1.2zM429.4 921.5h1.2v1.2h-1.2zM420.7 875.8h1.2v1.2h-1.2zM419.1 902.5h1.2v1.2h-1.2zM415.7 904.0h1.2v1.2h-1.2zM418.1 900.9h1.2v1.2h-1.2zM422.5 870.2h1.2v1.2h-1.2zM422.5 902.3h1.2v1.2h-1.2zM420.3 907.7h1.2v1.2h-1.2zM431.0 877.0h1.2v1.2h-1.2zM424.3 887.3h1.2v1.2h-1.2zM423.5 910.0h1.2v1.2h-1.2zM428.3 879.7h1.2v1.2h-1.2zM422.7 923.5h1.2v1.2h-1.2zM418.6 914.5h1.2v1.2h-1.2zM414.4 915.6h1.2v1.2h-1.2zM421.6 923.7h1.2v1.2h-1.2zM417.7 908.7h1.2v1.2h-1.2zM426.5 906.3h1.2v1.2h-1.2zM419.4 884.4h1.2v1.2h-1.2zM412.7 897.6h1.2v1.2h-1.2zM422.6 886.0h1.2v1.2h-1.2zM426.1 896.6h1.2v1.2h-1.2zM421.9 881.0h1.2v1.2h-1.2zM424.7 860.7h1.2v1.2h-1.2zM421.5 911.0h1.2v1.2h-1.2zM429.9 876.8h1.2v1.2h-1.2zM421.8 915.6h1.2v1.2h-1.2zM421.0 906.4h1.2v1.2h-1.2zM422.8 837.9h1.2v1.2h-1.2zM414.5 906.0h1.2v1.2h-1.2zM426.0 921.2h1.2v1.2h-1.2zM427.9 871.7h1.2v1.2h-1.2zM417.6 901.1h1.2v1.2h-1.2zM423.8 904.4h1.2v1.2h-1.2zM422.4 908.4h1.2v1.2h-1.2zM420.8 887.0h1.2v1.2h-1.2zM419.8 908.7h1.2v1.2h-1.2zM425.8 880.0h1.2v1.2h-1.2zM416.0 910.6h1.2v1.2h-1.2zM420.9 875.9h1.2v1.2h-1.2zM419.9 921.9h1.2v1.2h-1.2zM420.2 922.5h1.2v1.2h-1.2zM420.9 895.7h1.2v1.2h-1.2zM425.2 854.3h1.2v1.2h-1.2zM422.3 924.1h1.2v1.2h-1.2zM422.0 832.7h1.2v1.2h-1.2zM422.4 891.5h1.2v1.2h-1.2zM418.8 909.2h1.2v1.2h-1.2zM428.3 888.7h1.2v1.2h-1.2zM415.8 901.0h1.2v1.2h-1.2zM421.0 893.5h1.2v1.2h-1.2zM424.0 905.7h1.2v1.2h-1.2zM421.1 887.8h1.2v1.2h-1.2zM421.7 874.2h1.2v1.2h-1.2zM419.2 902.1h1.2v1.2h-1.2zM421.4 923.9h1.2v1.2h-1.2zM417.9 881.9h1.2v1.2h-1.2zM420.6 910.1h1.2v1.2h-1.2zM421.0 902.3h1.2v1.2h-1.2zM417.0 877.5h1.2v1.2h-1.2zM424.1 877.3h1.2v1.2h-1.2zM418.6 918.4h1.2v1.2h-1.2zM422.1 912.5h1.2v1.2h-1.2zM426.7 872.7h1.2v1.2h-1.2zM424.7 871.9h1.2v1.2h-1.2zM416.3 908.3h1.2v1.2h-1.2zM423.3 894.3h1.2v1.2h-1.2zM414.4 912.0h1.2v1.2h-1.2zM419.6 882.5h1.2v1.2h-1.2zM428.6 896.6h1.2v1.2h-1.2zM420.1 925.4h1.2v1.2h-1.2zM427.4 909.1h1.2v1.2h-1.2zM420.8 902.3h1.2v1.2h-1.2zM424.4 855.0h1.2v1.2h-1.2zM416.6 909.7h1.2v1.2h-1.2zM425.1 907.0h1.2v1.2h-1.2zM419.5 922.5h1.2v1.2h-1.2zM427.9 839.5h1.2v1.2h-1.2zM423.6 897.3h1.2v1.2h-1.2zM425.8 867.8h1.2v1.2h-1.2zM424.7 872.4h1.2v1.2h-1.2zM422.7 881.0h1.2v1.2h-1.2zM421.4 906.1h1.2v1.2h-1.2zM422.3 843.2h1.2v1.2h-1.2zM416.2 848.6h1.2v1.2h-1.2zM427.3 841.4h1.2v1.2h-1.2zM429.6 909.5h1.2v1.2h-1.2zM425.9 903.9h1.2v1.2h-1.2zM431.7 892.7h1.2v1.2h-1.2zM423.7 900.9h1.2v1.2h-1.2zM417.5 907.8h1.2v1.2h-1.2zM416.4 924.5h1.2v1.2h-1.2zM423.6 921.0h1.2v1.2h-1.2zM422.0 921.0h1.2v1.2h-1.2zM419.9 921.7h1.2v1.2h-1.2zM424.5 906.6h1.2v1.2h-1.2zM418.8 893.2h1.2v1.2h-1.2zM425.1 881.7h1.2v1.2h-1.2zM419.9 914.3h1.2v1.2h-1.2zM422.5 900.8h1.2v1.2h-1.2zM428.2 875.0h1.2v1.2h-1.2zM421.9 891.2h1.2v1.2h-1.2zM427.1 906.9h1.2v1.2h-1.2zM426.9 907.5h1.2v1.2h-1.2zM419.3 893.1h1.2v1.2h-1.2zM432.2 886.4h1.2v1.2h-1.2zM418.8 869.3h1.2v1.2h-1.2zM421.6 899.7h1.2v1.2h-1.2zM427.5 857.1h1.2v1.2h-1.2zM411.7 917.9h1.2v1.2h-1.2zM425.7 907.3h1.2v1.2h-1.2zM425.8 913.3h1.2v1.2h-1.2zM420.0 925.3h1.2v1.2h-1.2zM423.6 891.7h1.2v1.2h-1.2zM425.4 857.6h1.2v1.2h-1.2zM420.1 916.8h1.2v1.2h-1.2zM426.1 903.3h1.2v1.2h-1.2zM420.0 908.6h1.2v1.2h-1.2zM422.6 886.7h1.2v1.2h-1.2zM422.1 922.6h1.2v1.2h-1.2zM428.0 857.1h1.2v1.2h-1.2zM426.9 892.7h1.2v1.2h-1.2zM418.1 864.2h1.2v1.2h-1.2zM413.0 912.6h1.2v1.2h-1.2zM420.1 922.1h1.2v1.2h-1.2zM420.8 916.2h1.2v1.2h-1.2zM416.3 921.0h1.2v1.2h-1.2zM421.9 921.8h1.2v1.2h-1.2zM425.1 890.9h1.2v1.2h-1.2zM424.2 888.3h1.2v1.2h-1.2zM427.4 921.8h1.2v1.2h-1.2zM418.2 893.9h1.2v1.2h-1.2zM422.9 886.6h1.2v1.2h-1.2zM430.4 890.2h1.2v1.2h-1.2zM423.2 925.0h1.2v1.2h-1.2zM416.0 924.4h1.2v1.2h-1.2zM423.0 896.0h1.2v1.2h-1.2zM425.3 924.4h1.2v1.2h-1.2zM432.4 866.9h1.2v1.2h-1.2zM424.0 910.5h1.2v1.2h-1.2zM426.0 912.3h1.2v1.2h-1.2zM416.1 922.0h1.2v1.2h-1.2zM422.4 876.3h1.2v1.2h-1.2zM425.6 921.1h1.2v1.2h-1.2zM416.7 922.8h1.2v1.2h-1.2zM423.5 870.0h1.2v1.2h-1.2zM415.3 885.4h1.2v1.2h-1.2zM428.5 891.9h1.2v1.2h-1.2zM421.4 900.4h1.2v1.2h-1.2zM424.4 897.6h1.2v1.2h-1.2zM417.1 880.0h1.2v1.2h-1.2zM415.5 918.1h1.2v1.2h-1.2zM427.9 923.4h1.2v1.2h-1.2zM420.2 905.3h1.2v1.2h-1.2zM418.9 914.7h1.2v1.2h-1.2zM427.1 848.3h1.2v1.2h-1.2zM424.5 894.3h1.2v1.2h-1.2zM416.5 859.0h1.2v1.2h-1.2zM419.6 873.3h1.2v1.2h-1.2zM423.3 881.5h1.2v1.2h-1.2zM422.0 900.0h1.2v1.2h-1.2zM424.0 889.1h1.2v1.2h-1.2zM418.8 923.4h1.2v1.2h-1.2zM419.8 916.3h1.2v1.2h-1.2zM423.7 885.0h1.2v1.2h-1.2zM419.3 897.9h1.2v1.2h-1.2zM422.1 841.2h1.2v1.2h-1.2zM418.8 915.7h1.2v1.2h-1.2zM420.8 919.4h1.2v1.2h-1.2zM420.4 915.0h1.2v1.2h-1.2zM419.3 911.6h1.2v1.2h-1.2zM420.2 912.5h1.2v1.2h-1.2zM423.5 871.4h1.2v1.2h-1.2zM422.0 920.9h1.2v1.2h-1.2zM423.4 900.2h1.2v1.2h-1.2zM416.9 896.4h1.2v1.2h-1.2zM424.4 925.2h1.2v1.2h-1.2zM418.3 852.3h1.2v1.2h-1.2zM424.4 895.3h1.2v1.2h-1.2zM418.0 917.3h1.2v1.2h-1.2zM424.0 903.8h1.2v1.2h-1.2zM425.5 912.5h1.2v1.2h-1.2zM413.9 907.0h1.2v1.2h-1.2zM424.0 905.7h1.2v1.2h-1.2zM422.0 917.2h1.2v1.2h-1.2zM418.8 919.9h1.2v1.2h-1.2zM422.3 919.8h1.2v1.2h-1.2zM418.8 917.9h1.2v1.2h-1.2zM423.0 889.1h1.2v1.2h-1.2zM416.7 915.2h1.2v1.2h-1.2zM425.2 898.1h1.2v1.2h-1.2zM423.5 912.4h1.2v1.2h-1.2zM425.8 884.1h1.2v1.2h-1.2zM422.0 854.0h1.2v1.2h-1.2zM431.0 871.9h1.2v1.2h-1.2zM430.6 888.2h1.2v1.2h-1.2zM423.7 863.2h1.2v1.2h-1.2zM420.8 890.4h1.2v1.2h-1.2zM423.5 845.3h1.2v1.2h-1.2zM425.7 883.4h1.2v1.2h-1.2zM425.7 906.2h1.2v1.2h-1.2zM418.1 912.9h1.2v1.2h-1.2zM412.4 921.4h1.2v1.2h-1.2zM424.1 893.1h1.2v1.2h-1.2zM420.5 921.1h1.2v1.2h-1.2zM421.3 921.8h1.2v1.2h-1.2zM422.7 920.7h1.2v1.2h-1.2zM417.3 902.0h1.2v1.2h-1.2zM420.9 921.2h1.2v1.2h-1.2zM421.4 888.6h1.2v1.2h-1.2zM424.3 884.1h1.2v1.2h-1.2zM425.5 922.1h1.2v1.2h-1.2zM423.5 872.7h1.2v1.2h-1.2zM417.9 908.5h1.2v1.2h-1.2zM426.3 910.4h1.2v1.2h-1.2zM426.0 879.1h1.2v1.2h-1.2zM419.6 924.0h1.2v1.2h-1.2zM414.6 899.0h1.2v1.2h-1.2zM417.3 916.4h1.2v1.2h-1.2zM421.9 907.7h1.2v1.2h-1.2zM423.5 908.2h1.2v1.2h-1.2zM419.2 908.8h1.2v1.2h-1.2zM422.6 916.7h1.2v1.2h-1.2zM419.1 903.0h1.2v1.2h-1.2zM418.7 923.0h1.2v1.2h-1.2zM427.2 845.9h1.2v1.2h-1.2zM419.2 924.2h1.2v1.2h-1.2zM421.6 912.0h1.2v1.2h-1.2zM425.7 893.1h1.2v1.2h-1.2zM426.0 904.6h1.2v1.2h-1.2zM419.4 900.2h1.2v1.2h-1.2zM422.3 873.4h1.2v1.2h-1.2zM416.0 907.9h1.2v1.2h-1.2zM415.9 909.7h1.2v1.2h-1.2zM424.3 877.2h1.2v1.2h-1.2zM419.6 901.3h1.2v1.2h-1.2zM414.2 901.9h1.2v1.2h-1.2zM423.0 914.9h1.2v1.2h-1.2zM418.4 899.4h1.2v1.2h-1.2zM421.4 884.3h1.2v1.2h-1.2zM422.2 920.0h1.2v1.2h-1.2zM422.8 908.9h1.2v1.2h-1.2zM422.0 892.0h1.2v1.2h-1.2zM413.7 901.1h1.2v1.2h-1.2zM423.3 911.3h1.2v1.2h-1.2zM418.5 913.5h1.2v1.2h-1.2zM416.5 893.2h1.2v1.2h-1.2zM411.8 918.1h1.2v1.2h-1.2zM429.9 852.5h1.2v1.2h-1.2zM423.1 886.3h1.2v1.2h-1.2zM421.5 910.6h1.2v1.2h-1.2zM423.2 916.2h1.2v1.2h-1.2zM423.9 858.6h1.2v1.2h-1.2zM415.0 914.1h1.2v1.2h-1.2zM424.0 907.4h1.2v1.2h-1.2zM425.3 906.9h1.2v1.2h-1.2zM426.8 851.0h1.2v1.2h-1.2zM428.2 895.3h1.2v1.2h-1.2zM431.3 868.3h1.2v1.2h-1.2zM418.5 900.0h1.2v1.2h-1.2zM419.3 910.6h1.2v1.2h-1.2zM424.2 918.5h1.2v1.2h-1.2zM424.8 860.7h1.2v1.2h-1.2zM426.1 842.3h1.2v1.2h-1.2zM424.9 910.3h1.2v1.2h-1.2zM426.2 875.7h1.2v1.2h-1.2zM421.5 874.4h1.2v1.2h-1.2zM422.0 905.1h1.2v1.2h-1.2zM418.4 908.6h1.2v1.2h-1.2zM420.5 907.4h1.2v1.2h-1.2zM417.0 905.2h1.2v1.2h-1.2zM412.6 922.2h1.2v1.2h-1.2zM418.3 924.5h1.2v1.2h-1.2zM420.2 887.2h1.2v1.2h-1.2zM428.5 847.1h1.2v1.2h-1.2zM428.1 899.4h1.2v1.2h-1.2zM425.0 848.7h1.2v1.2h-1.2zM422.8 914.5h1.2v1.2h-1.2zM419.4 897.0h1.2v1.2h-1.2zM419.0 884.6h1.2v1.2h-1.2zM420.3 905.4h1.2v1.2h-1.2zM423.2 857.1h1.2v1.2h-1.2zM422.0 916.9h1.2v1.2h-1.2zM421.5 912.3h1.2v1.2h-1.2zM427.3 918.5h1.2v1.2h-1.2zM420.1 914.2h1.2v1.2h-1.2zM414.9 905.9h1.2v1.2h-1.2zM422.8 891.0h1.2v1.2h-1.2zM417.9 921.0h1.2v1.2h-1.2zM423.3 888.9h1.2v1.2h-1.2zM428.6 861.3h1.2v1.2h-1.2zM420.0 887.4h1.2v1.2h-1.2zM422.0 892.0h1.2v1.2h-1.2zM424.1 896.8h1.2v1.2h-1.2zM420.4 861.0h1.2v1.2h-1.2zM424.6 867.9h1.2v1.2h-1.2zM426.0 866.6h1.2v1.2h-1.2zM424.0 919.0h1.2v1.2h-1.2zM426.7 891.9h1.2v1.2h-1.2zM426.2 864.1h1.2v1.2h-1.2zM426.3 851.8h1.2v1.2h-1.2zM417.7 876.6h1.2v1.2h-1.2zM410.2 915.2h1.2v1.2h-1.2zM416.5 925.4h1.2v1.2h-1.2zM426.5 917.4h1.2v1.2h-1.2zM421.6 911.7h1.2v1.2h-1.2zM411.7 918.9h1.2v1.2h-1.2zM419.1 917.3h1.2v1.2h-1.2zM422.4 915.7h1.2v1.2h-1.2zM413.8 911.9h1.2v1.2h-1.2zM423.4 912.2h1.2v1.2h-1.2zM418.0 888.4h1.2v1.2h-1.2zM425.4 911.0h1.2v1.2h-1.2zM420.8 919.3h1.2v1.2h-1.2zM434.0 903.6h1.2v1.2h-1.2zM418.4 868.7h1.2v1.2h-1.2zM421.5 925.3h1.2v1.2h-1.2zM417.2 880.7h1.2v1.2h-1.2zM425.8 911.7h1.2v1.2h-1.2zM424.1 871.3h1.2v1.2h-1.2zM425.2 906.4h1.2v1.2h-1.2zM420.9 923.2h1.2v1.2h-1.2zM419.1 868.5h1.2v1.2h-1.2zM418.0 922.0h1.2v1.2h-1.2zM415.8 919.7h1.2v1.2h-1.2zM416.8 915.6h1.2v1.2h-1.2zM424.1 873.7h1.2v1.2h-1.2zM426.2 900.1h1.2v1.2h-1.2zM424.7 910.7h1.2v1.2h-1.2zM422.8 919.8h1.2v1.2h-1.2zM420.2 891.2h1.2v1.2h-1.2zM424.0 900.2h1.2v1.2h-1.2zM417.0 925.4h1.2v1.2h-1.2zM422.0 912.9h1.2v1.2h-1.2zM428.9 839.0h1.2v1.2h-1.2zM422.0 886.0h1.2v1.2h-1.2zM423.2 846.9h1.2v1.2h-1.2zM418.7 924.3h1.2v1.2h-1.2zM423.6 912.4h1.2v1.2h-1.2zM421.8 881.5h1.2v1.2h-1.2zM417.7 876.0h1.2v1.2h-1.2zM419.7 909.1h1.2v1.2h-1.2zM416.3 923.5h1.2v1.2h-1.2zM427.6 905.2h1.2v1.2h-1.2zM420.7 920.9h1.2v1.2h-1.2zM415.4 910.2h1.2v1.2h-1.2zM424.8 870.5h1.2v1.2h-1.2zM423.5 921.5h1.2v1.2h-1.2zM423.0 907.0h1.2v1.2h-1.2zM420.8 894.4h1.2v1.2h-1.2zM421.8 911.4h1.2v1.2h-1.2zM423.6 890.9h1.2v1.2h-1.2zM425.5 906.4h1.2v1.2h-1.2zM423.8 892.8h1.2v1.2h-1.2zM431.8 886.7h1.2v1.2h-1.2zM423.1 865.5h1.2v1.2h-1.2zM426.8 920.1h1.2v1.2h-1.2zM421.7 904.6h1.2v1.2h-1.2zM415.8 889.2h1.2v1.2h-1.2zM417.1 902.2h1.2v1.2h-1.2zM413.3 922.9h1.2v1.2h-1.2zM415.5 893.9h1.2v1.2h-1.2zM428.0 878.6h1.2v1.2h-1.2zM418.1 919.9h1.2v1.2h-1.2zM425.2 885.3h1.2v1.2h-1.2zM416.9 924.0h1.2v1.2h-1.2zM420.5 922.7h1.2v1.2h-1.2zM419.5 870.0h1.2v1.2h-1.2zM424.4 916.5h1.2v1.2h-1.2zM421.2 895.2h1.2v1.2h-1.2zM419.7 906.5h1.2v1.2h-1.2zM420.5 913.1h1.2v1.2h-1.2zM429.9 911.7h1.2v1.2h-1.2zM422.2 925.5h1.2v1.2h-1.2zM423.9 923.3h1.2v1.2h-1.2zM417.1 897.6h1.2v1.2h-1.2zM419.9 891.0h1.2v1.2h-1.2zM422.4 911.1h1.2v1.2h-1.2zM413.1 923.3h1.2v1.2h-1.2zM426.7 908.7h1.2v1.2h-1.2zM421.5 925.2h1.2v1.2h-1.2zM421.7 903.1h1.2v1.2h-1.2zM421.6 892.1h1.2v1.2h-1.2zM419.9 918.8h1.2v1.2h-1.2zM418.5 923.1h1.2v1.2h-1.2zM426.7 912.4h1.2v1.2h-1.2zM424.1 909.5h1.2v1.2h-1.2zM429.3 859.4h1.2v1.2h-1.2zM419.5 920.9h1.2v1.2h-1.2zM419.4 883.5h1.2v1.2h-1.2zM426.9 907.3h1.2v1.2h-1.2zM418.7 873.0h1.2v1.2h-1.2zM418.5 917.5h1.2v1.2h-1.2zM423.6 919.9h1.2v1.2h-1.2zM427.2 884.1h1.2v1.2h-1.2zM418.3 873.2h1.2v1.2h-1.2zM420.0 913.9h1.2v1.2h-1.2zM421.2 914.2h1.2v1.2h-1.2zM420.2 920.2h1.2v1.2h-1.2zM417.6 915.6h1.2v1.2h-1.2zM423.6 916.8h1.2v1.2h-1.2zM420.4 891.3h1.2v1.2h-1.2zM421.6 889.9h1.2v1.2h-1.2zM412.5 907.3h1.2v1.2h-1.2zM420.6 915.3h1.2v1.2h-1.2zM412.9 922.5h1.2v1.2h-1.2zM426.4 873.0h1.2v1.2h-1.2zM422.7 920.7h1.2v1.2h-1.2zM421.4 874.3h1.2v1.2h-1.2zM421.5 917.4h1.2v1.2h-1.2zM421.7 911.6h1.2v1.2h-1.2zM419.9 924.6h1.2v1.2h-1.2zM423.1 904.5h1.2v1.2h-1.2zM422.4 883.4h1.2v1.2h-1.2zM419.7 904.7h1.2v1.2h-1.2zM422.2 842.9h1.2v1.2h-1.2zM428.3 904.7h1.2v1.2h-1.2zM422.8 898.0h1.2v1.2h-1.2zM424.6 854.4h1.2v1.2h-1.2zM423.5 921.8h1.2v1.2h-1.2zM421.7 878.5h1.2v1.2h-1.2zM419.3 918.6h1.2v1.2h-1.2zM423.4 919.6h1.2v1.2h-1.2zM427.0 882.9h1.2v1.2h-1.2zM427.0 860.4h1.2v1.2h-1.2zM415.9 902.7h1.2v1.2h-1.2zM422.3 897.8h1.2v1.2h-1.2zM424.6 853.8h1.2v1.2h-1.2zM422.7 916.5h1.2v1.2h-1.2zM422.1 839.0h1.2v1.2h-1.2zM416.9 914.7h1.2v1.2h-1.2zM420.0 924.5h1.2v1.2h-1.2zM419.0 890.2h1.2v1.2h-1.2zM420.5 852.9h1.2v1.2h-1.2zM420.4 920.2h1.2v1.2h-1.2zM425.0 909.3h1.2v1.2h-1.2zM421.5 916.4h1.2v1.2h-1.2zM425.0 923.0h1.2v1.2h-1.2zM416.8 918.9h1.2v1.2h-1.2zM424.1 909.7h1.2v1.2h-1.2zM420.4 924.3h1.2v1.2h-1.2zM419.6 880.7h1.2v1.2h-1.2zM421.5 879.8h1.2v1.2h-1.2zM419.0 846.9h1.2v1.2h-1.2zM422.2 857.1h1.2v1.2h-1.2zM419.6 859.0h1.2v1.2h-1.2zM429.5 850.0h1.2v1.2h-1.2zM421.5 818.3h1.2v1.2h-1.2zM416.2 825.5h1.2v1.2h-1.2zM422.3 826.4h1.2v1.2h-1.2zM425.2 872.9h1.2v1.2h-1.2zM421.7 828.7h1.2v1.2h-1.2zM427.5 827.0h1.2v1.2h-1.2zM418.7 869.9h1.2v1.2h-1.2zM419.0 811.7h1.2v1.2h-1.2zM431.3 856.7h1.2v1.2h-1.2zM423.3 818.9h1.2v1.2h-1.2zM425.9 848.4h1.2v1.2h-1.2zM425.7 850.0h1.2v1.2h-1.2zM426.1 834.2h1.2v1.2h-1.2zM423.5 826.4h1.2v1.2h-1.2zM422.3 866.2h1.2v1.2h-1.2zM428.6 831.9h1.2v1.2h-1.2zM420.8 877.5h1.2v1.2h-1.2zM423.8 869.5h1.2v1.2h-1.2zM426.6 857.9h1.2v1.2h-1.2zM421.3 886.7h1.2v1.2h-1.2zM415.7 820.7h1.2v1.2h-1.2zM425.5 847.6h1.2v1.2h-1.2zM428.6 872.5h1.2v1.2h-1.2zM424.5 837.6h1.2v1.2h-1.2zM415.0 865.0h1.2v1.2h-1.2zM426.4 873.8h1.2v1.2h-1.2zM433.0 859.0h1.2v1.2h-1.2zM415.7 868.9h1.2v1.2h-1.2zM409.9 868.8h1.2v1.2h-1.2zM422.1 813.8h1.2v1.2h-1.2zM423.7 882.1h1.2v1.2h-1.2zM427.1 846.1h1.2v1.2h-1.2zM427.3 844.3h1.2v1.2h-1.2zM423.7 845.7h1.2v1.2h-1.2zM425.9 810.2h1.2v1.2h-1.2zM424.9 885.5h1.2v1.2h-1.2zM423.9 824.1h1.2v1.2h-1.2zM423.0 882.4h1.2v1.2h-1.2zM422.5 880.7h1.2v1.2h-1.2zM426.7 854.5h1.2v1.2h-1.2zM425.3 844.2h1.2v1.2h-1.2zM421.2 843.8h1.2v1.2h-1.2zM428.7 863.3h1.2v1.2h-1.2zM419.7 809.1h1.2v1.2h-1.2zM422.2 819.3h1.2v1.2h-1.2zM424.0 841.3h1.2v1.2h-1.2zM414.0 811.5h1.2v1.2h-1.2zM421.5 864.3h1.2v1.2h-1.2zM427.5 816.4h1.2v1.2h-1.2zM427.3 853.7h1.2v1.2h-1.2zM417.5 886.7h1.2v1.2h-1.2zM419.2 813.5h1.2v1.2h-1.2zM418.0 868.7h1.2v1.2h-1.2zM422.1 878.2h1.2v1.2h-1.2zM423.0 870.8h1.2v1.2h-1.2zM415.5 829.6h1.2v1.2h-1.2zM424.9 830.3h1.2v1.2h-1.2zM423.6 818.4h1.2v1.2h-1.2zM422.9 868.9h1.2v1.2h-1.2zM420.0 870.7h1.2v1.2h-1.2zM422.4 812.4h1.2v1.2h-1.2zM414.6 868.6h1.2v1.2h-1.2zM424.4 879.7h1.2v1.2h-1.2zM424.3 824.1h1.2v1.2h-1.2zM422.8 872.8h1.2v1.2h-1.2zM417.5 837.1h1.2v1.2h-1.2zM429.5 864.8h1.2v1.2h-1.2zM428.8 833.5h1.2v1.2h-1.2zM414.2 855.8h1.2v1.2h-1.2zM425.3 821.7h1.2v1.2h-1.2zM424.0 867.8h1.2v1.2h-1.2zM410.8 885.3h1.2v1.2h-1.2zM425.8 859.4h1.2v1.2h-1.2zM426.5 883.6h1.2v1.2h-1.2zM426.8 869.7h1.2v1.2h-1.2zM424.1 868.8h1.2v1.2h-1.2zM420.1 868.5h1.2v1.2h-1.2zM420.8 871.7h1.2v1.2h-1.2zM425.8 862.5h1.2v1.2h-1.2zM429.0 833.4h1.2v1.2h-1.2zM420.9 882.0h1.2v1.2h-1.2zM422.0 822.5h1.2v1.2h-1.2zM426.7 877.2h1.2v1.2h-1.2zM412.8 825.4h1.2v1.2h-1.2zM425.5 830.7h1.2v1.2h-1.2zM422.2 847.5h1.2v1.2h-1.2zM412.6 852.2h1.2v1.2h-1.2zM427.1 882.6h1.2v1.2h-1.2zM418.9 812.3h1.2v1.2h-1.2zM427.2 836.4h1.2v1.2h-1.2zM430.0 868.6h1.2v1.2h-1.2zM417.3 874.0h1.2v1.2h-1.2zM417.5 813.1h1.2v1.2h-1.2zM423.3 838.7h1.2v1.2h-1.2zM414.8 821.7h1.2v1.2h-1.2zM426.9 824.5h1.2v1.2h-1.2zM424.2 884.4h1.2v1.2h-1.2zM428.1 817.4h1.2v1.2h-1.2zM414.4 834.3h1.2v1.2h-1.2zM424.3 848.5h1.2v1.2h-1.2zM425.6 846.3h1.2v1.2h-1.2zM414.6 846.5h1.2v1.2h-1.2zM427.7 818.4h1.2v1.2h-1.2zM416.7 865.2h1.2v1.2h-1.2zM424.2 881.9h1.2v1.2h-1.2zM417.0 873.3h1.2v1.2h-1.2zM427.2 830.9h1.2v1.2h-1.2zM431.7 855.8h1.2v1.2h-1.2zM423.7 855.4h1.2v1.2h-1.2zM423.6 812.9h1.2v1.2h-1.2zM429.7 846.2h1.2v1.2h-1.2zM421.2 881.9h1.2v1.2h-1.2zM423.7 858.9h1.2v1.2h-1.2zM427.4 852.0h1.2v1.2h-1.2zM425.5 809.1h1.2v1.2h-1.2zM431.1 877.4h1.2v1.2h-1.2zM429.3 829.9h1.2v1.2h-1.2zM432.9 825.5h1.2v1.2h-1.2zM423.5 876.8h1.2v1.2h-1.2zM429.0 811.3h1.2v1.2h-1.2zM419.6 865.6h1.2v1.2h-1.2zM428.0 881.7h1.2v1.2h-1.2zM432.2 812.7h1.2v1.2h-1.2zM435.1 809.8h1.2v1.2h-1.2zM417.6 846.4h1.2v1.2h-1.2zM422.9 868.8h1.2v1.2h-1.2zM427.2 883.8h1.2v1.2h-1.2zM419.4 812.3h1.2v1.2h-1.2zM426.4 848.2h1.2v1.2h-1.2zM426.4 809.3h1.2v1.2h-1.2zM421.4 839.6h1.2v1.2h-1.2zM421.1 825.8h1.2v1.2h-1.2zM419.3 852.4h1.2v1.2h-1.2zM425.2 855.9h1.2v1.2h-1.2zM429.9 840.3h1.2v1.2h-1.2zM425.2 884.8h1.2v1.2h-1.2zM437.3 855.3h1.2v1.2h-1.2zM416.5 835.5h1.2v1.2h-1.2zM420.9 870.3h1.2v1.2h-1.2zM427.1 873.8h1.2v1.2h-1.2zM418.2 860.5h1.2v1.2h-1.2zM425.5 864.4h1.2v1.2h-1.2zM427.8 827.5h1.2v1.2h-1.2zM424.6 878.5h1.2v1.2h-1.2zM422.7 819.3h1.2v1.2h-1.2zM428.4 876.4h1.2v1.2h-1.2zM425.8 870.0h1.2v1.2h-1.2zM427.3 847.2h1.2v1.2h-1.2zM426.4 861.6h1.2v1.2h-1.2zM420.5 863.7h1.2v1.2h-1.2zM418.4 883.6h1.2v1.2h-1.2zM421.9 881.7h1.2v1.2h-1.2zM424.6 820.7h1.2v1.2h-1.2zM422.8 808.3h1.2v1.2h-1.2zM428.4 812.0h1.2v1.2h-1.2zM425.0 846.0h1.2v1.2h-1.2zM428.5 872.4h1.2v1.2h-1.2zM424.3 851.0h1.2v1.2h-1.2zM420.2 837.4h1.2v1.2h-1.2zM427.9 850.9h1.2v1.2h-1.2zM426.2 835.1h1.2v1.2h-1.2zM419.6 851.3h1.2v1.2h-1.2zM421.7 826.6h1.2v1.2h-1.2zM437.4 818.6h1.2v1.2h-1.2zM407.1 828.1h1.2v1.2h-1.2zM429.2 834.9h1.2v1.2h-1.2zM424.0 811.1h1.2v1.2h-1.2zM423.3 834.4h1.2v1.2h-1.2zM422.2 882.2h1.2v1.2h-1.2zM421.1 808.2h1.2v1.2h-1.2zM435.3 813.3h1.2v1.2h-1.2zM421.4 873.3h1.2v1.2h-1.2zM422.1 871.7h1.2v1.2h-1.2zM427.6 811.6h1.2v1.2h-1.2zM425.5 848.3h1.2v1.2h-1.2zM422.7 822.1h1.2v1.2h-1.2zM422.2 825.3h1.2v1.2h-1.2zM417.0 819.0h1.2v1.2h-1.2zM428.9 856.0h1.2v1.2h-1.2zM418.3 820.4h1.2v1.2h-1.2zM411.6 843.0h1.2v1.2h-1.2zM428.7 857.8h1.2v1.2h-1.2zM427.2 853.2h1.2v1.2h-1.2zM425.2 813.7h1.2v1.2h-1.2zM420.9 860.4h1.2v1.2h-1.2zM429.4 815.7h1.2v1.2h-1.2zM418.1 830.9h1.2v1.2h-1.2zM412.7 860.7h1.2v1.2h-1.2zM424.3 880.2h1.2v1.2h-1.2zM427.4 819.7h1.2v1.2h-1.2zM426.5 880.6h1.2v1.2h-1.2zM433.7 811.8h1.2v1.2h-1.2zM427.6 863.8h1.2v1.2h-1.2zM422.3 811.7h1.2v1.2h-1.2zM422.5 886.0h1.2v1.2h-1.2zM427.9 882.9h1.2v1.2h-1.2zM440.0 840.1h1.2v1.2h-1.2zM464.3 825.5h1.2v1.2h-1.2zM424.3 881.4h1.2v1.2h-1.2zM450.9 866.2h1.2v1.2h-1.2zM418.3 829.3h1.2v1.2h-1.2zM445.0 815.0h1.2v1.2h-1.2zM479.8 813.5h1.2v1.2h-1.2zM448.8 859.9h1.2v1.2h-1.2zM490.5 852.3h1.2v1.2h-1.2zM408.2 825.3h1.2v1.2h-1.2zM452.2 807.2h1.2v1.2h-1.2zM455.8 799.8h1.2v1.2h-1.2zM466.4 836.2h1.2v1.2h-1.2zM428.9 844.3h1.2v1.2h-1.2zM450.3 791.7h1.2v1.2h-1.2zM449.4 853.6h1.2v1.2h-1.2zM448.7 818.7h1.2v1.2h-1.2zM413.5 852.2h1.2v1.2h-1.2zM405.1 882.3h1.2v1.2h-1.2zM459.5 865.6h1.2v1.2h-1.2zM454.9 825.8h1.2v1.2h-1.2zM447.5 833.0h1.2v1.2h-1.2zM461.9 823.6h1.2v1.2h-1.2zM472.6 843.7h1.2v1.2h-1.2zM418.7 856.4h1.2v1.2h-1.2zM465.5 828.5h1.2v1.2h-1.2zM482.5 837.8h1.2v1.2h-1.2zM471.3 876.4h1.2v1.2h-1.2zM461.0 847.8h1.2v1.2h-1.2zM463.8 792.3h1.2v1.2h-1.2zM412.3 864.3h1.2v1.2h-1.2zM435.1 826.6h1.2v1.2h-1.2zM471.6 837.0h1.2v1.2h-1.2zM482.7 814.3h1.2v1.2h-1.2zM458.2 859.6h1.2v1.2h-1.2zM436.3 873.7h1.2v1.2h-1.2zM443.9 828.0h1.2v1.2h-1.2zM467.8 853.8h1.2v1.2h-1.2zM495.8 832.1h1.2v1.2h-1.2zM466.4 844.1h1.2v1.2h-1.2zM434.9 816.2h1.2v1.2h-1.2zM462.5 830.0h1.2v1.2h-1.2zM458.0 833.7h1.2v1.2h-1.2zM505.2 854.8h1.2v1.2h-1.2zM461.9 877.2h1.2v1.2h-1.2zM448.5 860.5h1.2v1.2h-1.2zM445.9 817.9h1.2v1.2h-1.2zM418.2 826.0h1.2v1.2h-1.2zM422.4 828.2h1.2v1.2h-1.2zM436.3 851.3h1.2v1.2h-1.2zM428.3 868.7h1.2v1.2h-1.2zM452.3 808.8h1.2v1.2h-1.2zM450.2 834.1h1.2v1.2h-1.2zM470.4 821.7h1.2v1.2h-1.2zM484.2 857.5h1.2v1.2h-1.2zM451.5 856.2h1.2v1.2h-1.2zM443.1 823.3h1.2v1.2h-1.2zM403.2 827.4h1.2v1.2h-1.2zM456.9 863.4h1.2v1.2h-1.2zM463.7 829.2h1.2v1.2h-1.2zM429.3 872.3h1.2v1.2h-1.2zM438.4 809.4h1.2v1.2h-1.2zM431.0 824.9h1.2v1.2h-1.2zM473.2 776.6h1.2v1.2h-1.2zM462.7 798.0h1.2v1.2h-1.2zM477.0 851.5h1.2v1.2h-1.2zM418.9 838.9h1.2v1.2h-1.2zM511.6 841.1h1.2v1.2h-1.2zM427.2 839.0h1.2v1.2h-1.2zM423.2 823.2h1.2v1.2h-1.2zM452.3 838.7h1.2v1.2h-1.2zM434.4 839.9h1.2v1.2h-1.2zM491.3 866.6h1.2v1.2h-1.2zM437.7 826.1h1.2v1.2h-1.2zM431.2 842.4h1.2v1.2h-1.2zM471.0 819.5h1.2v1.2h-1.2zM476.9 807.8h1.2v1.2h-1.2zM427.4 841.8h1.2v1.2h-1.2zM436.1 823.3h1.2v1.2h-1.2zM438.9 856.3h1.2v1.2h-1.2zM443.6 815.7h1.2v1.2h-1.2zM488.5 833.3h1.2v1.2h-1.2zM477.6 849.7h1.2v1.2h-1.2zM473.0 841.1h1.2v1.2h-1.2zM478.0 870.8h1.2v1.2h-1.2zM447.8 856.0h1.2v1.2h-1.2zM468.3 847.0h1.2v1.2h-1.2zM445.6 839.0h1.2v1.2h-1.2zM429.2 844.6h1.2v1.2h-1.2zM487.3 849.5h1.2v1.2h-1.2zM405.1 851.1h1.2v1.2h-1.2zM447.3 894.3h1.2v1.2h-1.2zM433.3 839.4h1.2v1.2h-1.2zM407.2 831.7h1.2v1.2h-1.2zM437.9 820.8h1.2v1.2h-1.2zM448.7 811.7h1.2v1.2h-1.2zM458.1 843.1h1.2v1.2h-1.2zM427.2 845.0h1.2v1.2h-1.2zM465.1 848.9h1.2v1.2h-1.2zM454.3 850.8h1.2v1.2h-1.2zM466.4 833.4h1.2v1.2h-1.2zM400.7 812.8h1.2v1.2h-1.2zM436.0 884.8h1.2v1.2h-1.2zM432.0 854.9h1.2v1.2h-1.2zM460.6 830.5h1.2v1.2h-1.2zM429.0 868.2h1.2v1.2h-1.2zM434.5 831.3h1.2v1.2h-1.2zM419.3 879.4h1.2v1.2h-1.2zM418.0 853.5h1.2v1.2h-1.2zM424.2 885.8h1.2v1.2h-1.2zM469.7 829.2h1.2v1.2h-1.2zM421.1 864.3h1.2v1.2h-1.2zM453.5 846.5h1.2v1.2h-1.2zM435.6 866.4h1.2v1.2h-1.2zM459.7 848.8h1.2v1.2h-1.2zM459.2 835.0h1.2v1.2h-1.2zM438.9 841.8h1.2v1.2h-1.2zM436.3 848.5h1.2v1.2h-1.2zM433.1 851.5h1.2v1.2h-1.2zM446.1 840.2h1.2v1.2h-1.2zM427.7 821.9h1.2v1.2h-1.2zM451.0 854.3h1.2v1.2h-1.2zM479.5 823.9h1.2v1.2h-1.2zM430.3 876.8h1.2v1.2h-1.2zM431.2 819.3h1.2v1.2h-1.2zM431.0 833.7h1.2v1.2h-1.2zM461.0 847.0h1.2v1.2h-1.2zM462.1 846.2h1.2v1.2h-1.2zM480.7 878.0h1.2v1.2h-1.2zM463.5 835.3h1.2v1.2h-1.2zM449.5 846.1h1.2v1.2h-1.2zM457.3 874.2h1.2v1.2h-1.2zM415.1 856.7h1.2v1.2h-1.2zM460.0 823.5h1.2v1.2h-1.2zM450.7 835.2h1.2v1.2h-1.2zM496.3 825.3h1.2v1.2h-1.2zM479.5 849.1h1.2v1.2h-1.2zM426.8 821.9h1.2v1.2h-1.2zM433.0 843.1h1.2v1.2h-1.2zM467.6 815.2h1.2v1.2h-1.2zM397.0 791.9h1.2v1.2h-1.2zM424.6 894.8h1.2v1.2h-1.2zM455.5 851.6h1.2v1.2h-1.2zM462.0 837.5h1.2v1.2h-1.2zM451.1 858.2h1.2v1.2h-1.2zM474.5 809.3h1.2v1.2h-1.2zM440.1 850.0h1.2v1.2h-1.2zM448.9 797.1h1.2v1.2h-1.2zM442.0 821.5h1.2v1.2h-1.2zM420.5 833.5h1.2v1.2h-1.2zM447.7 840.3h1.2v1.2h-1.2zM433.4 820.6h1.2v1.2h-1.2zM448.6 827.0h1.2v1.2h-1.2zM449.3 828.7h1.2v1.2h-1.2zM433.7 815.6h1.2v1.2h-1.2zM431.9 831.7h1.2v1.2h-1.2zM447.8 830.9h1.2v1.2h-1.2zM435.4 881.0h1.2v1.2h-1.2zM468.9 835.7h1.2v1.2h-1.2zM476.6 824.7h1.2v1.2h-1.2zM467.9 865.7h1.2v1.2h-1.2zM469.8 871.0h1.2v1.2h-1.2zM455.4 845.8h1.2v1.2h-1.2zM447.5 831.9h1.2v1.2h-1.2zM416.0 887.7h1.2v1.2h-1.2zM437.9 833.0h1.2v1.2h-1.2zM475.7 810.4h1.2v1.2h-1.2zM465.1 842.8h1.2v1.2h-1.2zM435.0 835.3h1.2v1.2h-1.2zM449.3 827.2h1.2v1.2h-1.2zM472.1 852.2h1.2v1.2h-1.2zM442.9 824.3h1.2v1.2h-1.2zM485.6 821.7h1.2v1.2h-1.2zM428.6 873.9h1.2v1.2h-1.2zM465.7 823.2h1.2v1.2h-1.2zM463.4 814.5h1.2v1.2h-1.2zM450.9 866.2h1.2v1.2h-1.2zM454.0 816.2h1.2v1.2h-1.2zM459.7 844.1h1.2v1.2h-1.2zM458.1 864.0h1.2v1.2h-1.2zM474.2 857.5h1.2v1.2h-1.2zM456.4 824.2h1.2v1.2h-1.2zM474.1 847.3h1.2v1.2h-1.2zM418.5 854.1h1.2v1.2h-1.2zM445.2 871.9h1.2v1.2h-1.2zM454.8 837.6h1.2v1.2h-1.2zM440.6 872.2h1.2v1.2h-1.2zM475.3 852.0h1.2v1.2h-1.2zM458.5 822.0h1.2v1.2h-1.2zM434.6 824.5h1.2v1.2h-1.2zM466.4 849.8h1.2v1.2h-1.2zM466.4 837.6h1.2v1.2h-1.2zM436.4 827.6h1.2v1.2h-1.2zM461.8 837.3h1.2v1.2h-1.2zM455.9 807.3h1.2v1.2h-1.2zM455.3 804.0h1.2v1.2h-1.2zM416.9 846.6h1.2v1.2h-1.2zM477.4 865.9h1.2v1.2h-1.2zM462.3 840.9h1.2v1.2h-1.2zM446.2 805.2h1.2v1.2h-1.2zM455.2 809.4h1.2v1.2h-1.2zM454.8 808.0h1.2v1.2h-1.2zM439.5 812.1h1.2v1.2h-1.2zM432.8 854.8h1.2v1.2h-1.2zM449.1 832.0h1.2v1.2h-1.2zM432.5 814.0h1.2v1.2h-1.2zM435.2 834.5h1.2v1.2h-1.2zM418.9 821.4h1.2v1.2h-1.2zM440.1 866.1h1.2v1.2h-1.2zM470.9 866.5h1.2v1.2h-1.2zM451.9 787.1h1.2v1.2h-1.2zM447.9 819.5h1.2v1.2h-1.2zM439.2 824.9h1.2v1.2h-1.2zM436.5 803.5h1.2v1.2h-1.2zM410.9 788.1h1.2v1.2h-1.2zM486.4 759.1h1.2v1.2h-1.2zM429.3 903.4h1.2v1.2h-1.2zM410.8 835.0h1.2v1.2h-1.2zM456.3 811.1h1.2v1.2h-1.2zM452.8 887.1h1.2v1.2h-1.2zM434.3 886.9h1.2v1.2h-1.2zM411.4 849.4h1.2v1.2h-1.2zM413.6 796.1h1.2v1.2h-1.2zM484.3 808.8h1.2v1.2h-1.2zM443.9 784.2h1.2v1.2h-1.2zM431.0 834.2h1.2v1.2h-1.2zM491.3 804.3h1.2v1.2h-1.2zM433.6 802.1h1.2v1.2h-1.2zM424.5 830.9h1.2v1.2h-1.2zM459.7 837.4h1.2v1.2h-1.2zM455.5 834.5h1.2v1.2h-1.2zM484.2 927.8h1.2v1.2h-1.2zM409.3 836.9h1.2v1.2h-1.2zM453.6 885.9h1.2v1.2h-1.2zM406.0 866.9h1.2v1.2h-1.2zM457.7 819.3h1.2v1.2h-1.2zM431.0 831.6h1.2v1.2h-1.2zM435.6 892.5h1.2v1.2h-1.2zM429.0 828.7h1.2v1.2h-1.2zM466.8 816.8h1.2v1.2h-1.2zM485.6 827.9h1.2v1.2h-1.2zM444.6 822.1h1.2v1.2h-1.2zM440.5 825.8h1.2v1.2h-1.2zM434.6 885.3h1.2v1.2h-1.2zM459.2 842.9h1.2v1.2h-1.2zM421.9 851.2h1.2v1.2h-1.2zM531.7 857.1h1.2v1.2h-1.2zM441.1 841.8h1.2v1.2h-1.2zM487.8 854.0h1.2v1.2h-1.2zM450.2 841.2h1.2v1.2h-1.2zM413.7 867.3h1.2v1.2h-1.2zM409.1 818.8h1.2v1.2h-1.2zM436.5 784.3h1.2v1.2h-1.2zM429.4 857.3h1.2v1.2h-1.2zM440.6 839.7h1.2v1.2h-1.2zM418.9 842.9h1.2v1.2h-1.2zM502.9 819.2h1.2v1.2h-1.2zM497.6 835.9h1.2v1.2h-1.2zM403.0 904.3h1.2v1.2h-1.2zM458.0 828.9h1.2v1.2h-1.2zM475.2 838.5h1.2v1.2h-1.2zM438.3 868.9h1.2v1.2h-1.2zM440.9 846.0h1.2v1.2h-1.2zM472.6 848.8h1.2v1.2h-1.2zM459.3 831.8h1.2v1.2h-1.2zM417.1 853.0h1.2v1.2h-1.2zM475.8 842.5h1.2v1.2h-1.2zM434.5 839.3h1.2v1.2h-1.2zM491.0 826.5h1.2v1.2h-1.2zM423.2 843.5h1.2v1.2h-1.2zM448.6 833.5h1.2v1.2h-1.2zM475.4 855.2h1.2v1.2h-1.2zM458.6 793.6h1.2v1.2h-1.2zM449.9 836.5h1.2v1.2h-1.2zM423.9 803.5h1.2v1.2h-1.2zM468.2 864.0h1.2v1.2h-1.2zM401.4 832.9h1.2v1.2h-1.2zM465.1 792.7h1.2v1.2h-1.2zM416.8 812.2h1.2v1.2h-1.2zM431.4 840.2h1.2v1.2h-1.2zM414.0 860.5h1.2v1.2h-1.2zM423.7 859.4h1.2v1.2h-1.2zM481.6 839.2h1.2v1.2h-1.2zM417.2 869.9h1.2v1.2h-1.2zM450.2 858.7h1.2v1.2h-1.2zM426.2 869.1h1.2v1.2h-1.2zM470.3 862.0h1.2v1.2h-1.2zM412.6 839.5h1.2v1.2h-1.2zM445.5 885.8h1.2v1.2h-1.2zM467.3 832.5h1.2v1.2h-1.2zM500.1 813.7h1.2v1.2h-1.2zM416.7 869.3h1.2v1.2h-1.2zM424.1 867.3h1.2v1.2h-1.2zM444.0 840.0h1.2v1.2h-1.2zM481.1 835.6h1.2v1.2h-1.2zM420.5 819.9h1.2v1.2h-1.2zM465.1 888.4h1.2v1.2h-1.2zM430.0 844.6h1.2v1.2h-1.2zM420.0 808.3h1.2v1.2h-1.2zM406.5 844.4h1.2v1.2h-1.2zM448.3 794.2h1.2v1.2h-1.2zM468.9 780.2h1.2v1.2h-1.2zM442.5 854.8h1.2v1.2h-1.2zM431.4 829.1h1.2v1.2h-1.2zM468.5 836.8h1.2v1.2h-1.2zM466.1 844.0h1.2v1.2h-1.2zM451.6 844.9h1.2v1.2h-1.2zM480.8 857.9h1.2v1.2h-1.2zM414.1 849.6h1.2v1.2h-1.2zM414.9 820.9h1.2v1.2h-1.2zM502.9 798.3h1.2v1.2h-1.2zM461.2 847.4h1.2v1.2h-1.2zM439.9 827.3h1.2v1.2h-1.2zM433.0 829.8h1.2v1.2h-1.2zM465.3 818.5h1.2v1.2h-1.2zM396.9 877.5h1.2v1.2h-1.2zM443.6 818.8h1.2v1.2h-1.2zM481.5 791.0h1.2v1.2h-1.2zM435.2 870.4h1.2v1.2h-1.2zM453.9 861.6h1.2v1.2h-1.2zM434.2 866.5h1.2v1.2h-1.2zM454.5 852.3h1.2v1.2h-1.2zM404.2 856.8h1.2v1.2h-1.2zM496.1 853.4h1.2v1.2h-1.2zM421.3 886.2h1.2v1.2h-1.2zM458.5 792.5h1.2v1.2h-1.2zM488.2 853.0h1.2v1.2h-1.2zM455.5 815.5h1.2v1.2h-1.2zM493.8 841.9h1.2v1.2h-1.2zM428.8 815.1h1.2v1.2h-1.2zM470.3 816.1h1.2v1.2h-1.2zM440.7 815.7h1.2v1.2h-1.2zM443.9 850.9h1.2v1.2h-1.2zM476.8 818.9h1.2v1.2h-1.2zM423.0 884.0h1.2v1.2h-1.2zM463.2 872.9h1.2v1.2h-1.2zM492.7 830.9h1.2v1.2h-1.2zM488.0 841.3h1.2v1.2h-1.2zM471.2 801.5h1.2v1.2h-1.2zM453.3 846.0h1.2v1.2h-1.2zM421.6 889.7h1.2v1.2h-1.2zM480.5 833.0h1.2v1.2h-1.2zM428.8 850.5h1.2v1.2h-1.2zM474.9 830.6h1.2v1.2h-1.2zM437.4 871.5h1.2v1.2h-1.2zM445.8 860.1h1.2v1.2h-1.2zM445.5 838.6h1.2v1.2h-1.2zM460.4 818.7h1.2v1.2h-1.2zM434.8 831.3h1.2v1.2h-1.2zM450.0 820.0h1.2v1.2h-1.2zM432.9 879.6h1.2v1.2h-1.2zM458.6 843.5h1.2v1.2h-1.2zM452.6 833.3h1.2v1.2h-1.2zM456.1 813.5h1.2v1.2h-1.2zM424.9 836.5h1.2v1.2h-1.2zM453.6 844.9h1.2v1.2h-1.2zM446.7 842.9h1.2v1.2h-1.2zM459.9 839.9h1.2v1.2h-1.2zM446.9 876.5h1.2v1.2h-1.2zM421.9 843.0h1.2v1.2h-1.2zM463.3 816.2h1.2v1.2h-1.2zM429.2 824.2h1.2v1.2h-1.2zM452.5 886.6h1.2v1.2h-1.2zM457.8 876.5h1.2v1.2h-1.2zM461.7 809.0h1.2v1.2h-1.2zM423.1 829.6h1.2v1.2h-1.2zM459.8 819.2h1.2v1.2h-1.2zM436.4 858.4h1.2v1.2h-1.2zM479.2 884.1h1.2v1.2h-1.2zM461.7 864.0h1.2v1.2h-1.2zM415.0 853.8h1.2v1.2h-1.2zM440.5 879.2h1.2v1.2h-1.2zM402.4 872.7h1.2v1.2h-1.2zM437.7 795.9h1.2v1.2h-1.2zM458.8 871.5h1.2v1.2h-1.2zM465.7 822.4h1.2v1.2h-1.2zM442.9 888.1h1.2v1.2h-1.2zM439.7 834.2h1.2v1.2h-1.2zM449.5 817.6h1.2v1.2h-1.2zM430.8 830.6h1.2v1.2h-1.2zM453.5 807.4h1.2v1.2h-1.2zM472.9 789.1h1.2v1.2h-1.2zM450.4 874.4h1.2v1.2h-1.2zM466.7 829.4h1.2v1.2h-1.2zM426.7 829.3h1.2v1.2h-1.2zM433.8 830.6h1.2v1.2h-1.2zM454.1 797.2h1.2v1.2h-1.2zM495.2 824.2h1.2v1.2h-1.2zM470.6 804.4h1.2v1.2h-1.2zM487.7 802.7h1.2v1.2h-1.2zM447.3 835.2h1.2v1.2h-1.2zM476.4 820.1h1.2v1.2h-1.2zM405.1 865.4h1.2v1.2h-1.2zM459.0 828.8h1.2v1.2h-1.2zM476.3 837.8h1.2v1.2h-1.2zM458.1 848.8h1.2v1.2h-1.2zM474.8 809.2h1.2v1.2h-1.2zM456.3 839.9h1.2v1.2h-1.2zM434.4 782.1h1.2v1.2h-1.2zM428.5 807.9h1.2v1.2h-1.2zM451.3 818.2h1.2v1.2h-1.2zM483.1 847.5h1.2v1.2h-1.2zM462.0 812.7h1.2v1.2h-1.2zM433.6 836.9h1.2v1.2h-1.2zM432.9 838.3h1.2v1.2h-1.2zM429.6 869.3h1.2v1.2h-1.2zM441.6 824.2h1.2v1.2h-1.2zM444.5 832.2h1.2v1.2h-1.2zM435.0 852.0h1.2v1.2h-1.2zM447.0 855.4h1.2v1.2h-1.2zM408.4 851.4h1.2v1.2h-1.2zM484.8 865.9h1.2v1.2h-1.2zM452.8 851.3h1.2v1.2h-1.2zM484.0 796.6h1.2v1.2h-1.2zM453.9 853.5h1.2v1.2h-1.2zM442.1 779.4h1.2v1.2h-1.2zM449.0 872.0h1.2v1.2h-1.2zM452.3 809.1h1.2v1.2h-1.2zM430.9 812.7h1.2v1.2h-1.2zM437.8 809.6h1.2v1.2h-1.2zM493.4 815.7h1.2v1.2h-1.2zM469.9 875.5h1.2v1.2h-1.2zM434.5 810.5h1.2v1.2h-1.2zM459.8 808.4h1.2v1.2h-1.2zM426.8 840.2h1.2v1.2h-1.2zM481.2 893.0h1.2v1.2h-1.2zM422.7 814.4h1.2v1.2h-1.2zM468.9 858.3h1.2v1.2h-1.2zM447.9 845.0h1.2v1.2h-1.2zM448.1 806.0h1.2v1.2h-1.2zM427.6 807.1h1.2v1.2h-1.2zM441.0 829.2h1.2v1.2h-1.2zM428.8 855.4h1.2v1.2h-1.2zM426.4 797.6h1.2v1.2h-1.2zM458.5 806.6h1.2v1.2h-1.2zM508.2 832.1h1.2v1.2h-1.2zM439.0 864.2h1.2v1.2h-1.2zM471.5 826.9h1.2v1.2h-1.2zM447.0 873.1h1.2v1.2h-1.2zM430.0 795.5h1.2v1.2h-1.2zM479.8 820.0h1.2v1.2h-1.2zM462.7 845.0h1.2v1.2h-1.2zM474.9 823.4h1.2v1.2h-1.2zM450.1 880.9h1.2v1.2h-1.2zM450.8 839.6h1.2v1.2h-1.2zM427.5 858.2h1.2v1.2h-1.2zM440.8 880.3h1.2v1.2h-1.2zM488.0 848.3h1.2v1.2h-1.2zM456.8 874.0h1.2v1.2h-1.2zM483.0 838.0h1.2v1.2h-1.2zM466.8 873.1h1.2v1.2h-1.2zM468.7 830.1h1.2v1.2h-1.2zM441.0 885.2h1.2v1.2h-1.2zM474.8 816.0h1.2v1.2h-1.2zM475.5 817.2h1.2v1.2h-1.2zM446.6 817.6h1.2v1.2h-1.2zM488.1 785.7h1.2v1.2h-1.2zM435.8 836.4h1.2v1.2h-1.2zM447.3 823.5h1.2v1.2h-1.2zM444.8 851.5h1.2v1.2h-1.2zM427.0 891.3h1.2v1.2h-1.2zM436.4 872.5h1.2v1.2h-1.2zM434.5 872.7h1.2v1.2h-1.2zM403.3 841.3h1.2v1.2h-1.2zM477.3 850.8h1.2v1.2h-1.2zM447.6 849.4h1.2v1.2h-1.2zM512.4 814.1h1.2v1.2h-1.2z" fill="#2a2ad8"/>
<ellipse cx="420.3" cy="924.5" rx="7.5" ry="4.6" fill="#40b8f0"/>
<ellipse cx="420.3" cy="924.5" rx="5.6" ry="3.4" fill="#70e070"/>
<ellipse cx="420.3" cy="924.5" rx="3.4" ry="2" fill="#e0e040"/>
<ellipse cx="419.8" cy="924.5" rx="1.8" ry="1.1" fill="#d84a20"/>
<path d="M724.7 927.9h1.2v1.2h-1.2zM701.7 929.4h1.2v1.2h-1.2zM716.6 922.5h1.2v1.2h-1.2zM711.7 927.1h1.2v1.2h-1.2zM712.2 930.7h1.2v1.2h-1.2zM713.4 930.1h1.2v1.2h-1.2zM704.4 927.9h1.2v1.2h-1.2zM713.3 920.8h1.2v1.2h-1.2zM710.2 928.2h1.2v1.2h-1.2zM731.1 927.3h1.2v1.2h-1.2zM715.6 926.2h1.2v1.2h-1.2zM712.7 927.8h1.2v1.2h-1.2zM713.1 920.9h1.2v1.2h-1.2zM711.2 929.3h1.2v1.2h-1.2zM709.2 925.5h1.2v1.2h-1.2zM712.5 927.2h1.2v1.2h-1.2zM716.9 925.8h1.2v1.2h-1.2zM713.3 931.2h1.2v1.2h-1.2zM719.3 922.4h1.2v1.2h-1.2zM713.5 928.1h1.2v1.2h-1.2zM714.6 927.6h1.2v1.2h-1.2zM722.2 930.5h1.2v1.2h-1.2zM717.2 929.9h1.2v1.2h-1.2zM712.0 926.0h1.2v1.2h-1.2zM713.6 924.7h1.2v1.2h-1.2zM717.2 925.4h1.2v1.2h-1.2zM724.2 924.1h1.2v1.2h-1.2zM713.2 925.6h1.2v1.2h-1.2zM713.3 927.6h1.2v1.2h-1.2zM719.5 925.2h1.2v1.2h-1.2zM710.1 925.9h1.2v1.2h-1.2zM713.0 928.0h1.2v1.2h-1.2zM718.9 925.5h1.2v1.2h-1.2zM717.4 923.8h1.2v1.2h-1.2zM715.0 927.0h1.2v1.2h-1.2zM717.9 928.8h1.2v1.2h-1.2zM700.4 925.5h1.2v1.2h-1.2zM719.6 922.0h1.2v1.2h-1.2zM709.7 928.3h1.2v1.2h-1.2zM706.2 928.0h1.2v1.2h-1.2zM715.9 928.1h1.2v1.2h-1.2zM718.0 924.0h1.2v1.2h-1.2zM712.3 933.2h1.2v1.2h-1.2zM709.1 926.6h1.2v1.2h-1.2zM714.6 924.1h1.2v1.2h-1.2zM714.2 930.1h1.2v1.2h-1.2zM721.5 923.2h1.2v1.2h-1.2zM718.2 926.1h1.2v1.2h-1.2zM715.5 929.3h1.2v1.2h-1.2zM720.1 927.1h1.2v1.2h-1.2zM713.5 932.3h1.2v1.2h-1.2zM709.9 929.4h1.2v1.2h-1.2zM717.4 922.2h1.2v1.2h-1.2zM717.4 930.4h1.2v1.2h-1.2zM713.4 922.2h1.2v1.2h-1.2zM710.6 927.9h1.2v1.2h-1.2zM715.6 924.7h1.2v1.2h-1.2zM702.0 927.6h1.2v1.2h-1.2zM718.0 934.4h1.2v1.2h-1.2zM717.0 929.4h1.2v1.2h-1.2zM706.3 927.1h1.2v1.2h-1.2zM714.8 931.2h1.2v1.2h-1.2zM709.7 931.7h1.2v1.2h-1.2zM718.3 926.6h1.2v1.2h-1.2zM704.3 929.6h1.2v1.2h-1.2zM709.9 932.8h1.2v1.2h-1.2zM718.0 929.8h1.2v1.2h-1.2zM720.3 925.1h1.2v1.2h-1.2zM703.7 929.1h1.2v1.2h-1.2zM712.0 924.9h1.2v1.2h-1.2zM716.1 923.1h1.2v1.2h-1.2zM711.5 927.6h1.2v1.2h-1.2zM722.5 931.1h1.2v1.2h-1.2zM708.5 931.6h1.2v1.2h-1.2zM716.3 927.8h1.2v1.2h-1.2zM709.3 925.1h1.2v1.2h-1.2zM721.5 926.9h1.2v1.2h-1.2zM714.4 926.1h1.2v1.2h-1.2zM712.6 929.0h1.2v1.2h-1.2zM705.9 926.8h1.2v1.2h-1.2zM722.9 929.1h1.2v1.2h-1.2zM718.3 928.7h1.2v1.2h-1.2zM718.3 931.6h1.2v1.2h-1.2zM720.2 932.4h1.2v1.2h-1.2zM716.2 929.1h1.2v1.2h-1.2zM711.3 931.0h1.2v1.2h-1.2zM710.5 930.6h1.2v1.2h-1.2zM710.5 925.7h1.2v1.2h-1.2zM721.4 928.0h1.2v1.2h-1.2zM707.2 919.0h1.2v1.2h-1.2zM711.5 924.9h1.2v1.2h-1.2zM712.9 929.6h1.2v1.2h-1.2zM715.6 925.4h1.2v1.2h-1.2zM717.4 926.6h1.2v1.2h-1.2zM708.3 929.8h1.2v1.2h-1.2zM705.8 924.4h1.2v1.2h-1.2zM714.5 930.0h1.2v1.2h-1.2zM720.6 936.9h1.2v1.2h-1.2zM718.3 925.3h1.2v1.2h-1.2zM715.6 929.6h1.2v1.2h-1.2zM712.9 923.2h1.2v1.2h-1.2zM716.0 929.6h1.2v1.2h-1.2zM713.3 931.2h1.2v1.2h-1.2zM718.6 923.1h1.2v1.2h-1.2zM710.5 930.9h1.2v1.2h-1.2zM715.2 927.1h1.2v1.2h-1.2zM713.9 923.4h1.2v1.2h-1.2zM717.2 927.4h1.2v1.2h-1.2zM715.6 927.9h1.2v1.2h-1.2zM727.3 927.4h1.2v1.2h-1.2zM722.0 925.2h1.2v1.2h-1.2zM722.0 930.1h1.2v1.2h-1.2zM704.3 925.9h1.2v1.2h-1.2zM712.8 926.0h1.2v1.2h-1.2zM711.5 920.7h1.2v1.2h-1.2zM717.2 928.7h1.2v1.2h-1.2zM703.1 930.4h1.2v1.2h-1.2zM720.4 925.5h1.2v1.2h-1.2zM719.8 928.9h1.2v1.2h-1.2zM708.0 926.8h1.2v1.2h-1.2zM709.6 927.3h1.2v1.2h-1.2zM710.5 924.2h1.2v1.2h-1.2zM714.7 929.7h1.2v1.2h-1.2zM717.7 928.0h1.2v1.2h-1.2zM724.7 935.4h1.2v1.2h-1.2zM713.5 930.4h1.2v1.2h-1.2zM718.3 923.1h1.2v1.2h-1.2zM715.3 929.7h1.2v1.2h-1.2zM723.3 929.8h1.2v1.2h-1.2zM718.2 931.4h1.2v1.2h-1.2zM721.3 926.0h1.2v1.2h-1.2zM709.1 927.2h1.2v1.2h-1.2zM713.5 931.3h1.2v1.2h-1.2zM710.4 925.7h1.2v1.2h-1.2zM722.0 926.9h1.2v1.2h-1.2zM717.8 925.4h1.2v1.2h-1.2zM713.0 929.6h1.2v1.2h-1.2zM712.2 922.5h1.2v1.2h-1.2zM716.9 926.5h1.2v1.2h-1.2zM711.0 928.1h1.2v1.2h-1.2zM709.8 929.3h1.2v1.2h-1.2zM716.9 928.4h1.2v1.2h-1.2zM726.8 925.1h1.2v1.2h-1.2zM713.3 928.5h1.2v1.2h-1.2zM711.7 924.5h1.2v1.2h-1.2zM708.6 926.0h1.2v1.2h-1.2zM707.8 923.7h1.2v1.2h-1.2zM717.1 925.3h1.2v1.2h-1.2zM718.8 927.9h1.2v1.2h-1.2zM714.5 933.4h1.2v1.2h-1.2zM716.2 926.8h1.2v1.2h-1.2zM715.1 925.3h1.2v1.2h-1.2zM715.2 927.2h1.2v1.2h-1.2zM706.9 926.0h1.2v1.2h-1.2zM712.2 929.1h1.2v1.2h-1.2zM715.1 928.8h1.2v1.2h-1.2zM710.6 930.5h1.2v1.2h-1.2zM712.1 923.6h1.2v1.2h-1.2zM710.4 927.2h1.2v1.2h-1.2zM712.8 929.2h1.2v1.2h-1.2zM718.8 931.7h1.2v1.2h-1.2zM712.5 928.2h1.2v1.2h-1.2zM713.7 923.4h1.2v1.2h-1.2zM718.6 926.3h1.2v1.2h-1.2zM717.7 929.9h1.2v1.2h-1.2zM723.0 923.4h1.2v1.2h-1.2zM704.0 923.4h1.2v1.2h-1.2zM718.8 924.8h1.2v1.2h-1.2zM712.1 925.3h1.2v1.2h-1.2zM715.2 924.2h1.2v1.2h-1.2zM718.7 926.1h1.2v1.2h-1.2zM719.9 925.4h1.2v1.2h-1.2zM719.7 930.0h1.2v1.2h-1.2zM715.3 923.2h1.2v1.2h-1.2zM722.5 927.0h1.2v1.2h-1.2zM713.1 921.6h1.2v1.2h-1.2zM713.8 933.8h1.2v1.2h-1.2zM718.5 925.6h1.2v1.2h-1.2zM711.7 924.8h1.2v1.2h-1.2zM725.3 928.7h1.2v1.2h-1.2zM719.6 926.3h1.2v1.2h-1.2zM725.4 925.5h1.2v1.2h-1.2zM714.4 926.0h1.2v1.2h-1.2zM712.6 929.3h1.2v1.2h-1.2zM715.3 928.1h1.2v1.2h-1.2zM718.2 924.6h1.2v1.2h-1.2zM711.6 923.9h1.2v1.2h-1.2zM716.4 927.4h1.2v1.2h-1.2zM714.4 927.5h1.2v1.2h-1.2zM722.6 927.1h1.2v1.2h-1.2zM711.2 924.6h1.2v1.2h-1.2zM719.7 930.9h1.2v1.2h-1.2zM711.3 931.7h1.2v1.2h-1.2zM709.7 927.3h1.2v1.2h-1.2zM710.9 931.0h1.2v1.2h-1.2zM708.5 929.5h1.2v1.2h-1.2zM715.2 927.4h1.2v1.2h-1.2zM719.7 926.3h1.2v1.2h-1.2zM715.3 930.9h1.2v1.2h-1.2zM717.6 925.3h1.2v1.2h-1.2zM722.7 933.0h1.2v1.2h-1.2zM715.9 926.1h1.2v1.2h-1.2zM715.5 932.4h1.2v1.2h-1.2zM713.1 931.5h1.2v1.2h-1.2zM706.5 925.8h1.2v1.2h-1.2zM718.3 928.9h1.2v1.2h-1.2zM705.7 930.1h1.2v1.2h-1.2zM717.8 929.0h1.2v1.2h-1.2zM714.4 926.3h1.2v1.2h-1.2zM720.1 927.9h1.2v1.2h-1.2zM714.2 927.8h1.2v1.2h-1.2zM710.4 924.5h1.2v1.2h-1.2zM716.3 929.8h1.2v1.2h-1.2zM711.7 929.1h1.2v1.2h-1.2zM713.6 929.3h1.2v1.2h-1.2zM714.7 924.2h1.2v1.2h-1.2zM713.8 924.7h1.2v1.2h-1.2zM713.6 923.8h1.2v1.2h-1.2zM710.3 927.8h1.2v1.2h-1.2zM713.6 928.2h1.2v1.2h-1.2zM703.8 925.1h1.2v1.2h-1.2zM713.7 928.9h1.2v1.2h-1.2zM708.5 925.2h1.2v1.2h-1.2zM720.1 925.5h1.2v1.2h-1.2zM720.8 929.8h1.2v1.2h-1.2zM704.7 927.9h1.2v1.2h-1.2zM715.2 928.1h1.2v1.2h-1.2zM713.9 922.5h1.2v1.2h-1.2zM709.3 919.9h1.2v1.2h-1.2zM717.2 928.0h1.2v1.2h-1.2zM712.2 927.7h1.2v1.2h-1.2zM705.7 934.5h1.2v1.2h-1.2zM713.2 927.1h1.2v1.2h-1.2zM713.8 927.7h1.2v1.2h-1.2zM715.0 930.9h1.2v1.2h-1.2zM708.3 925.3h1.2v1.2h-1.2zM717.6 932.4h1.2v1.2h-1.2zM718.2 928.3h1.2v1.2h-1.2zM708.8 927.3h1.2v1.2h-1.2zM711.2 931.4h1.2v1.2h-1.2zM734.4 923.1h1.2v1.2h-1.2zM735.9 926.2h1.2v1.2h-1.2zM716.4 935.5h1.2v1.2h-1.2zM716.2 939.7h1.2v1.2h-1.2zM732.3 933.4h1.2v1.2h-1.2zM727.3 924.6h1.2v1.2h-1.2zM717.8 929.0h1.2v1.2h-1.2zM725.1 929.2h1.2v1.2h-1.2zM726.6 926.2h1.2v1.2h-1.2zM726.4 931.9h1.2v1.2h-1.2zM734.1 928.9h1.2v1.2h-1.2zM730.6 926.1h1.2v1.2h-1.2zM741.7 929.0h1.2v1.2h-1.2zM738.5 928.8h1.2v1.2h-1.2zM732.9 931.8h1.2v1.2h-1.2zM736.1 928.0h1.2v1.2h-1.2zM738.1 931.9h1.2v1.2h-1.2zM733.1 924.6h1.2v1.2h-1.2zM717.7 917.4h1.2v1.2h-1.2zM734.4 932.6h1.2v1.2h-1.2zM728.1 937.1h1.2v1.2h-1.2zM740.5 932.3h1.2v1.2h-1.2zM728.2 927.4h1.2v1.2h-1.2zM731.7 925.3h1.2v1.2h-1.2zM730.1 925.0h1.2v1.2h-1.2zM740.9 933.7h1.2v1.2h-1.2zM728.9 931.9h1.2v1.2h-1.2zM725.3 923.5h1.2v1.2h-1.2zM730.0 933.2h1.2v1.2h-1.2zM724.0 924.0h1.2v1.2h-1.2zM728.8 929.8h1.2v1.2h-1.2zM727.4 925.8h1.2v1.2h-1.2zM729.7 926.3h1.2v1.2h-1.2zM742.9 928.0h1.2v1.2h-1.2zM724.3 925.1h1.2v1.2h-1.2zM727.8 932.5h1.2v1.2h-1.2zM725.9 927.3h1.2v1.2h-1.2zM732.9 929.5h1.2v1.2h-1.2zM718.0 926.1h1.2v1.2h-1.2zM722.0 923.2h1.2v1.2h-1.2zM727.2 929.7h1.2v1.2h-1.2zM731.9 932.1h1.2v1.2h-1.2zM727.1 931.4h1.2v1.2h-1.2zM723.5 929.3h1.2v1.2h-1.2zM720.6 924.8h1.2v1.2h-1.2zM731.6 932.4h1.2v1.2h-1.2zM739.0 926.0h1.2v1.2h-1.2zM730.1 928.0h1.2v1.2h-1.2zM729.0 929.8h1.2v1.2h-1.2zM731.1 934.3h1.2v1.2h-1.2zM720.0 926.6h1.2v1.2h-1.2zM725.0 925.7h1.2v1.2h-1.2zM725.4 935.1h1.2v1.2h-1.2zM729.9 924.5h1.2v1.2h-1.2zM727.2 922.4h1.2v1.2h-1.2zM717.8 925.9h1.2v1.2h-1.2zM736.5 928.2h1.2v1.2h-1.2zM741.0 921.5h1.2v1.2h-1.2zM725.4 923.7h1.2v1.2h-1.2zM730.7 932.6h1.2v1.2h-1.2zM729.6 929.1h1.2v1.2h-1.2zM733.8 930.2h1.2v1.2h-1.2zM715.7 927.5h1.2v1.2h-1.2zM740.4 939.7h1.2v1.2h-1.2zM723.8 925.3h1.2v1.2h-1.2zM737.6 932.6h1.2v1.2h-1.2zM728.1 928.2h1.2v1.2h-1.2zM724.4 928.8h1.2v1.2h-1.2zM726.4 925.2h1.2v1.2h-1.2zM734.7 930.9h1.2v1.2h-1.2zM720.6 930.7h1.2v1.2h-1.2zM724.5 926.2h1.2v1.2h-1.2zM723.6 922.8h1.2v1.2h-1.2zM713.8 927.9h1.2v1.2h-1.2zM737.9 925.0h1.2v1.2h-1.2zM732.1 928.4h1.2v1.2h-1.2zM727.3 930.7h1.2v1.2h-1.2zM736.8 924.3h1.2v1.2h-1.2zM719.8 930.7h1.2v1.2h-1.2zM726.9 924.7h1.2v1.2h-1.2zM709.4 922.1h1.2v1.2h-1.2zM712.3 918.7h1.2v1.2h-1.2zM716.6 904.1h1.2v1.2h-1.2zM712.3 924.3h1.2v1.2h-1.2zM722.2 916.3h1.2v1.2h-1.2zM708.5 919.5h1.2v1.2h-1.2zM712.9 892.8h1.2v1.2h-1.2zM719.1 927.7h1.2v1.2h-1.2zM712.2 894.9h1.2v1.2h-1.2zM710.1 903.6h1.2v1.2h-1.2zM709.2 869.2h1.2v1.2h-1.2zM711.7 885.1h1.2v1.2h-1.2zM720.7 849.3h1.2v1.2h-1.2zM716.3 914.1h1.2v1.2h-1.2zM716.7 915.8h1.2v1.2h-1.2zM712.5 883.0h1.2v1.2h-1.2zM718.0 912.4h1.2v1.2h-1.2zM715.1 914.6h1.2v1.2h-1.2zM710.9 923.7h1.2v1.2h-1.2zM712.8 925.9h1.2v1.2h-1.2zM715.4 886.3h1.2v1.2h-1.2zM719.3 889.9h1.2v1.2h-1.2zM714.4 908.9h1.2v1.2h-1.2zM716.6 837.7h1.2v1.2h-1.2zM722.7 883.3h1.2v1.2h-1.2zM711.4 908.4h1.2v1.2h-1.2zM709.7 927.8h1.2v1.2h-1.2zM718.6 919.3h1.2v1.2h-1.2zM716.4 879.2h1.2v1.2h-1.2zM714.2 916.5h1.2v1.2h-1.2zM715.7 905.7h1.2v1.2h-1.2zM713.3 912.2h1.2v1.2h-1.2zM716.7 918.2h1.2v1.2h-1.2zM713.3 921.5h1.2v1.2h-1.2zM717.8 922.2h1.2v1.2h-1.2zM710.0 861.8h1.2v1.2h-1.2zM711.4 916.5h1.2v1.2h-1.2zM715.1 923.8h1.2v1.2h-1.2zM712.8 928.8h1.2v1.2h-1.2zM717.4 910.2h1.2v1.2h-1.2zM714.5 886.3h1.2v1.2h-1.2zM712.5 899.2h1.2v1.2h-1.2zM715.5 912.3h1.2v1.2h-1.2zM712.5 924.5h1.2v1.2h-1.2zM708.4 914.6h1.2v1.2h-1.2zM710.1 926.0h1.2v1.2h-1.2zM711.4 921.0h1.2v1.2h-1.2zM712.8 849.5h1.2v1.2h-1.2zM715.0 927.7h1.2v1.2h-1.2zM718.3 900.4h1.2v1.2h-1.2zM716.9 904.0h1.2v1.2h-1.2zM721.8 912.6h1.2v1.2h-1.2zM719.8 912.5h1.2v1.2h-1.2zM713.9 909.3h1.2v1.2h-1.2zM721.3 922.5h1.2v1.2h-1.2zM719.4 899.8h1.2v1.2h-1.2zM712.9 905.5h1.2v1.2h-1.2zM715.9 918.9h1.2v1.2h-1.2zM719.1 916.5h1.2v1.2h-1.2zM715.6 927.0h1.2v1.2h-1.2zM718.7 921.4h1.2v1.2h-1.2zM716.3 926.3h1.2v1.2h-1.2zM717.5 851.7h1.2v1.2h-1.2zM713.4 913.9h1.2v1.2h-1.2zM716.2 860.7h1.2v1.2h-1.2zM713.2 920.1h1.2v1.2h-1.2zM717.4 874.6h1.2v1.2h-1.2zM707.9 888.4h1.2v1.2h-1.2zM716.0 832.3h1.2v1.2h-1.2zM719.7 928.3h1.2v1.2h-1.2zM717.0 848.0h1.2v1.2h-1.2zM714.6 917.1h1.2v1.2h-1.2zM716.8 913.6h1.2v1.2h-1.2zM711.3 912.0h1.2v1.2h-1.2zM711.4 924.4h1.2v1.2h-1.2zM713.3 898.1h1.2v1.2h-1.2zM714.1 911.9h1.2v1.2h-1.2zM718.6 876.1h1.2v1.2h-1.2zM711.1 926.4h1.2v1.2h-1.2zM718.7 910.7h1.2v1.2h-1.2zM708.4 917.0h1.2v1.2h-1.2zM711.5 926.6h1.2v1.2h-1.2zM714.5 905.2h1.2v1.2h-1.2zM719.3 916.8h1.2v1.2h-1.2zM712.2 926.7h1.2v1.2h-1.2zM706.1 882.5h1.2v1.2h-1.2zM716.4 879.6h1.2v1.2h-1.2zM714.6 855.9h1.2v1.2h-1.2zM710.4 918.3h1.2v1.2h-1.2zM710.5 916.1h1.2v1.2h-1.2zM711.9 891.3h1.2v1.2h-1.2zM715.1 887.9h1.2v1.2h-1.2zM717.3 926.8h1.2v1.2h-1.2zM708.8 921.3h1.2v1.2h-1.2zM723.8 919.6h1.2v1.2h-1.2zM714.5 897.0h1.2v1.2h-1.2zM713.2 909.7h1.2v1.2h-1.2zM717.4 909.4h1.2v1.2h-1.2zM715.1 924.4h1.2v1.2h-1.2zM724.0 843.4h1.2v1.2h-1.2zM719.1 898.6h1.2v1.2h-1.2zM713.2 902.9h1.2v1.2h-1.2zM713.1 891.5h1.2v1.2h-1.2zM712.7 929.5h1.2v1.2h-1.2zM713.3 882.5h1.2v1.2h-1.2zM717.4 861.6h1.2v1.2h-1.2zM712.1 866.4h1.2v1.2h-1.2zM721.1 928.0h1.2v1.2h-1.2zM714.3 890.2h1.2v1.2h-1.2zM714.1 917.3h1.2v1.2h-1.2zM718.5 913.5h1.2v1.2h-1.2zM706.8 883.2h1.2v1.2h-1.2zM710.9 915.6h1.2v1.2h-1.2zM717.1 896.2h1.2v1.2h-1.2zM714.7 919.4h1.2v1.2h-1.2zM714.6 818.8h1.2v1.2h-1.2zM716.3 854.1h1.2v1.2h-1.2zM712.3 886.6h1.2v1.2h-1.2zM714.0 879.9h1.2v1.2h-1.2zM709.2 921.0h1.2v1.2h-1.2zM707.2 903.3h1.2v1.2h-1.2zM719.7 870.4h1.2v1.2h-1.2zM710.9 903.4h1.2v1.2h-1.2zM711.8 897.5h1.2v1.2h-1.2zM720.3 849.8h1.2v1.2h-1.2zM718.9 915.5h1.2v1.2h-1.2zM712.6 915.3h1.2v1.2h-1.2zM712.5 917.1h1.2v1.2h-1.2zM714.3 881.3h1.2v1.2h-1.2zM710.8 925.9h1.2v1.2h-1.2zM716.9 902.4h1.2v1.2h-1.2zM715.2 921.9h1.2v1.2h-1.2zM715.2 926.4h1.2v1.2h-1.2zM717.7 872.9h1.2v1.2h-1.2zM717.5 881.6h1.2v1.2h-1.2zM722.0 870.2h1.2v1.2h-1.2zM720.7 918.4h1.2v1.2h-1.2zM707.8 927.0h1.2v1.2h-1.2zM718.2 877.2h1.2v1.2h-1.2zM710.2 921.1h1.2v1.2h-1.2zM708.9 889.9h1.2v1.2h-1.2zM717.5 863.2h1.2v1.2h-1.2zM711.8 909.4h1.2v1.2h-1.2zM713.4 901.8h1.2v1.2h-1.2zM718.9 873.9h1.2v1.2h-1.2zM712.0 922.2h1.2v1.2h-1.2zM711.1 916.6h1.2v1.2h-1.2zM716.0 838.7h1.2v1.2h-1.2zM719.5 852.4h1.2v1.2h-1.2zM716.8 928.8h1.2v1.2h-1.2zM708.4 904.8h1.2v1.2h-1.2zM712.0 926.5h1.2v1.2h-1.2zM714.0 902.6h1.2v1.2h-1.2zM722.4 876.2h1.2v1.2h-1.2zM718.2 842.7h1.2v1.2h-1.2zM718.1 906.3h1.2v1.2h-1.2zM719.5 869.3h1.2v1.2h-1.2zM713.4 928.6h1.2v1.2h-1.2zM716.6 889.1h1.2v1.2h-1.2zM716.6 830.4h1.2v1.2h-1.2zM710.7 910.5h1.2v1.2h-1.2zM714.6 859.4h1.2v1.2h-1.2zM716.9 898.4h1.2v1.2h-1.2zM710.3 912.3h1.2v1.2h-1.2zM717.9 923.9h1.2v1.2h-1.2zM717.7 929.4h1.2v1.2h-1.2zM718.8 920.0h1.2v1.2h-1.2zM711.6 919.9h1.2v1.2h-1.2zM715.1 914.1h1.2v1.2h-1.2zM720.5 928.2h1.2v1.2h-1.2zM717.8 887.8h1.2v1.2h-1.2zM711.5 918.4h1.2v1.2h-1.2zM715.6 919.8h1.2v1.2h-1.2zM720.3 892.6h1.2v1.2h-1.2zM714.3 886.8h1.2v1.2h-1.2zM716.2 919.7h1.2v1.2h-1.2zM724.9 907.4h1.2v1.2h-1.2zM714.5 889.4h1.2v1.2h-1.2zM714.2 903.7h1.2v1.2h-1.2zM710.6 902.8h1.2v1.2h-1.2zM712.0 898.0h1.2v1.2h-1.2zM720.6 916.0h1.2v1.2h-1.2zM714.1 870.9h1.2v1.2h-1.2zM709.9 832.7h1.2v1.2h-1.2zM710.9 910.6h1.2v1.2h-1.2zM714.7 924.3h1.2v1.2h-1.2zM717.7 878.2h1.2v1.2h-1.2zM711.7 896.4h1.2v1.2h-1.2zM717.5 856.5h1.2v1.2h-1.2zM712.7 917.1h1.2v1.2h-1.2zM716.0 902.2h1.2v1.2h-1.2zM716.7 833.1h1.2v1.2h-1.2zM717.0 898.0h1.2v1.2h-1.2zM712.9 889.0h1.2v1.2h-1.2zM713.9 916.1h1.2v1.2h-1.2zM716.6 899.8h1.2v1.2h-1.2zM709.4 905.3h1.2v1.2h-1.2zM715.3 926.8h1.2v1.2h-1.2zM716.6 860.2h1.2v1.2h-1.2zM718.7 898.9h1.2v1.2h-1.2zM714.4 893.0h1.2v1.2h-1.2zM713.8 887.0h1.2v1.2h-1.2zM715.1 858.5h1.2v1.2h-1.2zM711.6 923.8h1.2v1.2h-1.2zM713.7 868.0h1.2v1.2h-1.2zM716.2 836.3h1.2v1.2h-1.2zM715.6 896.0h1.2v1.2h-1.2zM710.3 919.4h1.2v1.2h-1.2zM713.2 853.2h1.2v1.2h-1.2zM706.1 909.6h1.2v1.2h-1.2zM717.7 920.3h1.2v1.2h-1.2zM712.4 908.4h1.2v1.2h-1.2zM715.4 924.0h1.2v1.2h-1.2zM710.1 917.8h1.2v1.2h-1.2zM714.1 928.1h1.2v1.2h-1.2zM716.3 892.0h1.2v1.2h-1.2zM718.4 894.0h1.2v1.2h-1.2zM709.0 886.0h1.2v1.2h-1.2zM717.8 888.1h1.2v1.2h-1.2zM713.8 917.1h1.2v1.2h-1.2zM711.4 897.2h1.2v1.2h-1.2zM716.4 927.3h1.2v1.2h-1.2zM713.3 883.0h1.2v1.2h-1.2zM713.3 917.0h1.2v1.2h-1.2zM711.6 923.2h1.2v1.2h-1.2zM715.3 910.0h1.2v1.2h-1.2zM714.6 915.0h1.2v1.2h-1.2zM713.7 900.8h1.2v1.2h-1.2zM710.6 875.9h1.2v1.2h-1.2zM712.4 899.3h1.2v1.2h-1.2zM716.0 901.2h1.2v1.2h-1.2zM719.5 821.5h1.2v1.2h-1.2zM714.3 917.5h1.2v1.2h-1.2zM720.1 851.2h1.2v1.2h-1.2zM714.4 905.9h1.2v1.2h-1.2zM710.1 870.5h1.2v1.2h-1.2zM716.9 892.8h1.2v1.2h-1.2zM710.6 922.3h1.2v1.2h-1.2zM716.0 915.2h1.2v1.2h-1.2zM718.7 898.7h1.2v1.2h-1.2zM713.2 914.7h1.2v1.2h-1.2zM714.1 887.7h1.2v1.2h-1.2zM724.3 917.2h1.2v1.2h-1.2zM715.4 905.2h1.2v1.2h-1.2zM715.5 926.3h1.2v1.2h-1.2zM717.5 927.6h1.2v1.2h-1.2zM714.0 921.1h1.2v1.2h-1.2zM714.1 926.8h1.2v1.2h-1.2zM715.9 887.5h1.2v1.2h-1.2zM704.9 914.3h1.2v1.2h-1.2zM720.1 905.1h1.2v1.2h-1.2zM710.2 872.5h1.2v1.2h-1.2zM710.1 923.9h1.2v1.2h-1.2zM716.6 846.2h1.2v1.2h-1.2zM714.5 864.0h1.2v1.2h-1.2zM709.4 867.0h1.2v1.2h-1.2zM715.3 880.3h1.2v1.2h-1.2zM709.9 924.3h1.2v1.2h-1.2zM711.6 902.2h1.2v1.2h-1.2zM708.4 899.0h1.2v1.2h-1.2zM711.1 851.6h1.2v1.2h-1.2zM716.0 928.4h1.2v1.2h-1.2zM714.9 900.2h1.2v1.2h-1.2zM715.7 876.6h1.2v1.2h-1.2zM718.1 893.8h1.2v1.2h-1.2zM714.3 924.4h1.2v1.2h-1.2zM711.8 912.1h1.2v1.2h-1.2zM713.3 928.0h1.2v1.2h-1.2zM721.0 887.2h1.2v1.2h-1.2zM714.6 927.9h1.2v1.2h-1.2zM715.7 901.7h1.2v1.2h-1.2zM714.0 917.2h1.2v1.2h-1.2zM715.4 905.3h1.2v1.2h-1.2zM716.1 858.3h1.2v1.2h-1.2zM714.4 911.8h1.2v1.2h-1.2zM713.8 906.9h1.2v1.2h-1.2zM711.3 893.2h1.2v1.2h-1.2zM711.0 889.6h1.2v1.2h-1.2zM716.1 861.9h1.2v1.2h-1.2zM717.4 921.0h1.2v1.2h-1.2zM718.1 840.1h1.2v1.2h-1.2zM714.6 917.1h1.2v1.2h-1.2zM711.1 922.7h1.2v1.2h-1.2zM716.9 910.2h1.2v1.2h-1.2zM716.9 910.2h1.2v1.2h-1.2zM708.4 872.8h1.2v1.2h-1.2zM717.6 912.7h1.2v1.2h-1.2zM716.8 879.2h1.2v1.2h-1.2zM721.1 892.6h1.2v1.2h-1.2zM709.9 839.3h1.2v1.2h-1.2zM709.3 882.3h1.2v1.2h-1.2zM717.6 870.7h1.2v1.2h-1.2zM707.3 893.4h1.2v1.2h-1.2zM711.5 868.4h1.2v1.2h-1.2zM710.1 880.8h1.2v1.2h-1.2zM710.4 854.4h1.2v1.2h-1.2zM706.8 917.2h1.2v1.2h-1.2zM713.5 922.0h1.2v1.2h-1.2zM718.3 901.2h1.2v1.2h-1.2zM716.2 917.4h1.2v1.2h-1.2zM716.2 859.8h1.2v1.2h-1.2zM713.0 885.9h1.2v1.2h-1.2zM720.2 913.0h1.2v1.2h-1.2zM716.6 882.0h1.2v1.2h-1.2zM718.6 914.4h1.2v1.2h-1.2zM708.3 915.2h1.2v1.2h-1.2zM715.8 891.4h1.2v1.2h-1.2zM709.9 871.3h1.2v1.2h-1.2zM715.9 900.7h1.2v1.2h-1.2zM715.3 922.8h1.2v1.2h-1.2zM710.0 882.8h1.2v1.2h-1.2zM715.2 919.7h1.2v1.2h-1.2zM719.1 862.3h1.2v1.2h-1.2zM716.5 921.6h1.2v1.2h-1.2zM716.8 866.8h1.2v1.2h-1.2zM711.0 911.2h1.2v1.2h-1.2zM711.8 909.8h1.2v1.2h-1.2zM710.1 901.3h1.2v1.2h-1.2zM715.0 902.8h1.2v1.2h-1.2zM719.2 864.2h1.2v1.2h-1.2zM716.2 920.6h1.2v1.2h-1.2zM714.5 838.9h1.2v1.2h-1.2zM710.0 898.7h1.2v1.2h-1.2zM716.3 905.6h1.2v1.2h-1.2zM713.5 907.3h1.2v1.2h-1.2zM706.9 927.3h1.2v1.2h-1.2zM707.6 923.6h1.2v1.2h-1.2zM713.1 912.5h1.2v1.2h-1.2zM710.9 824.2h1.2v1.2h-1.2zM721.1 844.3h1.2v1.2h-1.2zM714.6 928.2h1.2v1.2h-1.2zM710.4 924.7h1.2v1.2h-1.2zM712.6 925.5h1.2v1.2h-1.2zM720.9 893.4h1.2v1.2h-1.2zM710.7 905.3h1.2v1.2h-1.2zM717.6 924.8h1.2v1.2h-1.2zM716.3 841.1h1.2v1.2h-1.2zM720.4 921.3h1.2v1.2h-1.2zM716.6 880.1h1.2v1.2h-1.2zM712.9 894.0h1.2v1.2h-1.2zM716.6 918.7h1.2v1.2h-1.2zM714.8 916.4h1.2v1.2h-1.2zM718.4 912.4h1.2v1.2h-1.2zM714.3 907.0h1.2v1.2h-1.2zM722.4 903.4h1.2v1.2h-1.2zM714.1 929.2h1.2v1.2h-1.2zM716.3 847.7h1.2v1.2h-1.2zM711.9 880.2h1.2v1.2h-1.2zM715.0 878.2h1.2v1.2h-1.2zM714.6 846.5h1.2v1.2h-1.2zM715.2 858.2h1.2v1.2h-1.2zM718.1 899.4h1.2v1.2h-1.2zM712.4 840.1h1.2v1.2h-1.2zM711.2 906.3h1.2v1.2h-1.2zM719.0 853.8h1.2v1.2h-1.2zM713.4 928.3h1.2v1.2h-1.2zM711.9 928.7h1.2v1.2h-1.2zM719.1 926.2h1.2v1.2h-1.2zM717.7 862.4h1.2v1.2h-1.2zM704.0 881.1h1.2v1.2h-1.2zM713.1 928.0h1.2v1.2h-1.2zM717.7 912.8h1.2v1.2h-1.2zM717.9 870.0h1.2v1.2h-1.2zM712.5 906.9h1.2v1.2h-1.2zM720.8 869.9h1.2v1.2h-1.2zM711.4 921.1h1.2v1.2h-1.2zM713.7 928.2h1.2v1.2h-1.2zM715.1 915.6h1.2v1.2h-1.2zM714.6 924.1h1.2v1.2h-1.2zM717.8 888.1h1.2v1.2h-1.2zM718.6 871.9h1.2v1.2h-1.2zM714.4 921.1h1.2v1.2h-1.2zM720.2 925.6h1.2v1.2h-1.2zM711.9 923.7h1.2v1.2h-1.2zM713.7 925.3h1.2v1.2h-1.2zM721.4 881.8h1.2v1.2h-1.2zM715.0 920.6h1.2v1.2h-1.2zM718.8 921.6h1.2v1.2h-1.2zM712.9 915.7h1.2v1.2h-1.2zM713.6 921.3h1.2v1.2h-1.2zM714.2 907.2h1.2v1.2h-1.2zM715.3 861.4h1.2v1.2h-1.2zM713.3 878.9h1.2v1.2h-1.2zM714.7 871.2h1.2v1.2h-1.2zM717.3 885.7h1.2v1.2h-1.2zM719.4 928.4h1.2v1.2h-1.2zM715.1 910.7h1.2v1.2h-1.2zM717.2 875.3h1.2v1.2h-1.2zM718.3 923.3h1.2v1.2h-1.2zM710.3 898.5h1.2v1.2h-1.2zM708.4 914.2h1.2v1.2h-1.2zM721.1 896.3h1.2v1.2h-1.2zM719.9 898.7h1.2v1.2h-1.2zM714.9 927.3h1.2v1.2h-1.2zM716.0 908.1h1.2v1.2h-1.2zM710.9 910.6h1.2v1.2h-1.2zM709.1 902.5h1.2v1.2h-1.2zM715.9 906.9h1.2v1.2h-1.2zM708.7 892.6h1.2v1.2h-1.2zM718.3 846.6h1.2v1.2h-1.2zM711.9 910.1h1.2v1.2h-1.2zM715.8 899.4h1.2v1.2h-1.2zM722.3 866.4h1.2v1.2h-1.2zM722.1 917.6h1.2v1.2h-1.2zM713.5 919.1h1.2v1.2h-1.2zM718.9 923.3h1.2v1.2h-1.2zM710.5 921.2h1.2v1.2h-1.2zM712.3 903.9h1.2v1.2h-1.2zM716.1 851.3h1.2v1.2h-1.2zM720.1 896.6h1.2v1.2h-1.2zM712.3 851.3h1.2v1.2h-1.2zM716.8 832.3h1.2v1.2h-1.2zM715.0 885.0h1.2v1.2h-1.2zM709.6 855.7h1.2v1.2h-1.2zM714.1 895.9h1.2v1.2h-1.2zM720.6 846.6h1.2v1.2h-1.2zM714.2 918.3h1.2v1.2h-1.2zM716.6 923.9h1.2v1.2h-1.2zM717.9 920.2h1.2v1.2h-1.2zM711.7 863.4h1.2v1.2h-1.2zM719.5 923.9h1.2v1.2h-1.2zM720.6 927.9h1.2v1.2h-1.2zM721.0 912.4h1.2v1.2h-1.2zM719.8 884.2h1.2v1.2h-1.2zM712.8 918.3h1.2v1.2h-1.2zM712.3 915.4h1.2v1.2h-1.2zM711.5 882.8h1.2v1.2h-1.2zM711.0 869.8h1.2v1.2h-1.2zM711.4 865.0h1.2v1.2h-1.2zM718.5 849.7h1.2v1.2h-1.2zM720.4 890.0h1.2v1.2h-1.2zM712.0 873.9h1.2v1.2h-1.2zM717.8 915.3h1.2v1.2h-1.2zM709.5 921.8h1.2v1.2h-1.2zM713.3 902.3h1.2v1.2h-1.2zM710.6 875.3h1.2v1.2h-1.2zM708.1 829.5h1.2v1.2h-1.2zM714.8 870.4h1.2v1.2h-1.2zM714.9 917.9h1.2v1.2h-1.2zM712.9 907.2h1.2v1.2h-1.2zM712.5 877.3h1.2v1.2h-1.2zM710.6 866.2h1.2v1.2h-1.2zM714.0 916.8h1.2v1.2h-1.2zM712.2 900.1h1.2v1.2h-1.2zM715.5 866.4h1.2v1.2h-1.2zM709.7 873.6h1.2v1.2h-1.2zM715.5 833.0h1.2v1.2h-1.2zM716.6 902.8h1.2v1.2h-1.2zM719.5 891.9h1.2v1.2h-1.2zM718.7 900.2h1.2v1.2h-1.2zM715.3 891.6h1.2v1.2h-1.2zM711.8 926.7h1.2v1.2h-1.2zM707.2 921.6h1.2v1.2h-1.2zM714.5 875.4h1.2v1.2h-1.2zM720.2 881.2h1.2v1.2h-1.2zM721.2 881.7h1.2v1.2h-1.2zM704.4 889.7h1.2v1.2h-1.2zM711.5 925.9h1.2v1.2h-1.2zM713.1 892.3h1.2v1.2h-1.2zM710.4 924.4h1.2v1.2h-1.2zM715.3 904.8h1.2v1.2h-1.2zM714.7 897.9h1.2v1.2h-1.2zM712.5 927.8h1.2v1.2h-1.2zM714.4 870.4h1.2v1.2h-1.2zM708.2 919.9h1.2v1.2h-1.2zM710.6 912.2h1.2v1.2h-1.2zM710.9 907.5h1.2v1.2h-1.2zM718.1 926.2h1.2v1.2h-1.2zM708.0 924.2h1.2v1.2h-1.2zM713.7 918.4h1.2v1.2h-1.2zM717.6 921.6h1.2v1.2h-1.2zM714.3 894.6h1.2v1.2h-1.2zM717.8 821.8h1.2v1.2h-1.2zM711.9 919.6h1.2v1.2h-1.2zM716.3 895.4h1.2v1.2h-1.2zM718.1 884.1h1.2v1.2h-1.2zM723.5 891.4h1.2v1.2h-1.2zM717.4 924.6h1.2v1.2h-1.2zM720.2 834.1h1.2v1.2h-1.2zM714.6 925.9h1.2v1.2h-1.2zM714.9 884.0h1.2v1.2h-1.2zM720.8 846.6h1.2v1.2h-1.2zM737.7 845.8h1.2v1.2h-1.2zM754.4 834.0h1.2v1.2h-1.2zM740.2 854.1h1.2v1.2h-1.2zM768.5 855.3h1.2v1.2h-1.2zM773.7 844.6h1.2v1.2h-1.2zM709.4 901.5h1.2v1.2h-1.2zM763.3 838.8h1.2v1.2h-1.2zM734.8 852.2h1.2v1.2h-1.2zM735.7 790.5h1.2v1.2h-1.2zM723.8 823.7h1.2v1.2h-1.2zM740.5 852.0h1.2v1.2h-1.2zM704.0 852.9h1.2v1.2h-1.2zM711.7 807.0h1.2v1.2h-1.2zM710.9 810.0h1.2v1.2h-1.2zM732.0 840.7h1.2v1.2h-1.2zM744.7 845.4h1.2v1.2h-1.2zM741.0 879.9h1.2v1.2h-1.2zM733.7 853.3h1.2v1.2h-1.2zM714.5 854.3h1.2v1.2h-1.2zM691.1 874.8h1.2v1.2h-1.2zM734.4 800.7h1.2v1.2h-1.2zM729.3 893.9h1.2v1.2h-1.2zM733.5 848.5h1.2v1.2h-1.2zM754.9 829.1h1.2v1.2h-1.2zM722.7 836.7h1.2v1.2h-1.2zM722.3 805.0h1.2v1.2h-1.2zM737.6 863.0h1.2v1.2h-1.2zM725.4 844.7h1.2v1.2h-1.2zM711.6 847.4h1.2v1.2h-1.2zM734.1 854.7h1.2v1.2h-1.2zM705.5 871.8h1.2v1.2h-1.2zM715.6 822.4h1.2v1.2h-1.2zM765.6 863.4h1.2v1.2h-1.2zM741.4 857.6h1.2v1.2h-1.2zM744.9 805.5h1.2v1.2h-1.2zM741.4 798.8h1.2v1.2h-1.2zM739.2 821.4h1.2v1.2h-1.2zM730.2 867.8h1.2v1.2h-1.2zM772.1 856.8h1.2v1.2h-1.2zM724.9 870.2h1.2v1.2h-1.2zM741.0 872.0h1.2v1.2h-1.2zM721.9 858.7h1.2v1.2h-1.2zM719.3 816.4h1.2v1.2h-1.2zM757.2 858.7h1.2v1.2h-1.2zM756.0 869.2h1.2v1.2h-1.2zM717.5 818.5h1.2v1.2h-1.2zM725.6 898.6h1.2v1.2h-1.2zM738.5 836.9h1.2v1.2h-1.2zM706.3 888.9h1.2v1.2h-1.2zM761.6 864.9h1.2v1.2h-1.2zM705.4 890.5h1.2v1.2h-1.2zM711.8 826.4h1.2v1.2h-1.2zM727.3 873.3h1.2v1.2h-1.2zM758.6 866.7h1.2v1.2h-1.2zM706.1 837.4h1.2v1.2h-1.2zM732.9 831.2h1.2v1.2h-1.2zM727.6 854.1h1.2v1.2h-1.2zM730.1 897.8h1.2v1.2h-1.2zM767.6 799.8h1.2v1.2h-1.2zM771.4 821.1h1.2v1.2h-1.2zM753.7 830.1h1.2v1.2h-1.2zM718.1 864.7h1.2v1.2h-1.2zM743.9 826.5h1.2v1.2h-1.2zM753.0 854.8h1.2v1.2h-1.2zM737.2 843.6h1.2v1.2h-1.2zM737.4 849.4h1.2v1.2h-1.2zM735.7 813.1h1.2v1.2h-1.2zM708.0 864.3h1.2v1.2h-1.2zM730.9 855.2h1.2v1.2h-1.2zM758.1 811.2h1.2v1.2h-1.2zM706.1 847.1h1.2v1.2h-1.2zM727.7 847.8h1.2v1.2h-1.2zM742.7 849.6h1.2v1.2h-1.2zM698.7 830.7h1.2v1.2h-1.2zM723.3 865.1h1.2v1.2h-1.2zM692.1 844.7h1.2v1.2h-1.2zM713.9 799.3h1.2v1.2h-1.2zM697.8 845.0h1.2v1.2h-1.2zM708.0 872.6h1.2v1.2h-1.2zM716.2 881.1h1.2v1.2h-1.2zM720.4 845.7h1.2v1.2h-1.2zM721.8 880.3h1.2v1.2h-1.2zM757.7 859.2h1.2v1.2h-1.2zM720.4 877.4h1.2v1.2h-1.2zM703.9 831.5h1.2v1.2h-1.2zM713.3 888.4h1.2v1.2h-1.2zM732.0 806.2h1.2v1.2h-1.2zM705.8 872.6h1.2v1.2h-1.2zM717.5 847.4h1.2v1.2h-1.2zM716.4 833.6h1.2v1.2h-1.2zM736.6 839.8h1.2v1.2h-1.2zM710.8 833.8h1.2v1.2h-1.2zM734.9 871.1h1.2v1.2h-1.2zM732.8 904.4h1.2v1.2h-1.2zM722.8 854.3h1.2v1.2h-1.2zM750.6 884.8h1.2v1.2h-1.2zM726.2 863.1h1.2v1.2h-1.2zM702.2 830.5h1.2v1.2h-1.2zM731.8 852.0h1.2v1.2h-1.2zM728.3 863.0h1.2v1.2h-1.2zM725.0 877.5h1.2v1.2h-1.2zM730.4 854.8h1.2v1.2h-1.2zM772.8 840.8h1.2v1.2h-1.2zM730.5 887.7h1.2v1.2h-1.2zM735.0 838.7h1.2v1.2h-1.2zM720.9 877.3h1.2v1.2h-1.2zM752.0 836.3h1.2v1.2h-1.2zM724.7 860.5h1.2v1.2h-1.2zM709.8 827.6h1.2v1.2h-1.2zM701.3 833.2h1.2v1.2h-1.2zM736.3 845.7h1.2v1.2h-1.2zM740.7 847.6h1.2v1.2h-1.2zM694.0 845.7h1.2v1.2h-1.2zM711.3 817.1h1.2v1.2h-1.2zM738.6 818.0h1.2v1.2h-1.2zM746.3 839.0h1.2v1.2h-1.2zM699.4 847.1h1.2v1.2h-1.2zM717.6 810.1h1.2v1.2h-1.2zM742.4 885.5h1.2v1.2h-1.2zM715.1 837.0h1.2v1.2h-1.2zM716.8 873.3h1.2v1.2h-1.2zM715.0 816.2h1.2v1.2h-1.2zM699.6 867.3h1.2v1.2h-1.2zM726.7 850.4h1.2v1.2h-1.2zM731.9 873.8h1.2v1.2h-1.2zM697.7 854.5h1.2v1.2h-1.2zM727.8 826.8h1.2v1.2h-1.2zM747.9 799.1h1.2v1.2h-1.2zM729.9 878.5h1.2v1.2h-1.2zM744.7 853.7h1.2v1.2h-1.2zM753.1 816.0h1.2v1.2h-1.2zM710.0 851.4h1.2v1.2h-1.2zM763.5 823.9h1.2v1.2h-1.2zM716.8 917.3h1.2v1.2h-1.2zM711.4 809.5h1.2v1.2h-1.2zM707.9 847.5h1.2v1.2h-1.2zM717.5 885.6h1.2v1.2h-1.2zM715.9 819.6h1.2v1.2h-1.2zM712.0 866.4h1.2v1.2h-1.2zM719.2 874.7h1.2v1.2h-1.2zM739.0 829.9h1.2v1.2h-1.2zM743.4 831.9h1.2v1.2h-1.2zM719.0 860.1h1.2v1.2h-1.2zM750.4 842.1h1.2v1.2h-1.2zM705.8 886.1h1.2v1.2h-1.2zM705.2 888.9h1.2v1.2h-1.2zM703.1 829.6h1.2v1.2h-1.2zM737.8 809.9h1.2v1.2h-1.2zM694.7 843.7h1.2v1.2h-1.2zM697.8 844.4h1.2v1.2h-1.2zM751.3 850.1h1.2v1.2h-1.2zM760.0 841.0h1.2v1.2h-1.2zM752.6 863.5h1.2v1.2h-1.2zM695.9 809.6h1.2v1.2h-1.2zM725.9 861.0h1.2v1.2h-1.2zM742.3 831.8h1.2v1.2h-1.2zM727.6 846.1h1.2v1.2h-1.2zM693.3 890.7h1.2v1.2h-1.2zM718.8 799.0h1.2v1.2h-1.2zM691.7 865.0h1.2v1.2h-1.2zM701.0 872.6h1.2v1.2h-1.2zM768.7 832.5h1.2v1.2h-1.2zM739.2 866.0h1.2v1.2h-1.2zM696.3 853.5h1.2v1.2h-1.2zM695.6 878.9h1.2v1.2h-1.2zM734.8 829.9h1.2v1.2h-1.2zM713.4 848.4h1.2v1.2h-1.2zM737.2 878.5h1.2v1.2h-1.2zM712.7 823.6h1.2v1.2h-1.2zM721.6 842.7h1.2v1.2h-1.2zM730.4 873.5h1.2v1.2h-1.2zM704.9 842.8h1.2v1.2h-1.2zM701.7 805.3h1.2v1.2h-1.2zM711.6 872.2h1.2v1.2h-1.2zM721.5 825.8h1.2v1.2h-1.2zM724.4 849.2h1.2v1.2h-1.2zM724.2 831.1h1.2v1.2h-1.2zM735.8 850.5h1.2v1.2h-1.2zM707.7 852.6h1.2v1.2h-1.2zM753.4 826.5h1.2v1.2h-1.2zM765.6 866.4h1.2v1.2h-1.2zM732.8 898.2h1.2v1.2h-1.2zM729.3 845.7h1.2v1.2h-1.2zM750.5 851.3h1.2v1.2h-1.2zM738.5 840.8h1.2v1.2h-1.2zM729.3 829.0h1.2v1.2h-1.2zM722.1 852.7h1.2v1.2h-1.2zM710.7 819.7h1.2v1.2h-1.2zM702.1 853.4h1.2v1.2h-1.2zM738.8 839.9h1.2v1.2h-1.2zM749.2 818.7h1.2v1.2h-1.2zM704.3 836.6h1.2v1.2h-1.2zM818.2 870.7h1.2v1.2h-1.2zM822.5 798.7h1.2v1.2h-1.2zM821.1 781.2h1.2v1.2h-1.2zM815.7 837.9h1.2v1.2h-1.2zM834.4 856.0h1.2v1.2h-1.2zM782.9 818.4h1.2v1.2h-1.2zM848.9 808.6h1.2v1.2h-1.2zM776.8 882.5h1.2v1.2h-1.2zM809.6 852.7h1.2v1.2h-1.2zM761.6 851.5h1.2v1.2h-1.2zM814.6 837.0h1.2v1.2h-1.2zM800.6 830.7h1.2v1.2h-1.2zM780.9 882.7h1.2v1.2h-1.2zM769.6 865.5h1.2v1.2h-1.2zM782.6 890.5h1.2v1.2h-1.2zM797.1 827.8h1.2v1.2h-1.2zM857.5 814.3h1.2v1.2h-1.2zM827.3 799.8h1.2v1.2h-1.2zM816.0 824.4h1.2v1.2h-1.2zM835.4 820.7h1.2v1.2h-1.2zM780.8 839.1h1.2v1.2h-1.2zM776.5 893.9h1.2v1.2h-1.2zM827.7 820.8h1.2v1.2h-1.2zM754.3 870.2h1.2v1.2h-1.2zM835.6 819.6h1.2v1.2h-1.2zM827.3 827.0h1.2v1.2h-1.2zM769.4 842.4h1.2v1.2h-1.2zM746.4 852.1h1.2v1.2h-1.2zM820.3 847.6h1.2v1.2h-1.2zM858.1 818.4h1.2v1.2h-1.2zM770.7 867.0h1.2v1.2h-1.2zM787.5 841.1h1.2v1.2h-1.2zM823.8 832.9h1.2v1.2h-1.2zM804.1 866.8h1.2v1.2h-1.2zM785.6 877.0h1.2v1.2h-1.2zM879.6 841.8h1.2v1.2h-1.2zM849.9 821.9h1.2v1.2h-1.2zM812.5 830.3h1.2v1.2h-1.2zM752.4 826.9h1.2v1.2h-1.2zM826.9 819.6h1.2v1.2h-1.2zM779.7 828.8h1.2v1.2h-1.2zM820.3 836.3h1.2v1.2h-1.2zM825.5 777.0h1.2v1.2h-1.2zM822.7 789.1h1.2v1.2h-1.2zM852.2 815.2h1.2v1.2h-1.2zM766.2 897.2h1.2v1.2h-1.2zM784.8 888.2h1.2v1.2h-1.2zM864.1 816.7h1.2v1.2h-1.2zM799.9 818.0h1.2v1.2h-1.2zM804.0 856.1h1.2v1.2h-1.2zM785.6 863.0h1.2v1.2h-1.2zM835.6 841.9h1.2v1.2h-1.2zM791.7 872.8h1.2v1.2h-1.2zM749.0 855.9h1.2v1.2h-1.2zM788.7 860.1h1.2v1.2h-1.2zM813.3 819.2h1.2v1.2h-1.2zM751.6 887.6h1.2v1.2h-1.2zM825.2 829.6h1.2v1.2h-1.2zM818.4 832.1h1.2v1.2h-1.2zM788.6 889.0h1.2v1.2h-1.2zM768.0 870.8h1.2v1.2h-1.2zM773.5 856.4h1.2v1.2h-1.2zM821.5 820.1h1.2v1.2h-1.2zM734.4 856.6h1.2v1.2h-1.2zM811.9 809.9h1.2v1.2h-1.2zM782.0 845.5h1.2v1.2h-1.2zM802.0 864.1h1.2v1.2h-1.2zM820.1 906.0h1.2v1.2h-1.2zM757.1 882.9h1.2v1.2h-1.2zM807.2 851.7h1.2v1.2h-1.2zM859.4 824.7h1.2v1.2h-1.2zM756.1 850.8h1.2v1.2h-1.2zM748.8 900.9h1.2v1.2h-1.2zM813.5 846.3h1.2v1.2h-1.2zM851.1 821.2h1.2v1.2h-1.2zM719.8 908.7h1.2v1.2h-1.2zM805.8 872.5h1.2v1.2h-1.2zM814.4 880.6h1.2v1.2h-1.2zM826.0 793.4h1.2v1.2h-1.2zM854.1 843.5h1.2v1.2h-1.2zM824.6 827.9h1.2v1.2h-1.2zM835.6 794.4h1.2v1.2h-1.2zM769.8 873.8h1.2v1.2h-1.2zM850.1 790.3h1.2v1.2h-1.2zM752.3 879.9h1.2v1.2h-1.2zM779.9 854.4h1.2v1.2h-1.2zM712.9 864.9h1.2v1.2h-1.2zM760.6 849.7h1.2v1.2h-1.2zM760.2 858.0h1.2v1.2h-1.2zM872.2 793.7h1.2v1.2h-1.2zM773.8 865.3h1.2v1.2h-1.2zM803.7 828.1h1.2v1.2h-1.2zM880.1 838.1h1.2v1.2h-1.2zM830.2 839.4h1.2v1.2h-1.2zM833.8 813.7h1.2v1.2h-1.2zM793.4 880.3h1.2v1.2h-1.2zM798.9 848.8h1.2v1.2h-1.2zM791.2 843.3h1.2v1.2h-1.2zM833.4 814.6h1.2v1.2h-1.2zM751.2 877.6h1.2v1.2h-1.2zM742.2 889.8h1.2v1.2h-1.2zM790.0 807.4h1.2v1.2h-1.2zM800.5 862.8h1.2v1.2h-1.2zM836.5 862.0h1.2v1.2h-1.2zM782.5 879.2h1.2v1.2h-1.2zM834.7 843.0h1.2v1.2h-1.2zM755.2 874.4h1.2v1.2h-1.2zM853.5 782.7h1.2v1.2h-1.2zM823.7 868.6h1.2v1.2h-1.2zM823.0 787.8h1.2v1.2h-1.2zM845.2 857.0h1.2v1.2h-1.2zM868.7 800.8h1.2v1.2h-1.2zM749.2 871.1h1.2v1.2h-1.2zM832.6 838.4h1.2v1.2h-1.2zM790.4 867.3h1.2v1.2h-1.2zM797.8 836.5h1.2v1.2h-1.2zM787.6 883.6h1.2v1.2h-1.2zM844.3 793.0h1.2v1.2h-1.2zM852.4 848.3h1.2v1.2h-1.2zM763.0 885.9h1.2v1.2h-1.2zM844.5 832.8h1.2v1.2h-1.2zM741.6 939.5h1.2v1.2h-1.2zM787.9 867.8h1.2v1.2h-1.2zM792.2 891.8h1.2v1.2h-1.2zM805.9 869.6h1.2v1.2h-1.2zM787.7 892.2h1.2v1.2h-1.2zM786.9 843.9h1.2v1.2h-1.2zM821.6 841.6h1.2v1.2h-1.2zM807.1 830.5h1.2v1.2h-1.2zM807.7 837.0h1.2v1.2h-1.2zM830.7 809.8h1.2v1.2h-1.2zM823.6 818.9h1.2v1.2h-1.2zM856.4 793.4h1.2v1.2h-1.2zM798.1 868.8h1.2v1.2h-1.2zM868.0 819.0h1.2v1.2h-1.2zM867.3 801.8h1.2v1.2h-1.2zM876.2 792.9h1.2v1.2h-1.2zM806.1 826.4h1.2v1.2h-1.2zM862.3 798.5h1.2v1.2h-1.2zM778.7 898.4h1.2v1.2h-1.2zM814.4 866.5h1.2v1.2h-1.2zM768.1 884.9h1.2v1.2h-1.2zM838.2 821.6h1.2v1.2h-1.2zM829.6 854.0h1.2v1.2h-1.2zM817.3 824.9h1.2v1.2h-1.2zM814.3 840.6h1.2v1.2h-1.2zM786.4 845.8h1.2v1.2h-1.2zM781.4 882.5h1.2v1.2h-1.2zM851.2 819.2h1.2v1.2h-1.2zM769.5 918.9h1.2v1.2h-1.2zM768.3 860.7h1.2v1.2h-1.2zM795.3 858.0h1.2v1.2h-1.2zM790.1 885.8h1.2v1.2h-1.2zM735.9 873.3h1.2v1.2h-1.2zM792.9 842.1h1.2v1.2h-1.2zM788.9 882.8h1.2v1.2h-1.2zM803.9 840.4h1.2v1.2h-1.2zM747.3 861.9h1.2v1.2h-1.2zM780.8 878.2h1.2v1.2h-1.2zM826.3 841.4h1.2v1.2h-1.2zM816.4 851.9h1.2v1.2h-1.2zM777.1 944.9h1.2v1.2h-1.2zM788.0 847.5h1.2v1.2h-1.2zM847.4 819.1h1.2v1.2h-1.2zM864.4 822.1h1.2v1.2h-1.2zM813.1 838.7h1.2v1.2h-1.2zM783.1 863.0h1.2v1.2h-1.2zM831.6 835.5h1.2v1.2h-1.2zM818.4 856.5h1.2v1.2h-1.2zM820.2 842.2h1.2v1.2h-1.2zM768.3 863.1h1.2v1.2h-1.2zM796.4 846.0h1.2v1.2h-1.2zM759.3 837.5h1.2v1.2h-1.2zM734.4 914.9h1.2v1.2h-1.2zM839.4 814.1h1.2v1.2h-1.2zM848.8 798.2h1.2v1.2h-1.2zM806.0 810.1h1.2v1.2h-1.2zM821.8 793.2h1.2v1.2h-1.2zM824.7 861.2h1.2v1.2h-1.2zM751.2 888.9h1.2v1.2h-1.2zM801.6 841.7h1.2v1.2h-1.2zM824.3 792.2h1.2v1.2h-1.2zM793.9 863.5h1.2v1.2h-1.2zM781.1 858.8h1.2v1.2h-1.2zM785.9 865.2h1.2v1.2h-1.2zM804.7 791.9h1.2v1.2h-1.2zM858.7 828.1h1.2v1.2h-1.2zM751.3 859.1h1.2v1.2h-1.2zM786.0 846.3h1.2v1.2h-1.2zM813.6 817.9h1.2v1.2h-1.2zM766.5 855.7h1.2v1.2h-1.2zM811.5 874.3h1.2v1.2h-1.2zM808.4 819.3h1.2v1.2h-1.2zM817.0 837.9h1.2v1.2h-1.2zM762.1 866.7h1.2v1.2h-1.2zM821.1 877.1h1.2v1.2h-1.2zM749.5 884.5h1.2v1.2h-1.2zM807.2 825.3h1.2v1.2h-1.2zM816.4 844.9h1.2v1.2h-1.2zM810.5 832.9h1.2v1.2h-1.2zM822.2 823.1h1.2v1.2h-1.2zM808.6 830.5h1.2v1.2h-1.2zM838.8 810.3h1.2v1.2h-1.2zM879.7 792.8h1.2v1.2h-1.2zM780.1 892.3h1.2v1.2h-1.2zM760.6 876.9h1.2v1.2h-1.2zM747.3 871.1h1.2v1.2h-1.2zM853.3 841.8h1.2v1.2h-1.2zM847.2 811.6h1.2v1.2h-1.2zM774.4 866.7h1.2v1.2h-1.2zM771.9 915.5h1.2v1.2h-1.2zM791.1 799.9h1.2v1.2h-1.2zM868.5 793.2h1.2v1.2h-1.2zM803.2 787.7h1.2v1.2h-1.2zM816.1 835.4h1.2v1.2h-1.2zM868.1 795.1h1.2v1.2h-1.2zM805.7 835.7h1.2v1.2h-1.2zM845.9 845.0h1.2v1.2h-1.2zM832.2 820.5h1.2v1.2h-1.2zM834.6 794.5h1.2v1.2h-1.2zM792.0 875.6h1.2v1.2h-1.2zM858.8 781.0h1.2v1.2h-1.2zM817.6 795.8h1.2v1.2h-1.2zM759.3 914.5h1.2v1.2h-1.2zM802.9 843.3h1.2v1.2h-1.2zM739.4 846.1h1.2v1.2h-1.2zM799.4 812.2h1.2v1.2h-1.2zM810.5 875.9h1.2v1.2h-1.2zM749.4 875.7h1.2v1.2h-1.2zM787.5 793.2h1.2v1.2h-1.2zM802.1 876.3h1.2v1.2h-1.2zM755.5 833.2h1.2v1.2h-1.2zM797.1 882.7h1.2v1.2h-1.2zM759.4 877.1h1.2v1.2h-1.2zM810.8 833.0h1.2v1.2h-1.2zM790.8 831.8h1.2v1.2h-1.2zM763.1 847.0h1.2v1.2h-1.2zM749.4 875.5h1.2v1.2h-1.2zM781.5 849.3h1.2v1.2h-1.2zM776.4 843.3h1.2v1.2h-1.2zM816.5 811.2h1.2v1.2h-1.2zM846.8 800.3h1.2v1.2h-1.2zM789.9 883.4h1.2v1.2h-1.2zM871.4 824.8h1.2v1.2h-1.2zM795.0 837.2h1.2v1.2h-1.2zM777.0 865.1h1.2v1.2h-1.2zM799.2 820.0h1.2v1.2h-1.2zM746.1 894.0h1.2v1.2h-1.2zM772.0 875.6h1.2v1.2h-1.2zM759.7 890.9h1.2v1.2h-1.2zM785.6 887.4h1.2v1.2h-1.2zM803.1 834.5h1.2v1.2h-1.2zM814.5 834.2h1.2v1.2h-1.2zM745.5 919.0h1.2v1.2h-1.2zM835.3 822.2h1.2v1.2h-1.2zM756.8 869.4h1.2v1.2h-1.2zM820.9 848.9h1.2v1.2h-1.2zM744.1 856.5h1.2v1.2h-1.2zM741.8 891.9h1.2v1.2h-1.2zM848.8 859.0h1.2v1.2h-1.2zM773.5 855.2h1.2v1.2h-1.2zM766.7 893.1h1.2v1.2h-1.2zM767.5 885.6h1.2v1.2h-1.2zM771.3 813.3h1.2v1.2h-1.2zM793.2 859.5h1.2v1.2h-1.2zM876.0 786.0h1.2v1.2h-1.2zM863.3 849.4h1.2v1.2h-1.2zM817.4 829.7h1.2v1.2h-1.2zM796.2 866.0h1.2v1.2h-1.2zM804.5 875.4h1.2v1.2h-1.2zM745.5 865.9h1.2v1.2h-1.2zM760.3 894.9h1.2v1.2h-1.2zM811.3 858.1h1.2v1.2h-1.2zM792.2 865.8h1.2v1.2h-1.2zM851.5 805.7h1.2v1.2h-1.2zM821.4 861.4h1.2v1.2h-1.2zM806.8 849.2h1.2v1.2h-1.2zM784.0 857.3h1.2v1.2h-1.2zM853.9 796.5h1.2v1.2h-1.2zM768.1 899.0h1.2v1.2h-1.2zM800.0 816.0h1.2v1.2h-1.2zM791.0 903.8h1.2v1.2h-1.2zM816.5 843.2h1.2v1.2h-1.2zM781.1 794.1h1.2v1.2h-1.2zM769.2 855.7h1.2v1.2h-1.2zM811.2 907.7h1.2v1.2h-1.2zM825.5 846.1h1.2v1.2h-1.2zM816.0 778.2h1.2v1.2h-1.2zM813.9 829.4h1.2v1.2h-1.2zM815.5 868.7h1.2v1.2h-1.2zM783.3 861.7h1.2v1.2h-1.2zM769.2 872.5h1.2v1.2h-1.2zM724.1 895.0h1.2v1.2h-1.2zM811.2 809.2h1.2v1.2h-1.2zM849.0 853.0h1.2v1.2h-1.2zM828.7 825.2h1.2v1.2h-1.2zM787.0 858.9h1.2v1.2h-1.2zM811.0 862.3h1.2v1.2h-1.2zM785.5 873.0h1.2v1.2h-1.2zM825.5 801.9h1.2v1.2h-1.2zM767.5 861.8h1.2v1.2h-1.2zM776.2 856.1h1.2v1.2h-1.2zM753.2 888.3h1.2v1.2h-1.2zM860.6 814.2h1.2v1.2h-1.2zM735.4 848.3h1.2v1.2h-1.2zM786.5 842.6h1.2v1.2h-1.2zM806.1 872.4h1.2v1.2h-1.2zM862.1 821.5h1.2v1.2h-1.2zM811.5 831.0h1.2v1.2h-1.2zM814.8 824.6h1.2v1.2h-1.2zM785.3 854.6h1.2v1.2h-1.2zM842.0 787.9h1.2v1.2h-1.2zM771.3 855.1h1.2v1.2h-1.2zM772.4 829.3h1.2v1.2h-1.2zM786.7 834.9h1.2v1.2h-1.2zM860.8 811.3h1.2v1.2h-1.2zM851.5 834.3h1.2v1.2h-1.2zM860.5 839.7h1.2v1.2h-1.2zM757.0 898.3h1.2v1.2h-1.2zM790.7 816.3h1.2v1.2h-1.2zM751.7 852.1h1.2v1.2h-1.2zM855.4 803.6h1.2v1.2h-1.2zM768.8 810.9h1.2v1.2h-1.2zM818.8 867.4h1.2v1.2h-1.2zM780.7 852.4h1.2v1.2h-1.2zM807.8 845.2h1.2v1.2h-1.2zM753.2 844.0h1.2v1.2h-1.2zM787.7 863.6h1.2v1.2h-1.2zM848.9 844.9h1.2v1.2h-1.2zM807.7 885.4h1.2v1.2h-1.2zM812.3 848.3h1.2v1.2h-1.2zM777.2 881.3h1.2v1.2h-1.2zM758.5 907.2h1.2v1.2h-1.2zM784.9 901.5h1.2v1.2h-1.2zM805.0 849.0h1.2v1.2h-1.2zM778.0 905.0h1.2v1.2h-1.2zM849.5 800.0h1.2v1.2h-1.2zM773.6 831.1h1.2v1.2h-1.2zM768.7 874.7h1.2v1.2h-1.2zM832.7 778.9h1.2v1.2h-1.2zM754.9 893.3h1.2v1.2h-1.2zM756.2 894.8h1.2v1.2h-1.2zM759.1 894.6h1.2v1.2h-1.2zM789.3 892.7h1.2v1.2h-1.2zM810.0 833.6h1.2v1.2h-1.2zM778.7 873.0h1.2v1.2h-1.2zM839.1 812.1h1.2v1.2h-1.2zM785.2 874.5h1.2v1.2h-1.2zM766.7 856.9h1.2v1.2h-1.2zM806.3 856.2h1.2v1.2h-1.2zM832.2 817.7h1.2v1.2h-1.2zM745.5 878.1h1.2v1.2h-1.2zM786.1 843.2h1.2v1.2h-1.2zM805.5 838.2h1.2v1.2h-1.2zM847.5 784.5h1.2v1.2h-1.2zM847.2 869.1h1.2v1.2h-1.2zM792.7 851.9h1.2v1.2h-1.2zM745.8 876.8h1.2v1.2h-1.2zM803.8 866.7h1.2v1.2h-1.2zM772.2 877.0h1.2v1.2h-1.2zM737.1 842.8h1.2v1.2h-1.2zM807.9 860.0h1.2v1.2h-1.2zM799.6 851.9h1.2v1.2h-1.2zM797.3 791.4h1.2v1.2h-1.2zM786.8 850.1h1.2v1.2h-1.2zM824.6 835.6h1.2v1.2h-1.2zM765.8 882.9h1.2v1.2h-1.2zM805.6 871.4h1.2v1.2h-1.2zM793.2 855.5h1.2v1.2h-1.2zM731.3 877.7h1.2v1.2h-1.2zM820.2 856.0h1.2v1.2h-1.2zM769.9 930.6h1.2v1.2h-1.2zM867.7 794.3h1.2v1.2h-1.2zM816.2 852.2h1.2v1.2h-1.2zM814.2 851.1h1.2v1.2h-1.2zM724.8 861.8h1.2v1.2h-1.2zM792.9 863.6h1.2v1.2h-1.2zM781.8 872.3h1.2v1.2h-1.2zM758.8 906.2h1.2v1.2h-1.2zM730.8 899.3h1.2v1.2h-1.2zM828.2 835.6h1.2v1.2h-1.2zM801.3 895.9h1.2v1.2h-1.2zM751.2 888.9h1.2v1.2h-1.2zM786.8 826.9h1.2v1.2h-1.2zM823.2 867.7h1.2v1.2h-1.2zM764.4 785.4h1.2v1.2h-1.2zM853.4 798.7h1.2v1.2h-1.2zM812.1 871.8h1.2v1.2h-1.2zM824.4 838.2h1.2v1.2h-1.2zM755.3 885.6h1.2v1.2h-1.2zM763.9 804.4h1.2v1.2h-1.2zM811.7 859.6h1.2v1.2h-1.2zM831.6 818.2h1.2v1.2h-1.2zM774.4 883.6h1.2v1.2h-1.2zM751.8 871.9h1.2v1.2h-1.2zM737.8 853.5h1.2v1.2h-1.2zM770.4 876.8h1.2v1.2h-1.2zM796.6 825.5h1.2v1.2h-1.2zM840.5 823.6h1.2v1.2h-1.2zM825.7 806.5h1.2v1.2h-1.2zM869.3 823.0h1.2v1.2h-1.2zM769.0 884.4h1.2v1.2h-1.2zM813.4 834.4h1.2v1.2h-1.2zM830.6 832.7h1.2v1.2h-1.2zM803.9 856.0h1.2v1.2h-1.2zM788.1 869.6h1.2v1.2h-1.2zM840.0 803.5h1.2v1.2h-1.2zM800.7 851.9h1.2v1.2h-1.2zM814.2 853.4h1.2v1.2h-1.2zM844.1 847.4h1.2v1.2h-1.2zM853.4 814.9h1.2v1.2h-1.2zM746.6 908.7h1.2v1.2h-1.2zM773.5 874.2h1.2v1.2h-1.2zM817.9 836.7h1.2v1.2h-1.2zM774.4 892.8h1.2v1.2h-1.2zM828.1 841.0h1.2v1.2h-1.2zM869.8 842.9h1.2v1.2h-1.2zM810.7 868.9h1.2v1.2h-1.2zM784.0 903.4h1.2v1.2h-1.2zM802.9 813.7h1.2v1.2h-1.2zM737.1 871.6h1.2v1.2h-1.2zM749.4 852.8h1.2v1.2h-1.2zM805.8 839.8h1.2v1.2h-1.2zM820.1 860.2h1.2v1.2h-1.2zM814.9 872.5h1.2v1.2h-1.2zM793.5 848.0h1.2v1.2h-1.2zM733.4 867.8h1.2v1.2h-1.2zM800.0 832.9h1.2v1.2h-1.2zM810.4 824.0h1.2v1.2h-1.2zM807.0 828.6h1.2v1.2h-1.2zM781.2 909.6h1.2v1.2h-1.2zM782.1 882.5h1.2v1.2h-1.2zM791.4 821.7h1.2v1.2h-1.2zM812.6 851.6h1.2v1.2h-1.2zM859.6 815.1h1.2v1.2h-1.2zM773.6 887.9h1.2v1.2h-1.2zM800.7 859.1h1.2v1.2h-1.2zM819.6 834.1h1.2v1.2h-1.2zM777.4 923.0h1.2v1.2h-1.2zM827.1 815.4h1.2v1.2h-1.2zM784.2 841.6h1.2v1.2h-1.2zM747.7 906.9h1.2v1.2h-1.2zM807.8 877.0h1.2v1.2h-1.2zM765.8 881.3h1.2v1.2h-1.2zM786.1 876.7h1.2v1.2h-1.2zM828.2 832.4h1.2v1.2h-1.2zM811.4 859.2h1.2v1.2h-1.2zM811.7 879.5h1.2v1.2h-1.2zM780.3 887.7h1.2v1.2h-1.2zM797.9 812.0h1.2v1.2h-1.2zM786.8 878.0h1.2v1.2h-1.2zM842.2 826.5h1.2v1.2h-1.2zM795.3 857.8h1.2v1.2h-1.2zM831.1 834.2h1.2v1.2h-1.2zM811.8 842.0h1.2v1.2h-1.2zM862.1 845.2h1.2v1.2h-1.2zM829.7 830.3h1.2v1.2h-1.2zM880.0 778.6h1.2v1.2h-1.2zM759.7 825.1h1.2v1.2h-1.2zM801.0 852.2h1.2v1.2h-1.2zM800.0 874.4h1.2v1.2h-1.2zM773.2 879.1h1.2v1.2h-1.2zM781.1 833.3h1.2v1.2h-1.2zM829.0 817.2h1.2v1.2h-1.2zM861.1 807.8h1.2v1.2h-1.2zM781.7 849.6h1.2v1.2h-1.2zM778.7 856.4h1.2v1.2h-1.2zM772.6 877.8h1.2v1.2h-1.2zM758.5 811.1h1.2v1.2h-1.2zM792.3 849.8h1.2v1.2h-1.2zM742.4 867.7h1.2v1.2h-1.2zM795.8 811.6h1.2v1.2h-1.2zM791.6 866.2h1.2v1.2h-1.2zM776.0 878.7h1.2v1.2h-1.2zM829.0 856.6h1.2v1.2h-1.2zM786.4 826.7h1.2v1.2h-1.2zM825.6 850.5h1.2v1.2h-1.2zM745.1 872.1h1.2v1.2h-1.2zM825.0 798.1h1.2v1.2h-1.2zM739.3 898.3h1.2v1.2h-1.2zM805.3 840.5h1.2v1.2h-1.2zM767.2 841.4h1.2v1.2h-1.2zM749.7 870.5h1.2v1.2h-1.2zM818.5 862.4h1.2v1.2h-1.2zM731.4 896.7h1.2v1.2h-1.2zM815.6 850.4h1.2v1.2h-1.2zM768.4 861.0h1.2v1.2h-1.2zM780.3 828.2h1.2v1.2h-1.2zM801.8 820.2h1.2v1.2h-1.2zM805.4 877.4h1.2v1.2h-1.2zM770.8 884.5h1.2v1.2h-1.2zM800.4 820.8h1.2v1.2h-1.2zM827.3 804.2h1.2v1.2h-1.2zM808.5 911.8h1.2v1.2h-1.2zM814.3 836.2h1.2v1.2h-1.2zM829.3 804.3h1.2v1.2h-1.2zM804.8 846.0h1.2v1.2h-1.2zM760.5 864.8h1.2v1.2h-1.2zM820.7 816.1h1.2v1.2h-1.2zM787.4 862.0h1.2v1.2h-1.2zM778.4 878.8h1.2v1.2h-1.2zM805.6 839.8h1.2v1.2h-1.2zM839.7 839.8h1.2v1.2h-1.2zM796.8 832.2h1.2v1.2h-1.2zM830.4 813.6h1.2v1.2h-1.2zM826.1 819.5h1.2v1.2h-1.2zM752.0 844.4h1.2v1.2h-1.2zM764.5 834.6h1.2v1.2h-1.2zM873.2 848.5h1.2v1.2h-1.2zM843.9 790.0h1.2v1.2h-1.2zM830.0 836.4h1.2v1.2h-1.2zM803.1 803.7h1.2v1.2h-1.2zM798.8 864.3h1.2v1.2h-1.2zM845.4 821.3h1.2v1.2h-1.2zM783.4 870.6h1.2v1.2h-1.2zM781.8 881.3h1.2v1.2h-1.2zM830.9 796.8h1.2v1.2h-1.2zM799.5 903.7h1.2v1.2h-1.2zM769.0 868.3h1.2v1.2h-1.2zM714.1 891.6h1.2v1.2h-1.2zM847.2 812.8h1.2v1.2h-1.2zM859.2 813.0h1.2v1.2h-1.2zM749.9 885.4h1.2v1.2h-1.2zM830.9 811.7h1.2v1.2h-1.2zM794.4 826.6h1.2v1.2h-1.2zM787.7 882.4h1.2v1.2h-1.2zM820.9 828.8h1.2v1.2h-1.2zM831.7 854.9h1.2v1.2h-1.2zM774.7 860.4h1.2v1.2h-1.2zM747.5 893.7h1.2v1.2h-1.2zM831.2 857.8h1.2v1.2h-1.2zM826.0 807.8h1.2v1.2h-1.2zM786.0 837.5h1.2v1.2h-1.2zM812.1 843.5h1.2v1.2h-1.2zM780.3 878.3h1.2v1.2h-1.2zM817.7 832.6h1.2v1.2h-1.2zM793.6 841.7h1.2v1.2h-1.2zM852.9 782.1h1.2v1.2h-1.2zM879.4 850.7h1.2v1.2h-1.2zM822.0 839.2h1.2v1.2h-1.2zM732.8 923.0h1.2v1.2h-1.2zM750.3 870.5h1.2v1.2h-1.2zM778.5 865.8h1.2v1.2h-1.2zM787.9 858.0h1.2v1.2h-1.2zM787.7 836.6h1.2v1.2h-1.2zM778.6 877.8h1.2v1.2h-1.2zM765.9 864.5h1.2v1.2h-1.2zM790.7 827.0h1.2v1.2h-1.2zM788.1 859.7h1.2v1.2h-1.2zM746.4 894.1h1.2v1.2h-1.2zM777.7 845.8h1.2v1.2h-1.2zM851.1 817.7h1.2v1.2h-1.2zM851.0 807.9h1.2v1.2h-1.2zM757.4 844.1h1.2v1.2h-1.2zM821.1 859.8h1.2v1.2h-1.2zM820.7 803.4h1.2v1.2h-1.2zM750.5 833.5h1.2v1.2h-1.2zM826.1 835.8h1.2v1.2h-1.2zM734.7 902.6h1.2v1.2h-1.2zM845.6 786.6h1.2v1.2h-1.2zM776.9 843.6h1.2v1.2h-1.2zM821.1 821.1h1.2v1.2h-1.2zM838.5 782.9h1.2v1.2h-1.2zM811.2 849.2h1.2v1.2h-1.2zM841.7 800.3h1.2v1.2h-1.2zM762.1 910.9h1.2v1.2h-1.2zM740.8 812.6h1.2v1.2h-1.2zM818.8 839.9h1.2v1.2h-1.2zM808.6 830.9h1.2v1.2h-1.2zM732.7 890.1h1.2v1.2h-1.2zM772.6 853.5h1.2v1.2h-1.2zM809.4 804.9h1.2v1.2h-1.2zM843.6 808.9h1.2v1.2h-1.2zM770.5 844.2h1.2v1.2h-1.2zM783.7 832.5h1.2v1.2h-1.2zM875.6 803.4h1.2v1.2h-1.2zM791.1 856.4h1.2v1.2h-1.2zM775.8 854.3h1.2v1.2h-1.2zM790.3 899.4h1.2v1.2h-1.2zM836.0 845.9h1.2v1.2h-1.2zM827.4 821.9h1.2v1.2h-1.2zM856.1 826.5h1.2v1.2h-1.2zM767.4 880.1h1.2v1.2h-1.2zM821.5 817.6h1.2v1.2h-1.2zM805.8 829.9h1.2v1.2h-1.2zM843.2 797.9h1.2v1.2h-1.2zM854.4 820.4h1.2v1.2h-1.2zM806.8 865.2h1.2v1.2h-1.2zM776.5 865.1h1.2v1.2h-1.2zM817.4 840.5h1.2v1.2h-1.2zM861.2 816.3h1.2v1.2h-1.2zM760.2 904.1h1.2v1.2h-1.2zM801.2 868.9h1.2v1.2h-1.2zM765.5 866.3h1.2v1.2h-1.2zM839.2 852.1h1.2v1.2h-1.2zM785.4 887.0h1.2v1.2h-1.2zM822.4 799.7h1.2v1.2h-1.2zM821.4 809.9h1.2v1.2h-1.2zM847.4 841.8h1.2v1.2h-1.2zM828.8 860.0h1.2v1.2h-1.2zM838.2 850.8h1.2v1.2h-1.2zM836.6 857.6h1.2v1.2h-1.2zM788.7 825.2h1.2v1.2h-1.2zM735.0 867.0h1.2v1.2h-1.2zM809.2 853.7h1.2v1.2h-1.2zM816.7 840.8h1.2v1.2h-1.2zM827.5 823.5h1.2v1.2h-1.2zM789.0 855.4h1.2v1.2h-1.2zM855.8 829.2h1.2v1.2h-1.2zM761.5 867.8h1.2v1.2h-1.2zM787.6 826.4h1.2v1.2h-1.2zM761.4 848.7h1.2v1.2h-1.2zM791.5 874.6h1.2v1.2h-1.2zM851.4 825.8h1.2v1.2h-1.2zM747.7 854.4h1.2v1.2h-1.2zM816.8 818.0h1.2v1.2h-1.2zM790.7 927.1h1.2v1.2h-1.2zM862.5 799.5h1.2v1.2h-1.2zM845.4 807.8h1.2v1.2h-1.2zM788.6 887.1h1.2v1.2h-1.2zM824.9 863.4h1.2v1.2h-1.2zM796.0 846.9h1.2v1.2h-1.2zM750.2 892.8h1.2v1.2h-1.2zM856.3 852.8h1.2v1.2h-1.2zM849.8 802.3h1.2v1.2h-1.2zM831.8 847.0h1.2v1.2h-1.2zM813.7 848.2h1.2v1.2h-1.2zM820.9 840.8h1.2v1.2h-1.2zM823.5 831.2h1.2v1.2h-1.2zM751.7 886.5h1.2v1.2h-1.2zM773.1 835.0h1.2v1.2h-1.2zM823.0 802.9h1.2v1.2h-1.2zM814.2 847.7h1.2v1.2h-1.2zM843.0 819.0h1.2v1.2h-1.2zM852.5 837.3h1.2v1.2h-1.2zM872.5 848.5h1.2v1.2h-1.2zM858.1 804.7h1.2v1.2h-1.2zM815.6 841.8h1.2v1.2h-1.2zM711.7 868.5h1.2v1.2h-1.2zM776.6 836.8h1.2v1.2h-1.2zM836.8 854.5h1.2v1.2h-1.2zM861.7 798.3h1.2v1.2h-1.2zM840.4 807.4h1.2v1.2h-1.2zM797.0 880.7h1.2v1.2h-1.2zM833.7 845.3h1.2v1.2h-1.2zM763.7 856.1h1.2v1.2h-1.2zM782.4 829.7h1.2v1.2h-1.2zM827.3 870.2h1.2v1.2h-1.2zM740.9 911.3h1.2v1.2h-1.2zM752.9 899.1h1.2v1.2h-1.2zM802.8 806.9h1.2v1.2h-1.2zM780.3 846.8h1.2v1.2h-1.2zM786.4 885.1h1.2v1.2h-1.2zM777.6 879.3h1.2v1.2h-1.2zM770.7 855.3h1.2v1.2h-1.2zM742.6 863.2h1.2v1.2h-1.2zM754.4 876.2h1.2v1.2h-1.2zM840.5 792.7h1.2v1.2h-1.2zM828.9 879.6h1.2v1.2h-1.2zM764.2 920.1h1.2v1.2h-1.2zM810.9 806.4h1.2v1.2h-1.2zM833.7 845.3h1.2v1.2h-1.2zM787.2 884.4h1.2v1.2h-1.2zM736.0 870.0h1.2v1.2h-1.2zM783.5 861.6h1.2v1.2h-1.2zM795.4 831.4h1.2v1.2h-1.2zM786.5 867.5h1.2v1.2h-1.2zM765.8 809.4h1.2v1.2h-1.2zM808.8 828.1h1.2v1.2h-1.2zM810.5 845.4h1.2v1.2h-1.2zM777.7 882.3h1.2v1.2h-1.2zM784.5 835.0h1.2v1.2h-1.2zM855.2 788.7h1.2v1.2h-1.2zM794.6 856.8h1.2v1.2h-1.2zM754.3 862.2h1.2v1.2h-1.2zM790.9 785.6h1.2v1.2h-1.2zM873.4 796.1h1.2v1.2h-1.2zM793.9 845.7h1.2v1.2h-1.2zM777.0 846.3h1.2v1.2h-1.2zM810.8 795.2h1.2v1.2h-1.2zM754.9 880.1h1.2v1.2h-1.2zM749.1 902.9h1.2v1.2h-1.2zM862.2 837.8h1.2v1.2h-1.2zM844.3 803.1h1.2v1.2h-1.2zM826.7 800.3h1.2v1.2h-1.2zM763.8 898.2h1.2v1.2h-1.2zM875.1 781.3h1.2v1.2h-1.2zM820.5 835.1h1.2v1.2h-1.2z" fill="#2a2ad8"/>
<ellipse cx="714.5" cy="927.7" rx="7.5" ry="4.6" fill="#40b8f0"/>
<ellipse cx="714.5" cy="927.7" rx="5.6" ry="3.4" fill="#70e070"/>
<ellipse cx="714.5" cy="927.7" rx="3.4" ry="2" fill="#e0e040"/>
<ellipse cx="714.0" cy="927.7" rx="1.8" ry="1.1" fill="#d84a20"/>
<path d="M1030.8 923.8h1.2v1.2h-1.2zM1033.2 926.3h1.2v1.2h-1.2zM1042.4 923.1h1.2v1.2h-1.2zM1037.4 924.2h1.2v1.2h-1.2zM1025.9 926.0h1.2v1.2h-1.2zM1034.1 925.8h1.2v1.2h-1.2zM1031.0 922.7h1.2v1.2h-1.2zM1034.8 926.8h1.2v1.2h-1.2zM1026.1 926.7h1.2v1.2h-1.2zM1035.3 926.1h1.2v1.2h-1.2zM1035.3 923.8h1.2v1.2h-1.2zM1042.0 923.5h1.2v1.2h-1.2zM1035.7 920.5h1.2v1.2h-1.2zM1036.7 926.5h1.2v1.2h-1.2zM1026.6 922.4h1.2v1.2h-1.2zM1045.4 928.2h1.2v1.2h-1.2zM1024.5 924.4h1.2v1.2h-1.2zM1039.6 925.8h1.2v1.2h-1.2zM1032.5 921.0h1.2v1.2h-1.2zM1029.7 924.4h1.2v1.2h-1.2zM1030.8 927.5h1.2v1.2h-1.2zM1030.7 924.4h1.2v1.2h-1.2zM1036.0 925.1h1.2v1.2h-1.2zM1033.5 927.1h1.2v1.2h-1.2zM1041.5 927.0h1.2v1.2h-1.2zM1025.0 929.0h1.2v1.2h-1.2zM1034.1 917.9h1.2v1.2h-1.2zM1029.6 925.8h1.2v1.2h-1.2zM1038.0 923.2h1.2v1.2h-1.2zM1023.5 929.7h1.2v1.2h-1.2zM1032.4 929.4h1.2v1.2h-1.2zM1035.2 926.6h1.2v1.2h-1.2zM1026.7 926.6h1.2v1.2h-1.2zM1039.0 923.7h1.2v1.2h-1.2zM1035.0 929.2h1.2v1.2h-1.2zM1039.1 924.5h1.2v1.2h-1.2zM1038.9 921.6h1.2v1.2h-1.2zM1029.2 928.9h1.2v1.2h-1.2zM1030.1 923.4h1.2v1.2h-1.2zM1033.1 929.0h1.2v1.2h-1.2zM1037.8 925.1h1.2v1.2h-1.2zM1038.4 925.1h1.2v1.2h-1.2zM1030.6 920.9h1.2v1.2h-1.2zM1031.1 928.2h1.2v1.2h-1.2zM1030.1 925.6h1.2v1.2h-1.2zM1031.2 923.0h1.2v1.2h-1.2zM1032.9 929.7h1.2v1.2h-1.2zM1033.4 926.2h1.2v1.2h-1.2zM1044.4 928.8h1.2v1.2h-1.2zM1031.6 928.3h1.2v1.2h-1.2zM1032.7 924.1h1.2v1.2h-1.2zM1036.4 924.0h1.2v1.2h-1.2zM1029.3 918.4h1.2v1.2h-1.2zM1032.3 922.0h1.2v1.2h-1.2zM1034.2 922.3h1.2v1.2h-1.2zM1038.0 926.7h1.2v1.2h-1.2zM1027.5 927.1h1.2v1.2h-1.2zM1041.0 925.7h1.2v1.2h-1.2zM1032.3 933.0h1.2v1.2h-1.2zM1034.9 921.2h1.2v1.2h-1.2zM1038.3 928.2h1.2v1.2h-1.2zM1037.4 929.3h1.2v1.2h-1.2zM1039.4 927.5h1.2v1.2h-1.2zM1035.0 923.5h1.2v1.2h-1.2zM1034.0 922.4h1.2v1.2h-1.2zM1035.7 927.3h1.2v1.2h-1.2zM1029.1 924.9h1.2v1.2h-1.2zM1040.2 926.4h1.2v1.2h-1.2zM1030.2 929.2h1.2v1.2h-1.2zM1027.8 925.7h1.2v1.2h-1.2zM1044.4 926.1h1.2v1.2h-1.2zM1033.4 930.8h1.2v1.2h-1.2zM1028.2 922.9h1.2v1.2h-1.2zM1043.4 930.9h1.2v1.2h-1.2zM1032.5 925.5h1.2v1.2h-1.2zM1039.4 929.4h1.2v1.2h-1.2zM1030.0 928.7h1.2v1.2h-1.2zM1032.9 928.3h1.2v1.2h-1.2zM1025.7 924.1h1.2v1.2h-1.2zM1024.6 930.0h1.2v1.2h-1.2zM1029.2 926.8h1.2v1.2h-1.2zM1033.7 921.6h1.2v1.2h-1.2zM1038.1 928.3h1.2v1.2h-1.2zM1046.2 926.3h1.2v1.2h-1.2zM1028.9 924.2h1.2v1.2h-1.2zM1039.1 928.0h1.2v1.2h-1.2zM1031.1 924.8h1.2v1.2h-1.2zM1033.3 928.2h1.2v1.2h-1.2zM1026.7 924.1h1.2v1.2h-1.2zM1026.7 926.1h1.2v1.2h-1.2zM1030.2 929.1h1.2v1.2h-1.2zM1028.1 922.0h1.2v1.2h-1.2zM1034.1 926.5h1.2v1.2h-1.2zM1030.6 927.1h1.2v1.2h-1.2zM1040.4 929.0h1.2v1.2h-1.2zM1034.9 927.7h1.2v1.2h-1.2zM1034.9 926.5h1.2v1.2h-1.2zM1039.8 925.7h1.2v1.2h-1.2zM1036.7 923.0h1.2v1.2h-1.2zM1033.9 930.2h1.2v1.2h-1.2zM1033.6 927.3h1.2v1.2h-1.2zM1033.5 922.7h1.2v1.2h-1.2zM1039.5 925.7h1.2v1.2h-1.2zM1038.0 925.0h1.2v1.2h-1.2zM1035.9 921.5h1.2v1.2h-1.2zM1038.1 925.2h1.2v1.2h-1.2zM1031.4 924.9h1.2v1.2h-1.2zM1036.7 926.4h1.2v1.2h-1.2zM1027.0 921.0h1.2v1.2h-1.2zM1040.8 923.1h1.2v1.2h-1.2zM1034.6 928.4h1.2v1.2h-1.2zM1035.0 924.6h1.2v1.2h-1.2zM1037.1 929.7h1.2v1.2h-1.2zM1034.1 923.0h1.2v1.2h-1.2zM1032.8 924.3h1.2v1.2h-1.2zM1040.0 926.8h1.2v1.2h-1.2zM1034.7 927.5h1.2v1.2h-1.2zM1029.5 931.7h1.2v1.2h-1.2zM1036.3 924.0h1.2v1.2h-1.2zM1025.6 926.6h1.2v1.2h-1.2zM1042.4 927.2h1.2v1.2h-1.2zM1033.2 924.1h1.2v1.2h-1.2zM1034.3 928.3h1.2v1.2h-1.2zM1045.4 928.0h1.2v1.2h-1.2zM1044.9 928.4h1.2v1.2h-1.2zM1034.7 930.4h1.2v1.2h-1.2zM1037.2 919.1h1.2v1.2h-1.2zM1039.6 926.9h1.2v1.2h-1.2zM1042.5 927.4h1.2v1.2h-1.2zM1033.4 923.6h1.2v1.2h-1.2zM1034.8 935.8h1.2v1.2h-1.2zM1040.2 926.4h1.2v1.2h-1.2zM1035.4 926.3h1.2v1.2h-1.2zM1037.9 929.2h1.2v1.2h-1.2zM1037.1 924.9h1.2v1.2h-1.2zM1028.4 932.4h1.2v1.2h-1.2zM1029.8 926.3h1.2v1.2h-1.2zM1020.9 923.7h1.2v1.2h-1.2zM1032.8 933.1h1.2v1.2h-1.2zM1040.8 930.8h1.2v1.2h-1.2zM1028.6 926.9h1.2v1.2h-1.2zM1040.3 926.6h1.2v1.2h-1.2zM1039.1 928.5h1.2v1.2h-1.2zM1033.8 925.5h1.2v1.2h-1.2zM1034.1 925.9h1.2v1.2h-1.2zM1034.5 930.7h1.2v1.2h-1.2zM1029.8 927.0h1.2v1.2h-1.2zM1032.7 930.5h1.2v1.2h-1.2zM1033.9 933.0h1.2v1.2h-1.2zM1037.2 934.0h1.2v1.2h-1.2zM1038.1 923.7h1.2v1.2h-1.2zM1030.4 927.2h1.2v1.2h-1.2zM1038.2 920.9h1.2v1.2h-1.2zM1030.2 931.2h1.2v1.2h-1.2zM1033.3 927.9h1.2v1.2h-1.2zM1035.9 925.8h1.2v1.2h-1.2zM1034.0 927.2h1.2v1.2h-1.2zM1033.5 925.3h1.2v1.2h-1.2zM1035.4 926.4h1.2v1.2h-1.2zM1031.3 928.7h1.2v1.2h-1.2zM1030.8 933.8h1.2v1.2h-1.2zM1033.1 929.6h1.2v1.2h-1.2zM1038.9 921.6h1.2v1.2h-1.2zM1033.6 924.5h1.2v1.2h-1.2zM1043.6 922.6h1.2v1.2h-1.2zM1035.2 928.5h1.2v1.2h-1.2zM1019.2 927.3h1.2v1.2h-1.2zM1031.9 929.4h1.2v1.2h-1.2zM1042.4 925.5h1.2v1.2h-1.2zM1034.1 926.5h1.2v1.2h-1.2zM1031.9 925.3h1.2v1.2h-1.2zM1029.7 921.4h1.2v1.2h-1.2zM1040.7 929.2h1.2v1.2h-1.2zM1039.1 924.5h1.2v1.2h-1.2zM1037.5 930.9h1.2v1.2h-1.2zM1036.2 923.4h1.2v1.2h-1.2zM1041.3 928.0h1.2v1.2h-1.2zM1038.2 926.9h1.2v1.2h-1.2zM1028.0 926.3h1.2v1.2h-1.2zM1037.9 921.7h1.2v1.2h-1.2zM1034.9 926.8h1.2v1.2h-1.2zM1033.5 928.2h1.2v1.2h-1.2zM1037.9 930.2h1.2v1.2h-1.2zM1034.2 925.8h1.2v1.2h-1.2zM1019.4 929.2h1.2v1.2h-1.2zM1041.9 928.2h1.2v1.2h-1.2zM1039.3 926.7h1.2v1.2h-1.2zM1033.5 924.6h1.2v1.2h-1.2zM1032.2 928.8h1.2v1.2h-1.2zM1035.2 924.7h1.2v1.2h-1.2zM1027.7 921.4h1.2v1.2h-1.2zM1035.6 931.1h1.2v1.2h-1.2zM1032.9 922.6h1.2v1.2h-1.2zM1032.3 920.2h1.2v1.2h-1.2zM1029.5 928.4h1.2v1.2h-1.2zM1030.7 924.8h1.2v1.2h-1.2zM1039.6 930.8h1.2v1.2h-1.2zM1040.8 925.6h1.2v1.2h-1.2zM1036.6 927.6h1.2v1.2h-1.2zM1033.9 925.7h1.2v1.2h-1.2zM1029.7 929.4h1.2v1.2h-1.2zM1037.7 929.1h1.2v1.2h-1.2zM1042.2 928.0h1.2v1.2h-1.2zM1026.0 928.8h1.2v1.2h-1.2zM1040.0 928.5h1.2v1.2h-1.2zM1023.3 927.3h1.2v1.2h-1.2zM1032.4 930.0h1.2v1.2h-1.2zM1036.0 927.2h1.2v1.2h-1.2zM1027.3 925.3h1.2v1.2h-1.2zM1026.5 933.7h1.2v1.2h-1.2zM1035.0 926.1h1.2v1.2h-1.2zM1038.5 929.0h1.2v1.2h-1.2zM1031.7 930.1h1.2v1.2h-1.2zM1040.8 930.8h1.2v1.2h-1.2zM1030.2 929.3h1.2v1.2h-1.2zM1042.9 929.0h1.2v1.2h-1.2zM1034.7 925.7h1.2v1.2h-1.2zM1035.3 930.6h1.2v1.2h-1.2zM1037.2 923.7h1.2v1.2h-1.2zM1035.7 929.2h1.2v1.2h-1.2zM1043.3 924.7h1.2v1.2h-1.2zM1045.1 923.5h1.2v1.2h-1.2zM1036.8 930.4h1.2v1.2h-1.2zM1033.3 923.5h1.2v1.2h-1.2zM1028.2 920.2h1.2v1.2h-1.2zM1030.3 928.0h1.2v1.2h-1.2zM1034.1 924.9h1.2v1.2h-1.2zM1033.6 927.0h1.2v1.2h-1.2zM1033.9 926.3h1.2v1.2h-1.2zM1034.1 927.1h1.2v1.2h-1.2zM1036.6 928.0h1.2v1.2h-1.2zM1027.3 924.3h1.2v1.2h-1.2zM1029.0 923.8h1.2v1.2h-1.2zM1039.7 926.5h1.2v1.2h-1.2zM1038.3 921.9h1.2v1.2h-1.2zM1031.4 923.2h1.2v1.2h-1.2zM1040.6 924.3h1.2v1.2h-1.2zM1030.7 928.6h1.2v1.2h-1.2zM1032.8 920.7h1.2v1.2h-1.2zM1025.0 922.4h1.2v1.2h-1.2zM1029.7 933.8h1.2v1.2h-1.2zM1038.1 929.0h1.2v1.2h-1.2zM1043.1 920.0h1.2v1.2h-1.2zM1054.5 922.2h1.2v1.2h-1.2zM1056.9 927.6h1.2v1.2h-1.2zM1044.7 933.2h1.2v1.2h-1.2zM1049.0 928.4h1.2v1.2h-1.2zM1052.6 923.9h1.2v1.2h-1.2zM1036.8 924.1h1.2v1.2h-1.2zM1051.8 929.1h1.2v1.2h-1.2zM1044.6 929.6h1.2v1.2h-1.2zM1048.5 924.2h1.2v1.2h-1.2zM1046.7 927.9h1.2v1.2h-1.2zM1037.6 924.5h1.2v1.2h-1.2zM1039.1 924.1h1.2v1.2h-1.2zM1047.4 920.9h1.2v1.2h-1.2zM1048.1 926.6h1.2v1.2h-1.2zM1045.0 925.8h1.2v1.2h-1.2zM1055.6 935.2h1.2v1.2h-1.2zM1044.2 922.5h1.2v1.2h-1.2zM1037.4 922.3h1.2v1.2h-1.2zM1044.3 926.8h1.2v1.2h-1.2zM1045.7 935.6h1.2v1.2h-1.2zM1046.1 929.1h1.2v1.2h-1.2zM1056.4 928.2h1.2v1.2h-1.2zM1051.2 919.7h1.2v1.2h-1.2zM1055.5 926.2h1.2v1.2h-1.2zM1052.1 924.9h1.2v1.2h-1.2zM1045.8 923.8h1.2v1.2h-1.2zM1055.4 923.3h1.2v1.2h-1.2zM1045.0 931.2h1.2v1.2h-1.2zM1049.1 930.7h1.2v1.2h-1.2zM1039.1 930.5h1.2v1.2h-1.2zM1047.9 928.4h1.2v1.2h-1.2zM1044.5 928.1h1.2v1.2h-1.2zM1050.1 927.2h1.2v1.2h-1.2zM1061.7 933.3h1.2v1.2h-1.2zM1066.1 929.7h1.2v1.2h-1.2zM1055.3 931.7h1.2v1.2h-1.2zM1046.9 919.1h1.2v1.2h-1.2zM1053.8 930.2h1.2v1.2h-1.2zM1049.0 917.7h1.2v1.2h-1.2zM1042.3 920.2h1.2v1.2h-1.2zM1046.7 931.7h1.2v1.2h-1.2zM1045.2 923.2h1.2v1.2h-1.2zM1042.3 924.1h1.2v1.2h-1.2zM1058.2 934.7h1.2v1.2h-1.2zM1042.8 924.2h1.2v1.2h-1.2zM1043.2 926.9h1.2v1.2h-1.2zM1052.8 926.7h1.2v1.2h-1.2zM1041.6 929.6h1.2v1.2h-1.2zM1038.0 926.1h1.2v1.2h-1.2zM1040.4 924.6h1.2v1.2h-1.2zM1051.0 928.5h1.2v1.2h-1.2zM1050.2 930.0h1.2v1.2h-1.2zM1049.6 928.2h1.2v1.2h-1.2zM1043.5 930.4h1.2v1.2h-1.2zM1039.9 924.8h1.2v1.2h-1.2zM1054.4 938.1h1.2v1.2h-1.2zM1035.6 919.7h1.2v1.2h-1.2zM1045.5 926.7h1.2v1.2h-1.2zM1036.6 923.8h1.2v1.2h-1.2zM1044.0 923.5h1.2v1.2h-1.2zM1046.0 931.8h1.2v1.2h-1.2zM1057.0 920.0h1.2v1.2h-1.2zM1024.3 928.1h1.2v1.2h-1.2zM1058.2 927.1h1.2v1.2h-1.2zM1040.2 924.9h1.2v1.2h-1.2zM1049.6 922.6h1.2v1.2h-1.2zM1053.7 928.2h1.2v1.2h-1.2zM1041.1 931.7h1.2v1.2h-1.2zM1046.6 925.9h1.2v1.2h-1.2zM1051.2 937.3h1.2v1.2h-1.2zM1046.3 927.9h1.2v1.2h-1.2zM1041.4 928.1h1.2v1.2h-1.2zM1048.8 921.5h1.2v1.2h-1.2zM1048.2 928.5h1.2v1.2h-1.2zM1035.3 927.2h1.2v1.2h-1.2zM1058.2 931.8h1.2v1.2h-1.2zM1049.1 930.8h1.2v1.2h-1.2zM1028.5 922.4h1.2v1.2h-1.2zM1035.0 906.1h1.2v1.2h-1.2zM1032.8 864.9h1.2v1.2h-1.2zM1034.3 901.7h1.2v1.2h-1.2zM1025.8 913.2h1.2v1.2h-1.2zM1025.1 922.8h1.2v1.2h-1.2zM1037.2 887.4h1.2v1.2h-1.2zM1034.4 861.0h1.2v1.2h-1.2zM1032.4 872.4h1.2v1.2h-1.2zM1033.8 920.6h1.2v1.2h-1.2zM1031.5 832.5h1.2v1.2h-1.2zM1032.2 927.3h1.2v1.2h-1.2zM1037.0 899.6h1.2v1.2h-1.2zM1033.2 872.8h1.2v1.2h-1.2zM1037.0 926.1h1.2v1.2h-1.2zM1031.2 913.3h1.2v1.2h-1.2zM1026.6 910.7h1.2v1.2h-1.2zM1031.4 826.3h1.2v1.2h-1.2zM1033.5 913.6h1.2v1.2h-1.2zM1029.4 904.6h1.2v1.2h-1.2zM1032.5 903.1h1.2v1.2h-1.2zM1032.0 894.7h1.2v1.2h-1.2zM1037.9 891.1h1.2v1.2h-1.2zM1037.6 815.0h1.2v1.2h-1.2zM1038.6 823.8h1.2v1.2h-1.2zM1030.9 922.7h1.2v1.2h-1.2zM1035.5 847.3h1.2v1.2h-1.2zM1039.4 897.0h1.2v1.2h-1.2zM1034.8 903.1h1.2v1.2h-1.2zM1033.8 914.8h1.2v1.2h-1.2zM1030.9 925.4h1.2v1.2h-1.2zM1037.5 917.7h1.2v1.2h-1.2zM1034.8 828.9h1.2v1.2h-1.2zM1038.2 883.3h1.2v1.2h-1.2zM1033.4 872.2h1.2v1.2h-1.2zM1042.6 903.2h1.2v1.2h-1.2zM1033.9 873.4h1.2v1.2h-1.2zM1029.0 907.4h1.2v1.2h-1.2zM1034.9 913.8h1.2v1.2h-1.2zM1036.1 917.9h1.2v1.2h-1.2zM1039.4 916.0h1.2v1.2h-1.2zM1032.1 920.5h1.2v1.2h-1.2zM1031.8 926.6h1.2v1.2h-1.2zM1032.9 912.4h1.2v1.2h-1.2zM1032.4 842.8h1.2v1.2h-1.2zM1025.3 916.0h1.2v1.2h-1.2zM1037.0 846.0h1.2v1.2h-1.2zM1039.2 886.8h1.2v1.2h-1.2zM1030.9 822.3h1.2v1.2h-1.2zM1030.0 920.7h1.2v1.2h-1.2zM1033.5 924.1h1.2v1.2h-1.2zM1030.7 907.6h1.2v1.2h-1.2zM1037.3 877.7h1.2v1.2h-1.2zM1031.5 922.1h1.2v1.2h-1.2zM1036.6 919.7h1.2v1.2h-1.2zM1028.9 877.7h1.2v1.2h-1.2zM1028.2 882.3h1.2v1.2h-1.2zM1027.6 878.3h1.2v1.2h-1.2zM1028.2 915.5h1.2v1.2h-1.2zM1035.9 866.7h1.2v1.2h-1.2zM1037.6 899.6h1.2v1.2h-1.2zM1034.7 851.0h1.2v1.2h-1.2zM1035.0 910.6h1.2v1.2h-1.2zM1024.9 923.5h1.2v1.2h-1.2zM1038.7 832.4h1.2v1.2h-1.2zM1029.0 914.4h1.2v1.2h-1.2zM1039.5 921.4h1.2v1.2h-1.2zM1044.1 886.2h1.2v1.2h-1.2zM1034.4 924.3h1.2v1.2h-1.2zM1036.7 908.2h1.2v1.2h-1.2zM1036.7 919.7h1.2v1.2h-1.2zM1028.7 895.6h1.2v1.2h-1.2zM1029.4 916.5h1.2v1.2h-1.2zM1031.2 912.2h1.2v1.2h-1.2zM1034.7 926.4h1.2v1.2h-1.2zM1037.6 873.8h1.2v1.2h-1.2zM1034.6 922.7h1.2v1.2h-1.2zM1038.7 921.3h1.2v1.2h-1.2zM1032.0 899.3h1.2v1.2h-1.2zM1028.3 862.6h1.2v1.2h-1.2zM1034.2 916.8h1.2v1.2h-1.2zM1033.9 895.6h1.2v1.2h-1.2zM1028.2 852.3h1.2v1.2h-1.2zM1038.3 913.1h1.2v1.2h-1.2zM1030.2 903.9h1.2v1.2h-1.2zM1031.1 893.4h1.2v1.2h-1.2zM1035.0 895.8h1.2v1.2h-1.2zM1029.7 905.8h1.2v1.2h-1.2zM1036.7 906.7h1.2v1.2h-1.2zM1035.7 918.6h1.2v1.2h-1.2zM1036.0 835.3h1.2v1.2h-1.2zM1034.1 915.0h1.2v1.2h-1.2zM1032.2 924.1h1.2v1.2h-1.2zM1031.0 927.6h1.2v1.2h-1.2zM1035.4 920.1h1.2v1.2h-1.2zM1039.8 918.4h1.2v1.2h-1.2zM1037.4 815.7h1.2v1.2h-1.2zM1035.7 922.4h1.2v1.2h-1.2zM1038.3 871.5h1.2v1.2h-1.2zM1039.7 916.1h1.2v1.2h-1.2zM1029.0 862.1h1.2v1.2h-1.2zM1034.0 889.4h1.2v1.2h-1.2zM1039.2 902.4h1.2v1.2h-1.2zM1031.5 834.1h1.2v1.2h-1.2zM1032.3 884.3h1.2v1.2h-1.2zM1036.8 895.2h1.2v1.2h-1.2zM1033.3 883.9h1.2v1.2h-1.2zM1039.2 898.7h1.2v1.2h-1.2zM1033.0 846.3h1.2v1.2h-1.2zM1036.7 894.2h1.2v1.2h-1.2zM1044.6 905.1h1.2v1.2h-1.2zM1039.0 836.9h1.2v1.2h-1.2zM1028.7 922.8h1.2v1.2h-1.2zM1030.0 860.9h1.2v1.2h-1.2zM1030.1 900.1h1.2v1.2h-1.2zM1034.1 914.2h1.2v1.2h-1.2zM1028.5 828.7h1.2v1.2h-1.2zM1036.6 868.5h1.2v1.2h-1.2zM1041.3 910.4h1.2v1.2h-1.2zM1040.7 910.6h1.2v1.2h-1.2zM1031.1 895.7h1.2v1.2h-1.2zM1033.1 920.5h1.2v1.2h-1.2zM1033.0 880.7h1.2v1.2h-1.2zM1030.8 905.6h1.2v1.2h-1.2zM1041.2 828.3h1.2v1.2h-1.2zM1031.4 857.6h1.2v1.2h-1.2zM1029.6 864.1h1.2v1.2h-1.2zM1035.7 910.6h1.2v1.2h-1.2zM1035.6 869.3h1.2v1.2h-1.2zM1040.5 906.7h1.2v1.2h-1.2zM1040.5 848.4h1.2v1.2h-1.2zM1033.4 908.1h1.2v1.2h-1.2zM1025.6 926.1h1.2v1.2h-1.2zM1037.0 868.6h1.2v1.2h-1.2zM1037.5 907.8h1.2v1.2h-1.2zM1041.5 854.6h1.2v1.2h-1.2zM1027.7 909.0h1.2v1.2h-1.2zM1029.4 835.2h1.2v1.2h-1.2zM1040.5 890.2h1.2v1.2h-1.2zM1040.8 924.6h1.2v1.2h-1.2zM1039.4 886.3h1.2v1.2h-1.2zM1034.0 916.6h1.2v1.2h-1.2zM1039.4 895.2h1.2v1.2h-1.2zM1031.8 883.1h1.2v1.2h-1.2zM1029.0 920.0h1.2v1.2h-1.2zM1033.8 869.3h1.2v1.2h-1.2zM1034.5 892.4h1.2v1.2h-1.2zM1037.4 906.2h1.2v1.2h-1.2zM1038.5 915.3h1.2v1.2h-1.2zM1026.8 860.4h1.2v1.2h-1.2zM1035.2 907.6h1.2v1.2h-1.2zM1036.0 873.9h1.2v1.2h-1.2zM1028.8 917.7h1.2v1.2h-1.2zM1032.9 908.0h1.2v1.2h-1.2zM1034.2 876.3h1.2v1.2h-1.2zM1035.8 906.0h1.2v1.2h-1.2zM1030.5 921.3h1.2v1.2h-1.2zM1031.5 914.9h1.2v1.2h-1.2zM1029.5 864.3h1.2v1.2h-1.2zM1035.4 896.1h1.2v1.2h-1.2zM1032.6 899.6h1.2v1.2h-1.2zM1031.6 853.8h1.2v1.2h-1.2zM1036.6 880.1h1.2v1.2h-1.2zM1033.3 823.9h1.2v1.2h-1.2zM1029.0 859.7h1.2v1.2h-1.2zM1038.6 894.2h1.2v1.2h-1.2zM1037.9 908.0h1.2v1.2h-1.2zM1035.8 906.5h1.2v1.2h-1.2zM1029.7 890.9h1.2v1.2h-1.2zM1038.5 887.0h1.2v1.2h-1.2zM1031.5 914.9h1.2v1.2h-1.2zM1026.3 892.6h1.2v1.2h-1.2zM1033.4 903.8h1.2v1.2h-1.2zM1041.3 910.6h1.2v1.2h-1.2zM1032.1 926.9h1.2v1.2h-1.2zM1036.3 901.7h1.2v1.2h-1.2zM1039.5 920.6h1.2v1.2h-1.2zM1034.7 907.0h1.2v1.2h-1.2zM1032.7 915.5h1.2v1.2h-1.2zM1034.0 896.3h1.2v1.2h-1.2zM1036.3 915.0h1.2v1.2h-1.2zM1031.9 912.4h1.2v1.2h-1.2zM1035.4 911.8h1.2v1.2h-1.2zM1036.2 920.3h1.2v1.2h-1.2zM1032.4 906.0h1.2v1.2h-1.2zM1036.9 898.5h1.2v1.2h-1.2zM1036.2 912.8h1.2v1.2h-1.2zM1032.6 920.7h1.2v1.2h-1.2zM1033.2 852.1h1.2v1.2h-1.2zM1034.4 854.1h1.2v1.2h-1.2zM1033.3 893.5h1.2v1.2h-1.2zM1033.1 922.6h1.2v1.2h-1.2zM1029.8 902.8h1.2v1.2h-1.2zM1034.4 892.4h1.2v1.2h-1.2zM1036.9 915.4h1.2v1.2h-1.2zM1036.5 911.4h1.2v1.2h-1.2zM1030.6 922.1h1.2v1.2h-1.2zM1036.2 899.0h1.2v1.2h-1.2zM1036.4 923.4h1.2v1.2h-1.2zM1030.2 916.8h1.2v1.2h-1.2zM1036.1 921.2h1.2v1.2h-1.2zM1033.3 884.4h1.2v1.2h-1.2zM1032.5 848.4h1.2v1.2h-1.2zM1034.9 881.4h1.2v1.2h-1.2zM1033.1 922.2h1.2v1.2h-1.2zM1025.0 923.0h1.2v1.2h-1.2zM1034.8 927.5h1.2v1.2h-1.2zM1029.5 921.6h1.2v1.2h-1.2zM1033.6 887.9h1.2v1.2h-1.2zM1036.7 926.0h1.2v1.2h-1.2zM1033.0 909.4h1.2v1.2h-1.2zM1032.2 922.3h1.2v1.2h-1.2zM1034.5 861.8h1.2v1.2h-1.2zM1035.9 868.1h1.2v1.2h-1.2zM1030.6 884.5h1.2v1.2h-1.2zM1031.4 920.9h1.2v1.2h-1.2zM1035.9 926.9h1.2v1.2h-1.2zM1040.3 918.6h1.2v1.2h-1.2zM1033.9 918.9h1.2v1.2h-1.2zM1037.4 903.4h1.2v1.2h-1.2zM1031.0 923.4h1.2v1.2h-1.2zM1034.0 889.6h1.2v1.2h-1.2zM1034.2 876.4h1.2v1.2h-1.2zM1028.8 841.2h1.2v1.2h-1.2zM1033.8 911.3h1.2v1.2h-1.2zM1033.2 862.3h1.2v1.2h-1.2zM1023.7 832.5h1.2v1.2h-1.2zM1033.5 902.6h1.2v1.2h-1.2zM1035.0 911.6h1.2v1.2h-1.2zM1034.8 876.9h1.2v1.2h-1.2zM1035.1 899.6h1.2v1.2h-1.2zM1029.4 887.7h1.2v1.2h-1.2zM1030.9 914.8h1.2v1.2h-1.2zM1033.0 915.7h1.2v1.2h-1.2zM1030.3 906.9h1.2v1.2h-1.2zM1031.9 886.1h1.2v1.2h-1.2zM1038.7 910.3h1.2v1.2h-1.2zM1030.3 878.8h1.2v1.2h-1.2zM1032.4 887.3h1.2v1.2h-1.2zM1041.1 913.5h1.2v1.2h-1.2zM1033.3 926.4h1.2v1.2h-1.2zM1029.8 897.4h1.2v1.2h-1.2zM1034.8 867.1h1.2v1.2h-1.2zM1034.5 923.8h1.2v1.2h-1.2zM1034.4 907.9h1.2v1.2h-1.2zM1027.3 895.6h1.2v1.2h-1.2zM1035.0 917.0h1.2v1.2h-1.2zM1035.4 924.6h1.2v1.2h-1.2zM1042.1 920.3h1.2v1.2h-1.2zM1036.6 907.9h1.2v1.2h-1.2zM1032.2 902.5h1.2v1.2h-1.2zM1035.2 925.0h1.2v1.2h-1.2zM1036.7 903.4h1.2v1.2h-1.2zM1033.5 911.1h1.2v1.2h-1.2zM1033.9 893.0h1.2v1.2h-1.2zM1039.5 894.1h1.2v1.2h-1.2zM1036.0 922.3h1.2v1.2h-1.2zM1036.2 884.9h1.2v1.2h-1.2zM1030.3 889.5h1.2v1.2h-1.2zM1035.9 918.0h1.2v1.2h-1.2zM1026.7 923.3h1.2v1.2h-1.2zM1039.1 922.2h1.2v1.2h-1.2zM1032.4 913.2h1.2v1.2h-1.2zM1036.8 891.3h1.2v1.2h-1.2zM1039.8 863.7h1.2v1.2h-1.2zM1030.0 873.0h1.2v1.2h-1.2zM1038.9 881.1h1.2v1.2h-1.2zM1035.2 869.5h1.2v1.2h-1.2zM1038.9 910.2h1.2v1.2h-1.2zM1032.9 901.3h1.2v1.2h-1.2zM1031.6 924.8h1.2v1.2h-1.2zM1039.5 897.9h1.2v1.2h-1.2zM1036.0 866.4h1.2v1.2h-1.2zM1034.6 898.1h1.2v1.2h-1.2zM1029.9 835.5h1.2v1.2h-1.2zM1039.6 822.4h1.2v1.2h-1.2zM1033.1 921.9h1.2v1.2h-1.2zM1033.5 918.4h1.2v1.2h-1.2zM1031.7 906.4h1.2v1.2h-1.2zM1034.4 926.6h1.2v1.2h-1.2zM1036.7 896.8h1.2v1.2h-1.2zM1034.1 902.4h1.2v1.2h-1.2zM1034.0 885.6h1.2v1.2h-1.2zM1032.2 895.6h1.2v1.2h-1.2zM1040.2 897.2h1.2v1.2h-1.2zM1040.8 881.6h1.2v1.2h-1.2zM1033.2 823.5h1.2v1.2h-1.2zM1030.9 839.1h1.2v1.2h-1.2zM1035.4 888.4h1.2v1.2h-1.2zM1028.0 818.2h1.2v1.2h-1.2zM1035.3 858.3h1.2v1.2h-1.2zM1035.4 905.7h1.2v1.2h-1.2zM1035.0 893.8h1.2v1.2h-1.2zM1040.6 864.1h1.2v1.2h-1.2zM1041.5 922.9h1.2v1.2h-1.2zM1036.1 862.0h1.2v1.2h-1.2zM1032.9 927.8h1.2v1.2h-1.2zM1038.4 876.7h1.2v1.2h-1.2zM1038.8 914.6h1.2v1.2h-1.2zM1029.6 896.9h1.2v1.2h-1.2zM1031.4 914.3h1.2v1.2h-1.2zM1033.3 923.7h1.2v1.2h-1.2zM1027.8 926.4h1.2v1.2h-1.2zM1029.9 910.7h1.2v1.2h-1.2zM1040.7 858.1h1.2v1.2h-1.2zM1029.3 860.0h1.2v1.2h-1.2zM1037.6 894.3h1.2v1.2h-1.2zM1031.1 925.5h1.2v1.2h-1.2zM1038.2 883.3h1.2v1.2h-1.2zM1035.6 915.6h1.2v1.2h-1.2zM1037.9 916.7h1.2v1.2h-1.2zM1028.8 916.8h1.2v1.2h-1.2zM1035.5 911.6h1.2v1.2h-1.2zM1032.1 905.6h1.2v1.2h-1.2zM1037.3 906.6h1.2v1.2h-1.2zM1037.1 911.5h1.2v1.2h-1.2zM1035.0 923.3h1.2v1.2h-1.2zM1033.8 920.3h1.2v1.2h-1.2zM1034.3 895.6h1.2v1.2h-1.2zM1035.3 906.2h1.2v1.2h-1.2zM1032.3 912.2h1.2v1.2h-1.2zM1032.6 887.3h1.2v1.2h-1.2zM1031.8 922.8h1.2v1.2h-1.2zM1030.2 922.4h1.2v1.2h-1.2zM1038.4 879.3h1.2v1.2h-1.2zM1029.1 904.1h1.2v1.2h-1.2zM1039.4 870.7h1.2v1.2h-1.2zM1037.1 891.3h1.2v1.2h-1.2zM1027.6 911.6h1.2v1.2h-1.2zM1027.1 914.3h1.2v1.2h-1.2zM1034.4 910.5h1.2v1.2h-1.2zM1030.1 920.1h1.2v1.2h-1.2zM1034.8 902.2h1.2v1.2h-1.2zM1038.0 915.3h1.2v1.2h-1.2zM1035.7 923.5h1.2v1.2h-1.2zM1033.4 882.5h1.2v1.2h-1.2zM1033.6 915.4h1.2v1.2h-1.2zM1040.1 895.0h1.2v1.2h-1.2zM1032.9 927.0h1.2v1.2h-1.2zM1041.1 889.8h1.2v1.2h-1.2zM1042.3 918.4h1.2v1.2h-1.2zM1032.9 867.3h1.2v1.2h-1.2zM1035.5 920.2h1.2v1.2h-1.2zM1041.1 906.5h1.2v1.2h-1.2zM1031.6 830.6h1.2v1.2h-1.2zM1036.1 862.9h1.2v1.2h-1.2zM1038.5 909.8h1.2v1.2h-1.2zM1030.3 869.5h1.2v1.2h-1.2zM1035.9 854.8h1.2v1.2h-1.2zM1034.9 927.7h1.2v1.2h-1.2zM1032.4 920.1h1.2v1.2h-1.2zM1040.5 925.2h1.2v1.2h-1.2zM1033.9 914.9h1.2v1.2h-1.2zM1043.4 919.9h1.2v1.2h-1.2zM1037.3 927.6h1.2v1.2h-1.2zM1031.7 927.4h1.2v1.2h-1.2zM1035.5 905.1h1.2v1.2h-1.2zM1031.5 904.7h1.2v1.2h-1.2zM1037.7 904.5h1.2v1.2h-1.2zM1037.1 911.4h1.2v1.2h-1.2zM1029.8 905.4h1.2v1.2h-1.2zM1032.9 909.1h1.2v1.2h-1.2zM1036.3 885.1h1.2v1.2h-1.2zM1034.7 894.3h1.2v1.2h-1.2zM1030.6 861.1h1.2v1.2h-1.2zM1038.8 887.0h1.2v1.2h-1.2zM1039.8 889.4h1.2v1.2h-1.2zM1028.6 914.3h1.2v1.2h-1.2zM1040.2 849.3h1.2v1.2h-1.2zM1026.4 851.1h1.2v1.2h-1.2zM1033.9 914.7h1.2v1.2h-1.2zM1031.8 891.1h1.2v1.2h-1.2zM1032.2 917.9h1.2v1.2h-1.2zM1035.1 894.9h1.2v1.2h-1.2zM1029.8 907.3h1.2v1.2h-1.2zM1034.0 905.2h1.2v1.2h-1.2zM1041.0 907.7h1.2v1.2h-1.2zM1036.2 892.7h1.2v1.2h-1.2zM1040.2 862.1h1.2v1.2h-1.2zM1037.8 901.3h1.2v1.2h-1.2zM1028.0 923.9h1.2v1.2h-1.2zM1041.3 927.0h1.2v1.2h-1.2zM1037.7 911.3h1.2v1.2h-1.2zM1036.9 834.1h1.2v1.2h-1.2zM1032.9 919.7h1.2v1.2h-1.2zM1032.3 925.0h1.2v1.2h-1.2zM1030.3 856.1h1.2v1.2h-1.2zM1033.8 907.3h1.2v1.2h-1.2zM1034.8 860.6h1.2v1.2h-1.2zM1033.8 857.3h1.2v1.2h-1.2zM1033.8 904.8h1.2v1.2h-1.2zM1026.8 845.8h1.2v1.2h-1.2zM1031.4 926.7h1.2v1.2h-1.2zM1031.3 841.2h1.2v1.2h-1.2zM1035.5 909.1h1.2v1.2h-1.2zM1032.6 922.9h1.2v1.2h-1.2zM1032.6 897.4h1.2v1.2h-1.2zM1034.7 856.0h1.2v1.2h-1.2zM1032.5 914.5h1.2v1.2h-1.2zM1033.2 915.7h1.2v1.2h-1.2zM1038.6 918.0h1.2v1.2h-1.2zM1033.7 872.5h1.2v1.2h-1.2zM1030.8 897.1h1.2v1.2h-1.2zM1036.6 919.0h1.2v1.2h-1.2zM1037.4 894.6h1.2v1.2h-1.2zM1036.8 860.3h1.2v1.2h-1.2zM1029.2 919.3h1.2v1.2h-1.2zM1038.0 898.9h1.2v1.2h-1.2zM1034.5 908.9h1.2v1.2h-1.2zM1034.8 866.3h1.2v1.2h-1.2zM1034.7 923.4h1.2v1.2h-1.2zM1036.1 913.1h1.2v1.2h-1.2zM1036.2 912.0h1.2v1.2h-1.2zM1040.1 873.2h1.2v1.2h-1.2zM1035.3 906.3h1.2v1.2h-1.2zM1034.0 919.7h1.2v1.2h-1.2zM1036.8 916.6h1.2v1.2h-1.2zM1033.9 901.7h1.2v1.2h-1.2zM1038.6 924.2h1.2v1.2h-1.2zM1035.0 922.7h1.2v1.2h-1.2zM1037.2 861.4h1.2v1.2h-1.2zM1032.4 883.3h1.2v1.2h-1.2zM1038.2 918.8h1.2v1.2h-1.2zM1036.8 839.9h1.2v1.2h-1.2zM1031.1 899.2h1.2v1.2h-1.2zM1032.9 919.4h1.2v1.2h-1.2zM1034.7 893.5h1.2v1.2h-1.2zM1029.3 917.2h1.2v1.2h-1.2zM1030.1 919.0h1.2v1.2h-1.2zM1036.2 920.5h1.2v1.2h-1.2zM1036.3 869.4h1.2v1.2h-1.2zM1039.6 904.1h1.2v1.2h-1.2zM1029.4 927.1h1.2v1.2h-1.2zM1032.9 840.7h1.2v1.2h-1.2zM1026.5 891.3h1.2v1.2h-1.2zM1041.1 900.5h1.2v1.2h-1.2zM1029.2 927.0h1.2v1.2h-1.2zM1033.4 925.1h1.2v1.2h-1.2zM1041.8 915.2h1.2v1.2h-1.2zM1039.8 842.4h1.2v1.2h-1.2zM1031.0 923.3h1.2v1.2h-1.2zM1043.0 898.3h1.2v1.2h-1.2zM1036.0 917.4h1.2v1.2h-1.2zM1030.3 916.6h1.2v1.2h-1.2zM1035.3 900.8h1.2v1.2h-1.2zM1036.8 913.1h1.2v1.2h-1.2zM1036.7 883.9h1.2v1.2h-1.2zM1026.0 909.0h1.2v1.2h-1.2zM1041.4 917.7h1.2v1.2h-1.2zM1028.0 915.3h1.2v1.2h-1.2zM1033.4 912.4h1.2v1.2h-1.2zM1039.8 871.5h1.2v1.2h-1.2zM1035.8 904.9h1.2v1.2h-1.2zM1034.1 923.8h1.2v1.2h-1.2zM1031.9 892.1h1.2v1.2h-1.2zM1036.5 889.2h1.2v1.2h-1.2zM1039.6 880.7h1.2v1.2h-1.2zM1032.1 892.6h1.2v1.2h-1.2zM1035.9 926.6h1.2v1.2h-1.2zM1032.8 916.3h1.2v1.2h-1.2zM1032.6 904.2h1.2v1.2h-1.2zM1026.2 927.7h1.2v1.2h-1.2zM1035.3 913.2h1.2v1.2h-1.2zM1037.9 829.3h1.2v1.2h-1.2zM1033.7 917.3h1.2v1.2h-1.2zM1038.3 876.2h1.2v1.2h-1.2zM1035.0 911.7h1.2v1.2h-1.2zM1039.1 920.4h1.2v1.2h-1.2zM1034.9 921.7h1.2v1.2h-1.2zM1032.9 885.5h1.2v1.2h-1.2zM1032.4 924.4h1.2v1.2h-1.2zM1034.7 923.6h1.2v1.2h-1.2zM1035.5 865.1h1.2v1.2h-1.2zM1031.3 916.3h1.2v1.2h-1.2zM1033.8 865.0h1.2v1.2h-1.2zM1029.2 913.4h1.2v1.2h-1.2zM1029.2 916.4h1.2v1.2h-1.2zM1036.9 824.2h1.2v1.2h-1.2zM1055.1 836.5h1.2v1.2h-1.2zM1065.2 836.8h1.2v1.2h-1.2zM1050.8 854.9h1.2v1.2h-1.2zM1052.9 816.0h1.2v1.2h-1.2zM1083.5 820.9h1.2v1.2h-1.2zM1032.0 903.0h1.2v1.2h-1.2zM1053.7 872.1h1.2v1.2h-1.2zM1078.4 795.3h1.2v1.2h-1.2zM1087.3 840.6h1.2v1.2h-1.2zM1059.0 773.7h1.2v1.2h-1.2zM1046.0 834.3h1.2v1.2h-1.2zM1027.8 838.5h1.2v1.2h-1.2zM1045.0 856.1h1.2v1.2h-1.2zM1050.9 848.7h1.2v1.2h-1.2zM1048.3 840.2h1.2v1.2h-1.2zM1057.6 819.8h1.2v1.2h-1.2zM1058.8 839.0h1.2v1.2h-1.2zM1038.8 847.7h1.2v1.2h-1.2zM1030.7 872.5h1.2v1.2h-1.2zM1042.2 857.1h1.2v1.2h-1.2zM1056.2 852.5h1.2v1.2h-1.2zM1079.2 839.6h1.2v1.2h-1.2zM1016.4 870.5h1.2v1.2h-1.2zM1068.3 865.8h1.2v1.2h-1.2zM1042.2 853.9h1.2v1.2h-1.2zM1068.7 898.8h1.2v1.2h-1.2zM1083.8 872.2h1.2v1.2h-1.2zM1057.2 862.8h1.2v1.2h-1.2zM1025.7 842.1h1.2v1.2h-1.2zM1039.6 864.8h1.2v1.2h-1.2zM1054.5 870.6h1.2v1.2h-1.2zM1041.2 831.9h1.2v1.2h-1.2zM1046.2 850.1h1.2v1.2h-1.2zM1032.6 818.0h1.2v1.2h-1.2zM1043.2 853.1h1.2v1.2h-1.2zM1035.5 867.1h1.2v1.2h-1.2zM1063.9 851.7h1.2v1.2h-1.2zM1053.3 803.3h1.2v1.2h-1.2zM1061.6 806.8h1.2v1.2h-1.2zM1016.2 851.8h1.2v1.2h-1.2zM1038.8 824.8h1.2v1.2h-1.2zM1033.2 884.5h1.2v1.2h-1.2zM1039.1 819.7h1.2v1.2h-1.2zM1030.6 843.8h1.2v1.2h-1.2zM1033.5 853.4h1.2v1.2h-1.2zM1077.5 839.3h1.2v1.2h-1.2zM1042.2 843.1h1.2v1.2h-1.2zM1023.3 865.0h1.2v1.2h-1.2zM1041.7 858.7h1.2v1.2h-1.2zM1090.3 866.1h1.2v1.2h-1.2zM1060.8 807.5h1.2v1.2h-1.2zM1029.6 874.6h1.2v1.2h-1.2zM1042.5 853.8h1.2v1.2h-1.2zM1045.9 824.8h1.2v1.2h-1.2zM1047.9 819.9h1.2v1.2h-1.2zM1011.9 824.4h1.2v1.2h-1.2zM1029.1 868.4h1.2v1.2h-1.2zM1044.0 861.3h1.2v1.2h-1.2zM1014.3 860.2h1.2v1.2h-1.2zM1043.7 895.3h1.2v1.2h-1.2zM1048.5 829.1h1.2v1.2h-1.2zM1062.0 885.8h1.2v1.2h-1.2zM1067.5 848.7h1.2v1.2h-1.2zM1043.6 830.2h1.2v1.2h-1.2zM1051.5 829.8h1.2v1.2h-1.2zM1060.1 858.3h1.2v1.2h-1.2zM1066.5 824.4h1.2v1.2h-1.2zM1048.6 825.1h1.2v1.2h-1.2zM1032.8 895.4h1.2v1.2h-1.2zM1058.5 854.7h1.2v1.2h-1.2zM1063.5 831.4h1.2v1.2h-1.2zM1050.0 840.3h1.2v1.2h-1.2zM1058.1 853.6h1.2v1.2h-1.2zM1077.6 846.1h1.2v1.2h-1.2zM1037.6 798.6h1.2v1.2h-1.2zM1033.8 863.6h1.2v1.2h-1.2zM1026.5 831.4h1.2v1.2h-1.2zM1053.9 878.0h1.2v1.2h-1.2zM1065.4 833.8h1.2v1.2h-1.2zM1037.6 828.7h1.2v1.2h-1.2zM1081.8 851.8h1.2v1.2h-1.2zM1036.2 868.4h1.2v1.2h-1.2zM1052.5 804.7h1.2v1.2h-1.2zM1045.2 855.4h1.2v1.2h-1.2zM1073.8 818.4h1.2v1.2h-1.2zM1035.4 887.3h1.2v1.2h-1.2zM1078.8 800.3h1.2v1.2h-1.2zM1044.1 897.4h1.2v1.2h-1.2zM1021.8 877.5h1.2v1.2h-1.2zM1036.6 865.6h1.2v1.2h-1.2zM1044.4 850.4h1.2v1.2h-1.2zM1079.5 835.0h1.2v1.2h-1.2zM1038.3 811.8h1.2v1.2h-1.2zM1047.2 797.6h1.2v1.2h-1.2zM1087.0 791.9h1.2v1.2h-1.2zM1050.4 826.5h1.2v1.2h-1.2zM1035.3 845.0h1.2v1.2h-1.2zM1033.2 900.0h1.2v1.2h-1.2zM1017.5 856.5h1.2v1.2h-1.2zM1054.0 858.8h1.2v1.2h-1.2zM1070.3 825.5h1.2v1.2h-1.2zM1040.3 872.5h1.2v1.2h-1.2zM1027.0 871.7h1.2v1.2h-1.2zM1052.3 862.9h1.2v1.2h-1.2zM1047.2 830.9h1.2v1.2h-1.2zM1044.3 843.0h1.2v1.2h-1.2zM1055.5 868.7h1.2v1.2h-1.2zM1047.5 887.6h1.2v1.2h-1.2zM1039.9 861.9h1.2v1.2h-1.2zM1065.9 856.8h1.2v1.2h-1.2zM1011.3 868.8h1.2v1.2h-1.2zM1025.1 850.1h1.2v1.2h-1.2zM1041.3 830.4h1.2v1.2h-1.2zM1020.7 834.3h1.2v1.2h-1.2zM1075.4 855.0h1.2v1.2h-1.2zM1059.9 806.5h1.2v1.2h-1.2zM1057.3 849.2h1.2v1.2h-1.2zM1052.9 827.2h1.2v1.2h-1.2zM1054.5 839.4h1.2v1.2h-1.2zM1035.4 839.6h1.2v1.2h-1.2zM1032.5 811.2h1.2v1.2h-1.2zM1073.4 844.4h1.2v1.2h-1.2zM1043.5 819.9h1.2v1.2h-1.2zM1018.2 840.1h1.2v1.2h-1.2zM1022.6 855.2h1.2v1.2h-1.2zM1016.8 864.3h1.2v1.2h-1.2zM1051.4 856.7h1.2v1.2h-1.2zM1068.1 811.8h1.2v1.2h-1.2zM1040.2 822.9h1.2v1.2h-1.2zM1049.0 864.9h1.2v1.2h-1.2zM1036.6 838.0h1.2v1.2h-1.2zM1063.3 884.3h1.2v1.2h-1.2zM1063.2 839.3h1.2v1.2h-1.2zM1064.2 791.0h1.2v1.2h-1.2zM1081.0 864.7h1.2v1.2h-1.2zM1023.1 843.7h1.2v1.2h-1.2zM1062.1 855.7h1.2v1.2h-1.2zM1017.1 850.5h1.2v1.2h-1.2zM1060.7 866.8h1.2v1.2h-1.2zM1062.6 836.2h1.2v1.2h-1.2zM1060.9 897.4h1.2v1.2h-1.2zM1062.5 847.1h1.2v1.2h-1.2zM1044.8 853.1h1.2v1.2h-1.2zM1035.2 850.3h1.2v1.2h-1.2zM1062.0 792.3h1.2v1.2h-1.2zM1035.5 876.0h1.2v1.2h-1.2zM1061.1 858.1h1.2v1.2h-1.2zM1031.4 882.2h1.2v1.2h-1.2zM1054.0 831.3h1.2v1.2h-1.2zM1053.1 843.4h1.2v1.2h-1.2zM1031.7 877.8h1.2v1.2h-1.2zM1041.6 824.3h1.2v1.2h-1.2zM1065.1 834.1h1.2v1.2h-1.2zM1048.3 810.6h1.2v1.2h-1.2zM1057.6 824.4h1.2v1.2h-1.2zM1037.3 846.1h1.2v1.2h-1.2zM1049.9 863.8h1.2v1.2h-1.2zM1019.8 904.9h1.2v1.2h-1.2zM1033.1 863.9h1.2v1.2h-1.2zM1071.5 812.1h1.2v1.2h-1.2zM1058.2 848.7h1.2v1.2h-1.2zM1048.0 866.2h1.2v1.2h-1.2zM1050.4 839.2h1.2v1.2h-1.2zM1022.2 834.7h1.2v1.2h-1.2zM1055.7 776.3h1.2v1.2h-1.2zM1024.4 876.0h1.2v1.2h-1.2zM1033.8 858.1h1.2v1.2h-1.2zM1060.8 870.3h1.2v1.2h-1.2zM1033.5 867.5h1.2v1.2h-1.2zM1037.7 826.6h1.2v1.2h-1.2zM1045.8 849.4h1.2v1.2h-1.2zM1049.3 881.4h1.2v1.2h-1.2zM1072.8 807.4h1.2v1.2h-1.2zM1014.9 811.9h1.2v1.2h-1.2zM1039.4 829.3h1.2v1.2h-1.2zM1058.3 867.9h1.2v1.2h-1.2zM1037.8 875.0h1.2v1.2h-1.2zM1039.6 817.3h1.2v1.2h-1.2zM1031.5 875.4h1.2v1.2h-1.2zM1041.1 862.1h1.2v1.2h-1.2zM1059.2 879.1h1.2v1.2h-1.2zM1070.5 794.1h1.2v1.2h-1.2zM1053.5 861.5h1.2v1.2h-1.2zM1073.0 844.3h1.2v1.2h-1.2zM1048.8 864.7h1.2v1.2h-1.2zM1015.4 871.8h1.2v1.2h-1.2zM1061.2 871.8h1.2v1.2h-1.2zM1045.7 864.2h1.2v1.2h-1.2zM1046.8 811.8h1.2v1.2h-1.2zM1025.3 884.3h1.2v1.2h-1.2zM1042.9 836.8h1.2v1.2h-1.2zM1036.5 826.6h1.2v1.2h-1.2zM1049.4 875.1h1.2v1.2h-1.2zM1041.0 843.2h1.2v1.2h-1.2zM1058.3 858.6h1.2v1.2h-1.2zM1039.6 876.5h1.2v1.2h-1.2zM1058.3 855.2h1.2v1.2h-1.2zM1046.8 893.8h1.2v1.2h-1.2zM1128.3 866.6h1.2v1.2h-1.2zM1169.2 801.6h1.2v1.2h-1.2zM1178.2 801.4h1.2v1.2h-1.2zM1133.7 872.3h1.2v1.2h-1.2zM1053.7 914.9h1.2v1.2h-1.2zM1081.5 844.0h1.2v1.2h-1.2zM1135.5 846.4h1.2v1.2h-1.2zM1126.2 851.8h1.2v1.2h-1.2zM1103.5 859.5h1.2v1.2h-1.2zM1125.3 922.8h1.2v1.2h-1.2zM1162.3 840.7h1.2v1.2h-1.2zM1144.0 826.6h1.2v1.2h-1.2zM1050.3 896.4h1.2v1.2h-1.2zM1108.0 887.1h1.2v1.2h-1.2zM1151.4 806.2h1.2v1.2h-1.2zM1115.3 847.8h1.2v1.2h-1.2zM1177.6 840.1h1.2v1.2h-1.2zM1115.6 892.1h1.2v1.2h-1.2zM1059.6 918.4h1.2v1.2h-1.2zM1107.4 871.0h1.2v1.2h-1.2zM1194.1 819.0h1.2v1.2h-1.2zM1168.7 844.9h1.2v1.2h-1.2zM1138.8 817.3h1.2v1.2h-1.2zM1126.2 879.8h1.2v1.2h-1.2zM1135.8 823.7h1.2v1.2h-1.2zM1143.8 835.8h1.2v1.2h-1.2zM1131.9 880.4h1.2v1.2h-1.2zM1143.7 868.2h1.2v1.2h-1.2zM1164.7 843.9h1.2v1.2h-1.2zM1092.7 868.2h1.2v1.2h-1.2zM1096.9 878.8h1.2v1.2h-1.2zM1113.8 804.0h1.2v1.2h-1.2zM1100.2 858.3h1.2v1.2h-1.2zM1167.6 795.8h1.2v1.2h-1.2zM1141.7 805.0h1.2v1.2h-1.2zM1077.2 894.4h1.2v1.2h-1.2zM1105.3 847.4h1.2v1.2h-1.2zM1211.1 762.9h1.2v1.2h-1.2zM1107.2 839.4h1.2v1.2h-1.2zM1125.0 869.3h1.2v1.2h-1.2zM1132.4 786.5h1.2v1.2h-1.2zM1164.3 762.4h1.2v1.2h-1.2zM1160.3 820.1h1.2v1.2h-1.2zM1103.2 828.4h1.2v1.2h-1.2zM1172.9 866.6h1.2v1.2h-1.2zM1158.1 819.8h1.2v1.2h-1.2zM1166.9 829.2h1.2v1.2h-1.2zM1133.9 804.2h1.2v1.2h-1.2zM1122.8 836.2h1.2v1.2h-1.2zM1200.8 804.1h1.2v1.2h-1.2zM1141.1 855.5h1.2v1.2h-1.2zM1124.1 879.3h1.2v1.2h-1.2zM1124.3 867.1h1.2v1.2h-1.2zM1103.8 852.7h1.2v1.2h-1.2zM1163.2 814.4h1.2v1.2h-1.2zM1126.2 850.8h1.2v1.2h-1.2zM1128.2 845.8h1.2v1.2h-1.2zM1197.1 839.8h1.2v1.2h-1.2zM1150.4 855.6h1.2v1.2h-1.2zM1075.9 856.4h1.2v1.2h-1.2zM1093.2 907.1h1.2v1.2h-1.2zM1151.5 878.2h1.2v1.2h-1.2zM1126.6 832.7h1.2v1.2h-1.2zM1183.5 786.7h1.2v1.2h-1.2zM1084.1 855.5h1.2v1.2h-1.2zM1179.8 813.0h1.2v1.2h-1.2zM1179.0 778.5h1.2v1.2h-1.2zM1177.9 791.9h1.2v1.2h-1.2zM1165.9 832.5h1.2v1.2h-1.2zM1095.3 856.0h1.2v1.2h-1.2zM1134.3 811.3h1.2v1.2h-1.2zM1201.8 819.6h1.2v1.2h-1.2zM1059.6 885.8h1.2v1.2h-1.2zM1114.4 885.6h1.2v1.2h-1.2zM1146.7 826.2h1.2v1.2h-1.2zM1063.6 899.5h1.2v1.2h-1.2zM1114.6 852.0h1.2v1.2h-1.2zM1158.6 800.7h1.2v1.2h-1.2zM1155.3 842.7h1.2v1.2h-1.2zM1181.1 817.6h1.2v1.2h-1.2zM1142.2 838.0h1.2v1.2h-1.2zM1171.1 840.2h1.2v1.2h-1.2zM1110.3 817.3h1.2v1.2h-1.2zM1135.5 874.7h1.2v1.2h-1.2zM1109.9 867.5h1.2v1.2h-1.2zM1125.4 801.1h1.2v1.2h-1.2zM1130.6 875.7h1.2v1.2h-1.2zM1108.1 890.0h1.2v1.2h-1.2zM1120.5 836.8h1.2v1.2h-1.2zM1109.8 879.4h1.2v1.2h-1.2zM1082.3 852.4h1.2v1.2h-1.2zM1122.8 798.1h1.2v1.2h-1.2zM1188.5 786.0h1.2v1.2h-1.2zM1118.8 880.8h1.2v1.2h-1.2zM1190.9 787.3h1.2v1.2h-1.2zM1146.2 849.4h1.2v1.2h-1.2zM1203.2 800.6h1.2v1.2h-1.2zM1113.8 834.9h1.2v1.2h-1.2zM1153.6 848.7h1.2v1.2h-1.2zM1162.7 820.2h1.2v1.2h-1.2zM1178.9 808.4h1.2v1.2h-1.2zM1193.5 797.0h1.2v1.2h-1.2zM1083.0 827.5h1.2v1.2h-1.2zM1128.2 839.3h1.2v1.2h-1.2zM1142.0 852.1h1.2v1.2h-1.2zM1120.4 820.9h1.2v1.2h-1.2zM1114.9 874.4h1.2v1.2h-1.2zM1136.2 799.3h1.2v1.2h-1.2zM1077.2 861.5h1.2v1.2h-1.2zM1144.0 887.5h1.2v1.2h-1.2zM1134.1 819.6h1.2v1.2h-1.2zM1153.9 824.0h1.2v1.2h-1.2zM1142.4 865.1h1.2v1.2h-1.2zM1098.5 858.6h1.2v1.2h-1.2zM1154.2 814.7h1.2v1.2h-1.2zM1095.2 889.5h1.2v1.2h-1.2zM1076.9 846.3h1.2v1.2h-1.2zM1180.9 779.8h1.2v1.2h-1.2zM1151.5 816.9h1.2v1.2h-1.2zM1076.7 851.0h1.2v1.2h-1.2zM1144.6 784.7h1.2v1.2h-1.2zM1165.3 807.9h1.2v1.2h-1.2zM1171.3 837.3h1.2v1.2h-1.2zM1186.5 814.9h1.2v1.2h-1.2zM1064.4 873.0h1.2v1.2h-1.2zM1144.5 810.3h1.2v1.2h-1.2zM1086.8 892.9h1.2v1.2h-1.2zM1077.3 921.2h1.2v1.2h-1.2zM1121.8 857.4h1.2v1.2h-1.2zM1198.7 783.0h1.2v1.2h-1.2zM1182.5 821.4h1.2v1.2h-1.2zM1162.8 772.3h1.2v1.2h-1.2zM1089.6 880.8h1.2v1.2h-1.2zM1111.5 841.8h1.2v1.2h-1.2zM1150.4 866.8h1.2v1.2h-1.2zM1164.8 796.3h1.2v1.2h-1.2zM1096.1 836.4h1.2v1.2h-1.2zM1161.1 829.1h1.2v1.2h-1.2zM1099.3 847.2h1.2v1.2h-1.2zM1089.6 872.4h1.2v1.2h-1.2zM1151.4 798.9h1.2v1.2h-1.2zM1166.1 822.7h1.2v1.2h-1.2zM1137.4 813.3h1.2v1.2h-1.2zM1133.8 846.5h1.2v1.2h-1.2zM1204.7 822.1h1.2v1.2h-1.2zM1159.3 800.6h1.2v1.2h-1.2zM1206.2 813.8h1.2v1.2h-1.2zM1194.2 790.0h1.2v1.2h-1.2zM1152.6 789.0h1.2v1.2h-1.2zM1165.0 841.2h1.2v1.2h-1.2zM1109.3 891.1h1.2v1.2h-1.2zM1152.9 871.2h1.2v1.2h-1.2zM1148.7 795.8h1.2v1.2h-1.2zM1068.7 902.6h1.2v1.2h-1.2zM1158.4 790.6h1.2v1.2h-1.2zM1117.0 906.4h1.2v1.2h-1.2zM1043.9 885.5h1.2v1.2h-1.2zM1131.9 856.3h1.2v1.2h-1.2zM1079.9 857.7h1.2v1.2h-1.2zM1098.1 856.9h1.2v1.2h-1.2zM1144.6 813.0h1.2v1.2h-1.2zM1134.1 892.7h1.2v1.2h-1.2zM1195.4 802.2h1.2v1.2h-1.2zM1151.6 822.4h1.2v1.2h-1.2zM1083.0 831.9h1.2v1.2h-1.2zM1101.2 865.0h1.2v1.2h-1.2zM1187.5 821.4h1.2v1.2h-1.2zM1164.1 839.2h1.2v1.2h-1.2zM1132.4 899.4h1.2v1.2h-1.2zM1118.2 835.6h1.2v1.2h-1.2zM1155.0 823.5h1.2v1.2h-1.2zM1099.1 859.5h1.2v1.2h-1.2zM1126.8 855.6h1.2v1.2h-1.2zM1076.2 864.7h1.2v1.2h-1.2zM1081.1 864.1h1.2v1.2h-1.2zM1084.3 866.4h1.2v1.2h-1.2zM1091.2 831.2h1.2v1.2h-1.2zM1170.3 837.8h1.2v1.2h-1.2zM1160.1 772.4h1.2v1.2h-1.2zM1112.5 887.4h1.2v1.2h-1.2zM1104.1 913.7h1.2v1.2h-1.2zM1159.6 866.7h1.2v1.2h-1.2zM1142.4 817.7h1.2v1.2h-1.2zM1136.8 829.8h1.2v1.2h-1.2zM1129.3 852.2h1.2v1.2h-1.2zM1137.6 860.7h1.2v1.2h-1.2zM1151.1 867.4h1.2v1.2h-1.2zM1162.8 810.6h1.2v1.2h-1.2zM1068.3 836.3h1.2v1.2h-1.2zM1121.2 807.1h1.2v1.2h-1.2zM1137.2 835.9h1.2v1.2h-1.2zM1186.4 803.7h1.2v1.2h-1.2zM1178.1 763.0h1.2v1.2h-1.2zM1177.1 819.0h1.2v1.2h-1.2zM1089.6 893.2h1.2v1.2h-1.2zM1172.5 812.8h1.2v1.2h-1.2zM1043.3 878.7h1.2v1.2h-1.2zM1121.1 815.3h1.2v1.2h-1.2zM1104.9 901.7h1.2v1.2h-1.2zM1132.4 848.7h1.2v1.2h-1.2zM1205.2 780.3h1.2v1.2h-1.2zM1155.8 818.2h1.2v1.2h-1.2zM1161.8 827.5h1.2v1.2h-1.2zM1105.2 866.0h1.2v1.2h-1.2zM1136.5 823.8h1.2v1.2h-1.2zM1064.2 880.5h1.2v1.2h-1.2zM1087.3 828.7h1.2v1.2h-1.2zM1185.6 823.8h1.2v1.2h-1.2zM1163.0 780.8h1.2v1.2h-1.2zM1097.3 838.2h1.2v1.2h-1.2zM1076.5 908.6h1.2v1.2h-1.2zM1053.1 865.8h1.2v1.2h-1.2zM1147.9 840.8h1.2v1.2h-1.2zM1096.6 822.4h1.2v1.2h-1.2zM1167.0 801.2h1.2v1.2h-1.2zM1049.0 835.5h1.2v1.2h-1.2zM1083.6 895.3h1.2v1.2h-1.2zM1118.5 847.6h1.2v1.2h-1.2zM1162.2 791.4h1.2v1.2h-1.2zM1144.7 815.6h1.2v1.2h-1.2zM1153.4 848.0h1.2v1.2h-1.2zM1117.2 895.9h1.2v1.2h-1.2zM1161.2 820.0h1.2v1.2h-1.2zM1076.1 855.2h1.2v1.2h-1.2zM1113.4 846.3h1.2v1.2h-1.2zM1122.7 826.0h1.2v1.2h-1.2zM1092.5 860.5h1.2v1.2h-1.2zM1070.5 859.9h1.2v1.2h-1.2zM1167.0 835.6h1.2v1.2h-1.2zM1136.6 781.3h1.2v1.2h-1.2zM1157.3 815.6h1.2v1.2h-1.2zM1082.7 815.8h1.2v1.2h-1.2zM1077.4 893.7h1.2v1.2h-1.2zM1132.4 870.2h1.2v1.2h-1.2zM1170.6 789.6h1.2v1.2h-1.2zM1151.4 829.9h1.2v1.2h-1.2zM1084.6 896.6h1.2v1.2h-1.2zM1199.6 801.2h1.2v1.2h-1.2zM1099.3 850.9h1.2v1.2h-1.2zM1057.5 880.2h1.2v1.2h-1.2zM1158.3 767.5h1.2v1.2h-1.2zM1102.5 888.9h1.2v1.2h-1.2zM1065.3 884.9h1.2v1.2h-1.2zM1075.7 891.3h1.2v1.2h-1.2zM1075.9 896.3h1.2v1.2h-1.2zM1128.7 839.8h1.2v1.2h-1.2zM1092.0 845.1h1.2v1.2h-1.2zM1077.0 850.9h1.2v1.2h-1.2zM1101.6 899.0h1.2v1.2h-1.2zM1138.2 873.1h1.2v1.2h-1.2zM1101.1 879.1h1.2v1.2h-1.2zM1106.3 813.1h1.2v1.2h-1.2zM1141.2 848.7h1.2v1.2h-1.2zM1099.0 858.8h1.2v1.2h-1.2zM1173.3 817.0h1.2v1.2h-1.2zM1096.7 877.6h1.2v1.2h-1.2zM1141.7 856.9h1.2v1.2h-1.2zM1111.7 864.7h1.2v1.2h-1.2zM1155.3 790.2h1.2v1.2h-1.2zM1183.2 825.5h1.2v1.2h-1.2zM1103.5 874.4h1.2v1.2h-1.2zM1148.5 831.1h1.2v1.2h-1.2zM1101.2 871.5h1.2v1.2h-1.2zM1112.7 844.0h1.2v1.2h-1.2zM1086.9 887.3h1.2v1.2h-1.2zM1151.5 818.8h1.2v1.2h-1.2zM1137.2 816.3h1.2v1.2h-1.2zM1125.0 834.5h1.2v1.2h-1.2zM1188.9 814.1h1.2v1.2h-1.2zM1089.1 875.1h1.2v1.2h-1.2zM1155.4 809.6h1.2v1.2h-1.2zM1149.4 778.2h1.2v1.2h-1.2zM1143.7 859.1h1.2v1.2h-1.2zM1147.8 806.4h1.2v1.2h-1.2zM1138.3 844.6h1.2v1.2h-1.2zM1158.1 772.6h1.2v1.2h-1.2zM1131.2 819.3h1.2v1.2h-1.2zM1104.2 883.6h1.2v1.2h-1.2zM1159.2 814.9h1.2v1.2h-1.2zM1075.1 903.5h1.2v1.2h-1.2zM1176.0 804.5h1.2v1.2h-1.2zM1152.2 818.5h1.2v1.2h-1.2zM1071.4 859.9h1.2v1.2h-1.2zM1168.6 802.9h1.2v1.2h-1.2zM1152.9 838.0h1.2v1.2h-1.2zM1068.9 879.5h1.2v1.2h-1.2zM1087.3 851.5h1.2v1.2h-1.2zM1102.8 874.9h1.2v1.2h-1.2zM1189.4 842.4h1.2v1.2h-1.2zM1078.2 880.5h1.2v1.2h-1.2zM1156.7 794.5h1.2v1.2h-1.2zM1133.3 852.8h1.2v1.2h-1.2zM1108.9 850.1h1.2v1.2h-1.2zM1147.9 825.1h1.2v1.2h-1.2zM1082.7 927.9h1.2v1.2h-1.2zM1091.5 892.8h1.2v1.2h-1.2zM1145.0 799.7h1.2v1.2h-1.2zM1177.5 787.2h1.2v1.2h-1.2zM1152.2 814.2h1.2v1.2h-1.2zM1163.5 813.3h1.2v1.2h-1.2zM1130.4 838.6h1.2v1.2h-1.2zM1188.1 795.6h1.2v1.2h-1.2zM1071.5 862.3h1.2v1.2h-1.2zM1197.8 792.5h1.2v1.2h-1.2zM1158.3 814.9h1.2v1.2h-1.2zM1189.1 810.1h1.2v1.2h-1.2zM1087.7 875.8h1.2v1.2h-1.2zM1160.5 815.5h1.2v1.2h-1.2zM1143.7 806.7h1.2v1.2h-1.2zM1110.1 844.5h1.2v1.2h-1.2zM1115.4 823.4h1.2v1.2h-1.2zM1117.8 782.3h1.2v1.2h-1.2zM1146.5 853.7h1.2v1.2h-1.2zM1109.6 862.3h1.2v1.2h-1.2zM1097.9 857.4h1.2v1.2h-1.2zM1172.7 814.3h1.2v1.2h-1.2zM1171.2 843.9h1.2v1.2h-1.2zM1082.1 794.7h1.2v1.2h-1.2zM1121.3 855.6h1.2v1.2h-1.2zM1129.7 825.0h1.2v1.2h-1.2zM1145.7 801.7h1.2v1.2h-1.2zM1124.3 818.6h1.2v1.2h-1.2zM1123.7 831.6h1.2v1.2h-1.2zM1093.8 869.9h1.2v1.2h-1.2zM1145.3 796.1h1.2v1.2h-1.2zM1193.8 801.0h1.2v1.2h-1.2zM1196.9 812.0h1.2v1.2h-1.2zM1093.9 892.6h1.2v1.2h-1.2zM1113.0 857.8h1.2v1.2h-1.2zM1154.9 825.4h1.2v1.2h-1.2zM1088.7 848.8h1.2v1.2h-1.2zM1143.9 825.1h1.2v1.2h-1.2zM1103.1 836.2h1.2v1.2h-1.2zM1128.7 863.9h1.2v1.2h-1.2zM1088.3 879.2h1.2v1.2h-1.2zM1059.1 880.8h1.2v1.2h-1.2zM1115.5 825.6h1.2v1.2h-1.2zM1103.4 924.1h1.2v1.2h-1.2zM1118.5 827.2h1.2v1.2h-1.2zM1111.3 821.2h1.2v1.2h-1.2zM1127.1 862.4h1.2v1.2h-1.2zM1125.5 897.4h1.2v1.2h-1.2zM1121.1 834.6h1.2v1.2h-1.2zM1107.1 856.0h1.2v1.2h-1.2zM1211.2 775.0h1.2v1.2h-1.2zM1138.1 804.2h1.2v1.2h-1.2zM1125.3 843.5h1.2v1.2h-1.2zM1191.4 832.6h1.2v1.2h-1.2zM1131.0 849.4h1.2v1.2h-1.2zM1166.0 849.1h1.2v1.2h-1.2zM1078.0 898.3h1.2v1.2h-1.2zM1078.3 869.7h1.2v1.2h-1.2zM1098.6 879.1h1.2v1.2h-1.2zM1059.3 849.7h1.2v1.2h-1.2zM1159.9 852.0h1.2v1.2h-1.2zM1204.0 851.0h1.2v1.2h-1.2zM1060.6 916.2h1.2v1.2h-1.2zM1204.5 821.1h1.2v1.2h-1.2zM1139.7 877.5h1.2v1.2h-1.2zM1196.3 770.1h1.2v1.2h-1.2zM1079.4 871.1h1.2v1.2h-1.2zM1186.3 817.7h1.2v1.2h-1.2zM1100.9 869.2h1.2v1.2h-1.2zM1119.1 859.5h1.2v1.2h-1.2zM1095.0 862.4h1.2v1.2h-1.2zM1190.1 770.1h1.2v1.2h-1.2zM1134.3 833.2h1.2v1.2h-1.2zM1149.4 823.0h1.2v1.2h-1.2zM1082.3 861.0h1.2v1.2h-1.2zM1131.5 887.4h1.2v1.2h-1.2zM1089.4 848.2h1.2v1.2h-1.2zM1080.2 828.5h1.2v1.2h-1.2zM1010.7 899.7h1.2v1.2h-1.2zM1101.4 876.6h1.2v1.2h-1.2zM1174.0 816.5h1.2v1.2h-1.2zM1137.8 816.0h1.2v1.2h-1.2zM1177.2 780.5h1.2v1.2h-1.2zM1157.1 773.4h1.2v1.2h-1.2zM1168.3 830.5h1.2v1.2h-1.2zM1101.6 872.5h1.2v1.2h-1.2zM1084.7 915.4h1.2v1.2h-1.2zM1176.2 834.0h1.2v1.2h-1.2zM1140.0 827.9h1.2v1.2h-1.2zM1192.9 821.6h1.2v1.2h-1.2zM1179.1 790.5h1.2v1.2h-1.2zM1158.2 840.6h1.2v1.2h-1.2zM1083.9 835.2h1.2v1.2h-1.2zM1118.2 831.9h1.2v1.2h-1.2zM1094.0 880.9h1.2v1.2h-1.2zM1189.5 778.0h1.2v1.2h-1.2zM1069.3 862.5h1.2v1.2h-1.2zM1150.9 816.4h1.2v1.2h-1.2zM1130.1 815.7h1.2v1.2h-1.2zM1118.1 878.6h1.2v1.2h-1.2zM1103.7 887.5h1.2v1.2h-1.2zM1089.5 857.4h1.2v1.2h-1.2zM1150.5 852.5h1.2v1.2h-1.2zM1078.7 885.1h1.2v1.2h-1.2zM1143.8 814.1h1.2v1.2h-1.2zM1092.9 900.6h1.2v1.2h-1.2zM1176.4 816.2h1.2v1.2h-1.2zM1126.5 860.5h1.2v1.2h-1.2zM1116.5 860.4h1.2v1.2h-1.2zM1128.7 861.6h1.2v1.2h-1.2zM1072.6 901.3h1.2v1.2h-1.2zM1172.6 842.9h1.2v1.2h-1.2zM1163.5 789.5h1.2v1.2h-1.2zM1120.2 784.2h1.2v1.2h-1.2zM1065.3 883.1h1.2v1.2h-1.2zM1191.2 787.4h1.2v1.2h-1.2zM1163.1 833.8h1.2v1.2h-1.2zM1072.2 872.2h1.2v1.2h-1.2zM1092.4 842.9h1.2v1.2h-1.2zM1108.1 881.0h1.2v1.2h-1.2zM1076.9 872.0h1.2v1.2h-1.2zM1092.9 819.4h1.2v1.2h-1.2zM1164.4 856.7h1.2v1.2h-1.2zM1114.8 827.8h1.2v1.2h-1.2zM1141.7 833.2h1.2v1.2h-1.2zM1144.9 864.8h1.2v1.2h-1.2zM1064.4 906.1h1.2v1.2h-1.2zM1207.8 817.6h1.2v1.2h-1.2zM1080.3 863.8h1.2v1.2h-1.2zM1097.6 890.9h1.2v1.2h-1.2zM1114.1 830.3h1.2v1.2h-1.2zM1089.5 883.5h1.2v1.2h-1.2zM1064.2 877.2h1.2v1.2h-1.2zM1148.5 778.7h1.2v1.2h-1.2zM1079.1 843.9h1.2v1.2h-1.2zM1172.9 778.2h1.2v1.2h-1.2zM1092.9 874.3h1.2v1.2h-1.2zM1199.3 779.0h1.2v1.2h-1.2zM1154.2 827.1h1.2v1.2h-1.2zM1160.0 831.3h1.2v1.2h-1.2zM1159.2 822.4h1.2v1.2h-1.2zM1140.8 793.5h1.2v1.2h-1.2zM1161.4 830.9h1.2v1.2h-1.2zM1107.9 847.1h1.2v1.2h-1.2zM1129.1 862.4h1.2v1.2h-1.2zM1146.4 821.0h1.2v1.2h-1.2zM1152.4 836.2h1.2v1.2h-1.2zM1120.1 839.4h1.2v1.2h-1.2zM1173.9 820.1h1.2v1.2h-1.2zM1149.7 826.7h1.2v1.2h-1.2zM1144.4 814.6h1.2v1.2h-1.2zM1123.3 860.2h1.2v1.2h-1.2zM1081.9 862.9h1.2v1.2h-1.2zM1127.3 867.1h1.2v1.2h-1.2zM1084.1 850.8h1.2v1.2h-1.2zM1190.5 803.6h1.2v1.2h-1.2zM1160.3 770.5h1.2v1.2h-1.2zM1118.0 818.9h1.2v1.2h-1.2zM1118.8 883.6h1.2v1.2h-1.2zM1182.3 823.2h1.2v1.2h-1.2zM1199.9 801.7h1.2v1.2h-1.2zM1141.7 829.6h1.2v1.2h-1.2zM1115.2 847.3h1.2v1.2h-1.2zM1182.7 774.5h1.2v1.2h-1.2zM1111.8 815.1h1.2v1.2h-1.2zM1051.4 884.2h1.2v1.2h-1.2zM1095.7 904.9h1.2v1.2h-1.2zM1174.1 806.5h1.2v1.2h-1.2zM1117.7 869.4h1.2v1.2h-1.2zM1075.6 893.8h1.2v1.2h-1.2zM1093.0 862.2h1.2v1.2h-1.2zM1083.7 844.2h1.2v1.2h-1.2zM1090.6 839.5h1.2v1.2h-1.2zM1160.6 799.5h1.2v1.2h-1.2zM1170.3 857.1h1.2v1.2h-1.2zM1105.8 872.4h1.2v1.2h-1.2zM1165.1 821.9h1.2v1.2h-1.2zM1185.4 818.4h1.2v1.2h-1.2zM1165.2 840.6h1.2v1.2h-1.2zM1157.1 781.4h1.2v1.2h-1.2zM1153.4 796.3h1.2v1.2h-1.2zM1098.8 891.1h1.2v1.2h-1.2zM1083.4 928.7h1.2v1.2h-1.2zM1143.0 812.1h1.2v1.2h-1.2zM1175.7 823.6h1.2v1.2h-1.2zM1139.9 828.8h1.2v1.2h-1.2zM1173.9 823.2h1.2v1.2h-1.2zM1164.2 845.5h1.2v1.2h-1.2zM1082.2 901.4h1.2v1.2h-1.2zM1104.5 889.1h1.2v1.2h-1.2zM1157.3 810.1h1.2v1.2h-1.2zM1140.2 820.6h1.2v1.2h-1.2zM1176.5 767.2h1.2v1.2h-1.2zM1135.2 864.3h1.2v1.2h-1.2zM1129.1 846.5h1.2v1.2h-1.2zM1105.3 830.2h1.2v1.2h-1.2zM1076.9 823.3h1.2v1.2h-1.2zM1138.9 817.5h1.2v1.2h-1.2zM1100.8 880.7h1.2v1.2h-1.2zM1181.0 794.3h1.2v1.2h-1.2zM1154.4 848.2h1.2v1.2h-1.2zM1117.7 846.7h1.2v1.2h-1.2zM1180.0 787.7h1.2v1.2h-1.2zM1166.9 802.5h1.2v1.2h-1.2zM1132.9 779.0h1.2v1.2h-1.2zM1075.9 861.0h1.2v1.2h-1.2zM1077.9 869.0h1.2v1.2h-1.2zM1106.5 857.6h1.2v1.2h-1.2zM1191.0 763.3h1.2v1.2h-1.2zM1082.6 879.2h1.2v1.2h-1.2zM1131.7 829.7h1.2v1.2h-1.2zM1154.4 829.1h1.2v1.2h-1.2zM1080.3 833.6h1.2v1.2h-1.2zM1058.3 907.0h1.2v1.2h-1.2zM1070.5 882.0h1.2v1.2h-1.2zM1155.9 807.6h1.2v1.2h-1.2zM1152.9 804.4h1.2v1.2h-1.2zM1187.8 793.9h1.2v1.2h-1.2zM1105.6 829.6h1.2v1.2h-1.2zM1157.5 818.8h1.2v1.2h-1.2zM1179.4 786.8h1.2v1.2h-1.2zM1116.4 851.0h1.2v1.2h-1.2zM1115.6 836.6h1.2v1.2h-1.2zM1180.1 821.5h1.2v1.2h-1.2zM1044.1 868.5h1.2v1.2h-1.2zM1104.5 890.1h1.2v1.2h-1.2zM1066.3 896.6h1.2v1.2h-1.2zM1098.3 892.7h1.2v1.2h-1.2zM1127.8 772.3h1.2v1.2h-1.2zM1156.6 818.0h1.2v1.2h-1.2zM1073.6 874.5h1.2v1.2h-1.2zM1118.5 886.0h1.2v1.2h-1.2zM1100.9 830.2h1.2v1.2h-1.2zM1138.9 813.6h1.2v1.2h-1.2zM1051.9 879.0h1.2v1.2h-1.2zM1103.4 832.5h1.2v1.2h-1.2zM1104.7 848.0h1.2v1.2h-1.2zM1055.7 876.4h1.2v1.2h-1.2zM1192.0 814.9h1.2v1.2h-1.2zM1098.9 873.7h1.2v1.2h-1.2zM1153.8 849.4h1.2v1.2h-1.2zM1166.3 822.7h1.2v1.2h-1.2zM1100.0 834.1h1.2v1.2h-1.2zM1122.8 870.9h1.2v1.2h-1.2zM1120.1 810.9h1.2v1.2h-1.2zM1131.8 833.3h1.2v1.2h-1.2zM1141.4 811.5h1.2v1.2h-1.2zM1060.5 866.4h1.2v1.2h-1.2zM1052.7 864.8h1.2v1.2h-1.2zM1143.0 864.5h1.2v1.2h-1.2zM1107.5 854.3h1.2v1.2h-1.2zM1199.2 809.4h1.2v1.2h-1.2zM1129.3 793.8h1.2v1.2h-1.2zM1063.1 919.1h1.2v1.2h-1.2zM1152.1 825.2h1.2v1.2h-1.2zM1102.6 854.5h1.2v1.2h-1.2zM1064.7 874.7h1.2v1.2h-1.2zM1091.7 878.3h1.2v1.2h-1.2zM1174.9 797.6h1.2v1.2h-1.2zM1087.0 839.7h1.2v1.2h-1.2zM1118.6 905.8h1.2v1.2h-1.2zM1094.6 880.1h1.2v1.2h-1.2zM1178.2 847.7h1.2v1.2h-1.2zM1111.9 824.5h1.2v1.2h-1.2zM1124.9 859.7h1.2v1.2h-1.2zM1083.5 886.9h1.2v1.2h-1.2zM1207.1 799.7h1.2v1.2h-1.2zM1192.6 785.6h1.2v1.2h-1.2zM1073.5 861.7h1.2v1.2h-1.2zM1091.5 859.8h1.2v1.2h-1.2zM1110.2 912.0h1.2v1.2h-1.2zM1136.7 826.9h1.2v1.2h-1.2zM1132.2 839.5h1.2v1.2h-1.2zM1107.2 849.2h1.2v1.2h-1.2zM1113.1 814.1h1.2v1.2h-1.2zM1157.1 850.5h1.2v1.2h-1.2zM1119.6 827.4h1.2v1.2h-1.2zM1064.1 905.8h1.2v1.2h-1.2zM1164.8 763.4h1.2v1.2h-1.2zM1142.0 829.0h1.2v1.2h-1.2zM1143.9 842.2h1.2v1.2h-1.2zM1056.0 851.8h1.2v1.2h-1.2zM1179.6 807.9h1.2v1.2h-1.2zM1068.2 845.7h1.2v1.2h-1.2zM1107.7 842.6h1.2v1.2h-1.2zM1137.4 859.6h1.2v1.2h-1.2zM1134.9 798.9h1.2v1.2h-1.2zM1142.7 868.2h1.2v1.2h-1.2zM1074.9 840.9h1.2v1.2h-1.2zM1061.5 876.6h1.2v1.2h-1.2zM1174.0 794.3h1.2v1.2h-1.2zM1119.3 862.2h1.2v1.2h-1.2zM1093.2 895.6h1.2v1.2h-1.2zM1181.6 839.8h1.2v1.2h-1.2zM1135.0 889.7h1.2v1.2h-1.2zM1117.4 806.9h1.2v1.2h-1.2zM1139.0 776.5h1.2v1.2h-1.2zM1112.6 852.0h1.2v1.2h-1.2zM1126.9 810.2h1.2v1.2h-1.2zM1109.0 916.0h1.2v1.2h-1.2zM1034.8 890.6h1.2v1.2h-1.2zM1068.6 866.1h1.2v1.2h-1.2zM1105.9 872.1h1.2v1.2h-1.2zM1064.2 860.6h1.2v1.2h-1.2zM1069.6 871.7h1.2v1.2h-1.2zM1116.0 859.8h1.2v1.2h-1.2zM1094.1 892.0h1.2v1.2h-1.2zM1134.6 778.3h1.2v1.2h-1.2zM1102.7 858.9h1.2v1.2h-1.2zM1148.9 835.2h1.2v1.2h-1.2zM1147.1 816.9h1.2v1.2h-1.2zM1163.3 794.8h1.2v1.2h-1.2zM1120.7 835.4h1.2v1.2h-1.2zM1181.5 857.9h1.2v1.2h-1.2zM1062.3 851.7h1.2v1.2h-1.2zM1162.6 812.1h1.2v1.2h-1.2zM1089.5 877.4h1.2v1.2h-1.2zM1191.7 836.1h1.2v1.2h-1.2zM1124.6 842.0h1.2v1.2h-1.2zM1094.6 864.4h1.2v1.2h-1.2zM1142.6 839.0h1.2v1.2h-1.2zM1117.1 862.0h1.2v1.2h-1.2zM1127.0 843.9h1.2v1.2h-1.2zM1136.8 867.6h1.2v1.2h-1.2zM1093.9 860.6h1.2v1.2h-1.2zM1092.7 867.3h1.2v1.2h-1.2zM1071.0 921.6h1.2v1.2h-1.2zM1071.1 844.7h1.2v1.2h-1.2zM1146.1 844.6h1.2v1.2h-1.2zM1128.7 815.7h1.2v1.2h-1.2zM1130.3 844.3h1.2v1.2h-1.2zM1126.3 877.7h1.2v1.2h-1.2zM1118.6 850.8h1.2v1.2h-1.2zM1109.4 858.6h1.2v1.2h-1.2zM1095.2 888.8h1.2v1.2h-1.2zM1114.1 829.8h1.2v1.2h-1.2zM1090.7 870.1h1.2v1.2h-1.2zM1131.1 828.6h1.2v1.2h-1.2zM1100.0 844.5h1.2v1.2h-1.2zM1149.2 807.5h1.2v1.2h-1.2zM1163.3 851.0h1.2v1.2h-1.2zM1103.1 856.2h1.2v1.2h-1.2zM1162.4 798.3h1.2v1.2h-1.2zM1102.5 863.7h1.2v1.2h-1.2zM1159.3 775.4h1.2v1.2h-1.2zM1101.9 836.3h1.2v1.2h-1.2zM1103.7 826.9h1.2v1.2h-1.2zM1120.6 859.2h1.2v1.2h-1.2zM1179.3 762.6h1.2v1.2h-1.2zM1073.2 866.4h1.2v1.2h-1.2zM1189.5 806.6h1.2v1.2h-1.2zM1156.1 844.6h1.2v1.2h-1.2zM1157.4 835.6h1.2v1.2h-1.2zM1108.8 869.0h1.2v1.2h-1.2zM1109.5 860.7h1.2v1.2h-1.2zM1184.4 812.6h1.2v1.2h-1.2zM1162.3 791.5h1.2v1.2h-1.2zM1130.7 850.5h1.2v1.2h-1.2zM1126.7 854.6h1.2v1.2h-1.2zM1160.3 787.1h1.2v1.2h-1.2zM1108.7 828.0h1.2v1.2h-1.2zM1141.3 832.8h1.2v1.2h-1.2zM1121.7 862.5h1.2v1.2h-1.2zM1111.3 872.9h1.2v1.2h-1.2zM1118.0 830.7h1.2v1.2h-1.2zM1080.5 839.1h1.2v1.2h-1.2zM1128.6 795.4h1.2v1.2h-1.2zM1181.3 783.9h1.2v1.2h-1.2zM1095.3 824.8h1.2v1.2h-1.2zM1164.6 786.8h1.2v1.2h-1.2zM1110.8 881.3h1.2v1.2h-1.2zM1136.4 773.7h1.2v1.2h-1.2zM1128.5 828.3h1.2v1.2h-1.2zM1135.4 854.7h1.2v1.2h-1.2zM1133.7 850.9h1.2v1.2h-1.2zM1142.0 861.8h1.2v1.2h-1.2zM1159.6 831.5h1.2v1.2h-1.2zM1105.3 782.8h1.2v1.2h-1.2zM1113.9 821.3h1.2v1.2h-1.2zM1065.7 876.4h1.2v1.2h-1.2zM1175.5 788.7h1.2v1.2h-1.2zM1181.0 836.0h1.2v1.2h-1.2zM1211.4 789.2h1.2v1.2h-1.2zM1096.2 865.3h1.2v1.2h-1.2zM1146.4 828.7h1.2v1.2h-1.2zM1162.7 808.4h1.2v1.2h-1.2zM1095.0 842.9h1.2v1.2h-1.2zM1121.6 861.4h1.2v1.2h-1.2zM1141.0 820.4h1.2v1.2h-1.2zM1039.3 848.6h1.2v1.2h-1.2zM1120.4 817.7h1.2v1.2h-1.2zM1112.4 858.9h1.2v1.2h-1.2zM1126.4 840.6h1.2v1.2h-1.2zM1114.4 856.9h1.2v1.2h-1.2zM1107.0 864.0h1.2v1.2h-1.2zM1098.9 858.0h1.2v1.2h-1.2zM1149.9 844.3h1.2v1.2h-1.2zM1070.3 884.0h1.2v1.2h-1.2zM1198.9 806.0h1.2v1.2h-1.2zM1126.0 846.4h1.2v1.2h-1.2zM1121.2 849.4h1.2v1.2h-1.2zM1084.3 855.4h1.2v1.2h-1.2zM1096.4 888.5h1.2v1.2h-1.2zM1126.5 804.0h1.2v1.2h-1.2zM1210.5 824.3h1.2v1.2h-1.2zM1173.0 786.8h1.2v1.2h-1.2zM1150.8 816.6h1.2v1.2h-1.2zM1151.7 871.5h1.2v1.2h-1.2zM1183.3 803.2h1.2v1.2h-1.2zM1173.9 804.7h1.2v1.2h-1.2zM1171.0 820.6h1.2v1.2h-1.2zM1146.1 840.3h1.2v1.2h-1.2zM1104.7 860.2h1.2v1.2h-1.2zM1084.4 868.9h1.2v1.2h-1.2zM1144.0 789.8h1.2v1.2h-1.2zM1125.0 801.5h1.2v1.2h-1.2zM1169.2 836.1h1.2v1.2h-1.2zM1130.4 876.8h1.2v1.2h-1.2zM1124.2 910.3h1.2v1.2h-1.2zM1195.3 780.1h1.2v1.2h-1.2zM1115.9 855.6h1.2v1.2h-1.2zM1148.5 835.3h1.2v1.2h-1.2zM1153.3 805.7h1.2v1.2h-1.2zM1080.7 866.4h1.2v1.2h-1.2zM1070.7 889.1h1.2v1.2h-1.2zM1192.4 823.4h1.2v1.2h-1.2zM1131.4 796.1h1.2v1.2h-1.2zM1070.6 859.6h1.2v1.2h-1.2zM1049.1 855.3h1.2v1.2h-1.2zM1164.3 763.9h1.2v1.2h-1.2zM1170.8 822.4h1.2v1.2h-1.2zM1150.6 845.4h1.2v1.2h-1.2zM1121.6 867.7h1.2v1.2h-1.2zM1168.6 839.1h1.2v1.2h-1.2zM1109.1 786.6h1.2v1.2h-1.2zM1107.5 842.4h1.2v1.2h-1.2zM1105.2 882.1h1.2v1.2h-1.2zM1171.9 809.1h1.2v1.2h-1.2zM1086.9 886.9h1.2v1.2h-1.2zM1079.4 864.5h1.2v1.2h-1.2zM1091.1 878.5h1.2v1.2h-1.2zM1140.9 827.8h1.2v1.2h-1.2zM1075.7 867.1h1.2v1.2h-1.2zM1105.1 899.0h1.2v1.2h-1.2zM1153.7 783.4h1.2v1.2h-1.2zM1105.3 896.0h1.2v1.2h-1.2zM1133.0 790.8h1.2v1.2h-1.2zM1095.3 901.8h1.2v1.2h-1.2zM1076.1 843.3h1.2v1.2h-1.2zM1150.5 816.8h1.2v1.2h-1.2zM1089.5 841.0h1.2v1.2h-1.2zM1163.5 832.4h1.2v1.2h-1.2zM1166.6 813.1h1.2v1.2h-1.2zM1125.4 802.2h1.2v1.2h-1.2zM1092.3 854.6h1.2v1.2h-1.2zM1085.4 906.3h1.2v1.2h-1.2zM1186.1 786.1h1.2v1.2h-1.2zM1113.1 883.1h1.2v1.2h-1.2zM1132.2 856.3h1.2v1.2h-1.2zM1146.8 823.3h1.2v1.2h-1.2zM1147.1 856.2h1.2v1.2h-1.2zM1169.1 857.5h1.2v1.2h-1.2zM1138.5 870.3h1.2v1.2h-1.2zM1134.0 863.0h1.2v1.2h-1.2zM1116.2 838.3h1.2v1.2h-1.2zM1117.3 895.8h1.2v1.2h-1.2zM1098.7 868.5h1.2v1.2h-1.2zM1161.1 782.3h1.2v1.2h-1.2zM1084.0 829.8h1.2v1.2h-1.2zM1107.0 869.4h1.2v1.2h-1.2zM1183.2 836.0h1.2v1.2h-1.2zM1111.5 824.5h1.2v1.2h-1.2zM1179.3 803.7h1.2v1.2h-1.2zM1069.8 868.4h1.2v1.2h-1.2zM1059.7 863.5h1.2v1.2h-1.2zM1128.9 844.4h1.2v1.2h-1.2zM1065.2 842.1h1.2v1.2h-1.2zM1079.7 893.9h1.2v1.2h-1.2zM1169.3 839.1h1.2v1.2h-1.2zM1106.5 867.6h1.2v1.2h-1.2zM1170.7 826.0h1.2v1.2h-1.2zM1127.6 859.2h1.2v1.2h-1.2zM1083.5 921.7h1.2v1.2h-1.2zM1150.2 766.9h1.2v1.2h-1.2zM1115.3 846.4h1.2v1.2h-1.2zM1139.7 784.0h1.2v1.2h-1.2zM1070.4 885.1h1.2v1.2h-1.2zM1161.8 838.9h1.2v1.2h-1.2zM1086.3 908.8h1.2v1.2h-1.2zM1167.8 792.5h1.2v1.2h-1.2zM1158.2 764.8h1.2v1.2h-1.2zM1100.3 869.9h1.2v1.2h-1.2zM1124.4 869.7h1.2v1.2h-1.2zM1196.4 842.8h1.2v1.2h-1.2zM1059.1 793.3h1.2v1.2h-1.2zM1105.3 869.4h1.2v1.2h-1.2zM1093.4 880.3h1.2v1.2h-1.2zM1084.2 853.1h1.2v1.2h-1.2zM1105.0 807.8h1.2v1.2h-1.2zM1168.8 795.5h1.2v1.2h-1.2zM1109.1 832.0h1.2v1.2h-1.2zM1105.0 855.4h1.2v1.2h-1.2zM1111.1 845.4h1.2v1.2h-1.2zM1140.7 771.2h1.2v1.2h-1.2zM1175.6 797.1h1.2v1.2h-1.2zM1116.3 850.0h1.2v1.2h-1.2zM1062.1 911.3h1.2v1.2h-1.2zM1096.6 883.5h1.2v1.2h-1.2zM1052.1 866.2h1.2v1.2h-1.2zM1179.7 782.5h1.2v1.2h-1.2zM1145.2 832.2h1.2v1.2h-1.2zM1102.7 835.8h1.2v1.2h-1.2zM1179.4 810.4h1.2v1.2h-1.2zM1065.0 909.8h1.2v1.2h-1.2zM1162.8 824.6h1.2v1.2h-1.2zM1093.1 856.3h1.2v1.2h-1.2zM1070.2 863.5h1.2v1.2h-1.2zM1153.3 826.4h1.2v1.2h-1.2zM1102.1 885.2h1.2v1.2h-1.2zM1140.6 865.8h1.2v1.2h-1.2zM1149.9 846.8h1.2v1.2h-1.2zM1084.5 882.2h1.2v1.2h-1.2zM1154.5 822.1h1.2v1.2h-1.2zM1117.7 810.3h1.2v1.2h-1.2zM1139.0 826.2h1.2v1.2h-1.2zM1087.8 877.2h1.2v1.2h-1.2zM1084.4 854.4h1.2v1.2h-1.2zM1069.0 892.5h1.2v1.2h-1.2zM1165.1 855.8h1.2v1.2h-1.2zM1155.7 798.9h1.2v1.2h-1.2zM1104.3 850.1h1.2v1.2h-1.2zM1136.2 828.0h1.2v1.2h-1.2zM1177.4 801.3h1.2v1.2h-1.2zM1175.0 828.3h1.2v1.2h-1.2zM1137.0 798.2h1.2v1.2h-1.2zM1205.5 788.7h1.2v1.2h-1.2z" fill="#2a2ad8"/>
<ellipse cx="1034.1" cy="926.3" rx="7.5" ry="4.6" fill="#40b8f0"/>
<ellipse cx="1034.1" cy="926.3" rx="5.6" ry="3.4" fill="#70e070"/>
<ellipse cx="1034.1" cy="926.3" rx="3.4" ry="2" fill="#e0e040"/>
<ellipse cx="1033.6" cy="926.3" rx="1.8" ry="1.1" fill="#d84a20"/>
<path d="M87.5 845.5h2v2h-2zM358 844.5h2v2h-2zM666.5 846h2v2h-2zM972.5 844h2v2h-2z" fill="#000"/>
</svg></body></html>
